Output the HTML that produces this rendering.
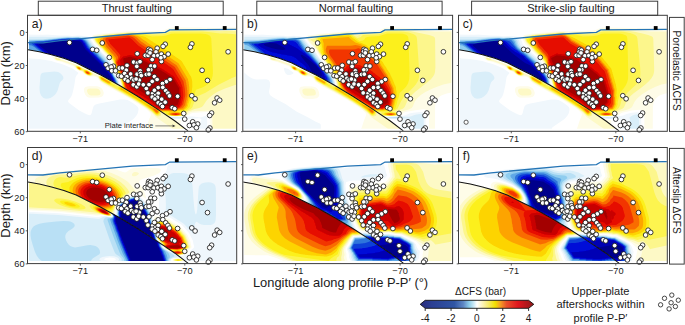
<!DOCTYPE html>
<html><head><meta charset="utf-8"><style>html,body{margin:0;padding:0;background:#fff;overflow:hidden}svg{display:block}</style></head>
<body>
<svg width="685" height="325" viewBox="0 0 685 325">
<defs><filter id="b2" x="-20%" y="-20%" width="140%" height="140%"><feGaussianBlur stdDeviation="2"/></filter><filter id="b1" x="-20%" y="-20%" width="140%" height="140%"><feGaussianBlur stdDeviation="1"/></filter><filter id="bf" x="-5%" y="-5%" width="110%" height="110%"><feGaussianBlur stdDeviation="0.6"/></filter><filter id="b3" x="-20%" y="-20%" width="140%" height="140%"><feGaussianBlur stdDeviation="3"/></filter></defs>
<rect width="685" height="325" fill="#fff"/>
<rect x="38.3" y="1.2" width="184.9" height="14.1" fill="#fff" stroke="#3c3c3c" stroke-width="1"/>
<text x="136.8" y="11.7" font-size="11.1" text-anchor="middle" font-family="Liberation Sans, sans-serif" fill="#1a1a1a">Thrust faulting</text>
<rect x="256.8" y="1.2" width="185.3" height="14.1" fill="#fff" stroke="#3c3c3c" stroke-width="1"/>
<text x="356" y="11.7" font-size="11.1" text-anchor="middle" font-family="Liberation Sans, sans-serif" fill="#1a1a1a">Normal faulting</text>
<rect x="471.6" y="1.2" width="186.1" height="14.1" fill="#fff" stroke="#3c3c3c" stroke-width="1"/>
<text x="571" y="11.7" font-size="11.1" text-anchor="middle" font-family="Liberation Sans, sans-serif" fill="#1a1a1a">Strike-slip faulting</text>
<clipPath id="clipp00"><rect x="28" y="15.8" width="208.2" height="115"/></clipPath>
<clipPath id="clipp00b"><rect x="28" y="15.8" width="208.2" height="115"/></clipPath>
<g clip-path="url(#clipp00)"><g transform="translate(0,0)">
<clipPath id="cuf00"><path d="M28.9,34.6 L43.0,34.8 L60.0,32.6 L132.0,26.0 L165.4,24.4 L169.7,21.9 L236.2,21.4 L236.2,128.8 L185.2,128.8 L175.0,121.0 L156.2,108.4 L137.5,96.2 L118.8,85.0 L100.8,75.0 L88.5,69.0 L76.2,62.8 L63.9,58.3 L51.6,54.8 L39.3,51.8 L27.5,49.7 L28.9,49.7 Z"/></clipPath><clipPath id="clf00"><path d="M28.9,49.7 L27.5,49.7 L39.3,51.8 L51.6,54.8 L63.9,58.3 L76.2,62.8 L88.5,69.0 L100.8,75.0 L118.8,85.0 L137.5,96.2 L156.2,108.4 L175.0,121.0 L185.2,128.8 L28.9,128.8 Z"/></clipPath><g clip-path="url(#cuf00)"><rect x="20" y="10" width="225" height="126" fill="#fff"/><g filter="url(#bf)"><path d="M244.5,135.5 210.4,135.5 210.2,115.0 209.7,113.5 209.0,112.8 208.0,112.3 206.0,112.1 192.5,113.0 191.0,113.5 188.5,115.1 185.0,115.9 178.5,116.4 165.0,116.5 161.5,116.9 160.1,117.5 160.2,118.0 163.5,118.8 178.0,119.9 180.7,120.5 181.0,121.0 181.0,121.5 178.5,130.0 177.8,135.5 124.7,135.5 124.7,121.0 124.2,118.0 124.2,95.0 123.7,92.5 121.4,86.0 121.0,85.5 120.6,83.0 119.6,80.0 118.3,77.5 115.2,73.0 113.5,69.8 113.2,68.5 112.8,68.0 113.0,67.5 112.8,64.5 112.0,62.0 109.0,57.9 103.5,52.3 101.5,49.8 99.4,48.0 94.7,43.0 93.2,40.5 92.3,38.5 91.9,37.0 92.3,36.0 93.5,35.0 101.0,33.8 128.0,31.2 133.0,31.0 140.0,31.2 145.0,30.8 151.0,30.9 161.6,30.5 164.5,30.0 169.5,28.0 172.0,27.6 201.5,27.6 219.0,27.9 226.0,27.5 244.5,27.6 244.5,135.5Z" fill="#fefce8" fill-rule="evenodd"/>
<path d="M244.0,135.5 212.5,135.5 212.4,117.5 212.2,114.0 211.6,112.5 210.5,111.2 209.0,110.6 207.5,110.4 192.5,111.4 189.3,112.5 188.6,113.0 187.3,114.5 186.5,115.0 184.9,115.5 182.5,115.9 175.0,116.2 162.5,115.9 153.5,116.4 153.0,116.8 152.8,117.5 153.1,118.5 154.5,120.0 156.7,121.5 157.4,122.5 156.9,135.5 125.6,135.5 125.6,121.5 125.1,118.0 125.1,95.5 124.9,93.5 122.1,87.0 120.4,80.5 118.7,77.0 116.9,74.5 115.0,71.0 113.7,68.0 113.3,64.0 112.7,61.5 109.5,57.2 104.0,51.6 102.0,49.1 100.0,47.4 95.4,42.5 93.7,39.5 93.3,38.0 93.5,37.0 94.0,36.3 95.5,35.9 105.0,34.3 128.0,32.2 133.0,32.0 139.5,32.3 146.0,32.1 151.5,32.3 162.0,31.9 165.0,31.3 169.5,29.5 172.0,29.1 201.5,29.1 219.5,29.6 226.0,29.3 244.5,29.4 244.5,135.5 244.0,135.5Z" fill="#fdf9c6" fill-rule="evenodd"/>
<path d="M150.5,135.5 126.3,135.5 126.3,121.0 125.8,117.5 125.8,96.0 125.5,93.5 122.4,86.5 121.7,83.0 120.7,80.0 119.3,77.0 117.4,74.0 115.9,71.0 114.0,66.6 113.9,63.5 113.2,61.0 110.0,56.6 104.9,51.5 102.5,48.6 100.5,46.9 96.0,42.2 94.5,39.5 94.3,38.5 94.5,37.4 95.0,37.0 96.5,36.5 105.5,34.9 128.0,32.8 133.0,32.8 139.5,33.2 146.5,33.0 152.0,33.4 162.0,33.1 165.5,32.4 170.5,30.5 172.5,30.3 201.0,30.3 219.5,31.3 225.5,31.1 244.5,31.4 244.5,83.6 239.0,84.1 233.5,85.4 225.0,88.4 218.0,91.5 213.5,94.2 209.5,97.5 206.6,100.5 202.9,106.0 201.8,107.0 199.2,108.0 194.5,109.0 192.3,110.0 187.9,111.5 186.5,112.5 186.1,114.0 185.7,114.5 184.8,115.0 182.9,115.5 180.0,115.9 172.5,116.0 166.6,115.5 160.5,114.4 154.0,113.7 152.5,113.7 151.6,114.0 151.0,114.7 150.6,117.0 150.7,135.5 150.5,135.5Z" fill="#fcf68c" fill-rule="evenodd"/>
<path d="M149.0,135.5 126.9,135.5 126.9,121.0 126.4,117.5 126.4,96.5 126.1,94.0 124.7,90.5 122.9,87.0 122.1,83.0 121.2,80.0 119.9,77.0 116.5,71.0 114.5,66.1 114.4,63.5 113.4,60.5 110.5,56.5 105.1,51.0 102.6,48.0 100.5,46.2 96.5,42.0 95.1,39.5 95.1,38.0 97.0,37.1 105.5,35.3 128.0,33.2 132.5,33.3 139.5,33.8 147.0,33.9 152.0,34.6 160.5,34.4 164.5,33.9 170.5,31.8 173.5,31.4 202.5,31.5 208.3,32.0 220.0,33.5 225.5,33.6 235.5,34.3 244.5,34.4 244.5,75.3 238.0,75.9 235.0,76.7 232.0,77.9 218.5,84.8 205.5,92.7 197.0,96.5 194.9,100.0 192.5,107.0 192.0,107.8 190.6,109.0 184.9,112.0 184.6,112.5 184.8,114.0 184.5,114.5 183.5,115.0 179.0,115.8 172.0,115.8 166.5,115.0 163.5,113.5 162.0,113.2 157.0,112.9 153.0,112.3 151.5,112.4 150.5,112.8 150.0,113.3 149.7,114.0 149.3,117.0 149.3,135.5 149.0,135.5Z" fill="#fdf450" fill-rule="evenodd"/>
<path d="M147.5,135.5 127.5,135.5 127.5,120.0 127.4,118.5 127.0,117.5 127.0,96.5 126.6,94.0 123.4,87.0 122.5,82.5 121.0,78.0 116.9,70.5 115.0,65.6 114.4,62.0 113.6,60.0 111.0,56.3 105.5,50.7 103.0,47.7 101.0,45.9 96.8,41.5 95.8,39.5 95.8,39.0 96.2,38.5 97.5,37.8 105.5,35.7 128.0,33.7 132.5,33.8 140.0,34.6 145.0,34.8 152.5,36.5 163.0,36.1 166.0,35.4 171.0,33.7 174.5,33.4 200.5,33.5 205.5,34.1 207.5,34.6 209.5,35.5 210.6,36.5 211.3,38.5 212.9,69.5 212.9,73.5 212.6,76.0 211.9,78.5 210.9,80.5 208.5,83.5 205.2,86.0 202.3,87.5 196.0,89.8 194.3,94.5 191.8,99.5 190.2,105.0 189.9,106.5 189.4,107.5 187.2,109.5 184.5,110.9 182.2,111.5 181.7,112.0 183.6,113.5 183.8,114.0 183.0,114.7 181.5,115.2 179.0,115.6 172.0,115.6 168.5,115.1 167.0,114.5 166.5,114.0 166.3,113.0 165.9,112.5 162.0,112.1 157.0,112.0 152.5,111.1 150.5,111.2 148.7,112.0 147.9,114.0 147.6,117.0 147.7,135.5 147.5,135.5Z" fill="#fcf01e" fill-rule="evenodd"/>
<path d="M177.5,115.5 172.5,115.5 169.0,114.8 168.3,114.5 168.0,114.0 168.1,113.5 169.2,112.5 168.7,112.0 168.0,111.8 157.5,111.4 152.0,109.5 149.0,108.8 143.0,104.5 142.5,104.4 129.0,95.9 127.0,93.9 124.0,87.5 123.0,83.0 121.5,78.0 117.0,69.0 115.4,65.0 114.7,61.5 114.0,59.7 111.4,56.0 106.0,50.5 103.5,47.5 100.9,45.0 98.8,42.5 97.5,40.5 97.5,39.5 97.7,39.0 101.0,37.4 106.0,36.1 128.0,34.1 134.5,34.5 143.0,36.2 145.4,37.0 147.0,37.9 158.5,45.5 167.3,51.0 168.5,52.0 181.0,60.5 182.2,62.0 191.4,77.5 192.2,81.5 192.4,86.5 191.8,90.5 191.4,95.0 189.7,99.0 189.5,100.5 188.3,104.0 187.8,106.5 186.2,108.5 184.5,109.5 184.0,110.2 174.4,111.5 176.5,111.7 181.0,112.7 182.5,113.5 182.8,114.0 182.5,114.5 181.3,115.0 177.5,115.5Z" fill="#fdd400" fill-rule="evenodd"/>
<path d="M172.0,111.2 170.0,111.3 168.5,111.1 158.0,110.8 156.5,110.5 151.0,107.8 147.0,105.2 142.5,102.8 130.0,95.1 128.0,93.5 126.3,91.5 124.5,88.0 122.0,77.9 121.0,75.4 117.8,69.0 115.8,64.5 114.6,59.0 114.2,58.0 112.5,55.7 106.6,49.5 103.8,46.0 101.9,44.0 100.1,41.5 99.6,40.0 99.8,39.5 101.0,38.3 102.0,37.8 106.5,36.4 128.0,34.5 133.0,34.9 135.5,35.4 138.7,36.5 140.5,37.5 142.5,39.3 146.5,41.8 147.5,42.7 156.5,48.7 158.1,49.5 163.5,53.2 165.1,54.0 166.5,55.2 178.5,63.3 180.5,66.4 181.3,68.0 182.0,68.9 182.8,70.5 183.5,71.4 184.3,73.0 185.0,73.9 185.8,75.5 186.5,76.4 187.2,78.0 188.0,79.0 188.2,81.0 188.7,82.0 188.7,83.5 189.0,84.5 189.0,86.0 189.3,87.0 189.2,88.5 189.4,90.0 189.1,91.5 189.3,92.5 188.9,94.5 189.4,95.0 188.9,95.5 188.7,97.5 188.2,98.0 188.0,100.5 187.5,101.0 187.4,102.5 186.9,103.5 186.8,105.5 185.0,108.0 183.5,109.4 176.0,110.4 172.0,111.2ZM180.0,115.0 176.5,115.4 172.5,115.3 170.5,114.9 169.5,114.5 169.2,114.0 169.5,113.5 171.5,112.7 175.0,112.4 178.0,112.6 180.5,113.1 181.4,113.5 181.8,114.0 181.6,114.5 180.0,115.0Z" fill="#fda400" fill-rule="evenodd"/>
<path d="M170.5,110.6 168.5,110.4 158.0,110.2 157.0,109.8 151.5,106.8 148.0,104.4 143.4,102.0 130.5,94.1 128.5,92.9 126.5,91.0 125.2,88.5 123.1,80.0 121.9,76.0 115.9,63.5 115.6,61.0 116.1,59.5 115.9,58.0 115.5,57.1 114.4,56.0 114.0,55.1 110.4,51.5 110.0,50.6 106.4,47.0 105.5,45.1 103.9,43.0 102.6,40.5 102.5,39.7 103.1,38.5 103.8,38.0 106.5,37.0 128.0,35.0 132.1,35.5 134.2,36.0 136.9,37.5 141.1,41.5 145.0,43.9 146.1,45.0 147.0,45.4 149.1,47.0 154.5,50.4 155.1,51.0 157.0,51.9 162.1,55.5 164.0,56.4 165.1,57.5 170.5,60.9 171.6,62.0 175.5,64.4 176.8,65.5 185.8,80.5 185.8,82.0 186.3,83.0 186.3,84.5 186.7,85.5 186.7,87.0 187.1,88.0 187.0,89.5 187.4,90.5 187.3,92.0 187.5,93.0 187.4,95.0 187.2,96.5 186.6,98.0 186.5,99.5 186.0,100.5 185.8,102.0 185.4,103.0 185.2,105.0 182.9,108.0 182.5,108.3 179.5,109.1 170.5,110.6ZM178.5,115.0 175.5,115.2 172.5,115.0 170.7,114.5 170.4,114.0 171.0,113.5 172.0,113.2 175.5,112.9 179.0,113.2 180.0,113.5 180.7,114.0 180.4,114.5 178.5,115.0Z" fill="#f96c00" fill-rule="evenodd"/>
<path d="M170.5,110.0 164.0,109.8 162.5,109.6 158.5,109.6 157.5,109.4 155.5,107.9 151.0,105.4 150.0,104.6 143.5,101.1 128.7,92.0 127.5,90.6 127.0,90.4 126.0,89.0 122.4,75.5 116.4,63.0 116.4,61.5 117.8,59.0 118.0,58.0 118.0,56.8 115.7,53.5 112.7,50.5 111.7,49.0 108.3,45.5 105.4,40.5 105.3,39.5 105.8,38.5 107.5,37.7 128.0,35.8 129.5,36.0 132.0,36.7 134.2,38.0 139.8,43.5 154.0,53.1 155.5,53.8 161.0,57.6 162.5,58.3 163.8,59.5 174.8,67.0 183.5,81.5 184.8,89.0 185.3,95.0 183.3,104.0 181.5,106.8 180.5,107.6 179.0,108.2 170.5,110.0ZM179.0,114.5 177.0,114.9 175.0,114.9 172.3,114.5 171.9,114.0 173.1,113.5 176.5,113.3 178.1,113.5 179.0,113.8 179.3,114.0 179.0,114.5Z" fill="#f23400" fill-rule="evenodd"/>
<path d="M170.0,109.5 169.0,109.2 164.0,109.2 163.0,108.9 158.0,108.8 155.1,107.0 153.0,105.4 151.5,104.8 150.5,103.8 150.0,103.7 148.5,102.6 148.0,102.6 146.5,101.6 146.0,101.6 145.5,101.1 144.1,100.5 143.0,99.6 142.6,99.5 140.5,98.0 139.0,97.4 138.0,96.5 128.5,90.6 125.9,85.5 123.1,75.5 119.0,67.0 117.3,62.5 117.2,62.0 117.5,61.9 119.7,58.0 120.5,55.5 117.9,52.0 110.5,44.0 108.3,40.0 108.5,39.5 129.5,37.5 131.5,39.0 138.1,45.5 152.5,55.3 161.0,60.5 173.0,69.0 180.7,82.0 181.1,83.5 182.4,87.0 183.2,94.5 183.1,98.0 181.5,104.5 179.4,107.0 178.5,107.5 170.0,109.5ZM176.5,114.5 175.0,114.5 174.3,114.0 175.5,113.8 177.2,114.0 176.5,114.5Z" fill="#e60800" fill-rule="evenodd"/>
<path d="M172.5,108.0 170.0,108.3 158.8,108.0 149.6,100.5 145.5,98.1 142.0,95.7 140.5,95.0 132.0,89.3 130.4,88.5 126.3,79.5 125.7,76.5 124.7,73.5 124.7,72.5 120.7,64.5 120.6,63.0 120.0,60.5 122.0,57.8 123.5,56.5 125.0,56.3 125.5,56.0 126.5,56.0 130.0,55.0 133.5,56.0 134.5,56.0 135.0,56.3 136.5,56.5 137.0,56.8 138.5,57.0 139.0,57.3 140.5,57.5 141.0,57.8 142.5,58.0 143.5,58.8 148.0,61.0 149.0,61.8 155.0,64.8 155.5,65.3 165.0,70.8 174.0,76.8 178.2,84.0 178.9,85.0 179.6,86.5 180.4,87.5 180.5,91.5 181.0,93.0 180.9,96.5 181.3,98.0 180.9,99.0 180.7,100.5 180.4,101.0 180.2,102.5 179.9,103.0 179.7,104.5 179.1,105.0 178.5,106.3 178.0,106.5 177.0,106.6 176.5,106.9 175.5,106.9 174.0,107.7 173.0,107.7 172.5,108.0Z" fill="#c80000" fill-rule="evenodd"/>
<path d="M173.0,105.6 169.5,105.9 160.0,105.8 155.9,102.5 151.5,98.2 133.5,86.4 131.8,83.5 129.6,78.5 127.8,71.0 123.8,63.0 123.2,59.0 123.5,58.4 124.0,57.9 125.5,57.9 126.0,57.4 127.5,57.4 128.0,56.9 129.5,56.9 130.0,56.4 130.5,56.9 132.0,56.9 132.5,57.4 134.0,57.4 134.5,57.9 136.0,57.9 136.5,58.4 138.0,58.4 138.5,58.9 140.0,58.9 140.5,59.4 142.0,59.4 143.0,60.4 143.5,60.4 144.0,60.9 144.5,60.9 145.0,61.4 145.5,61.4 146.0,61.9 146.5,61.9 147.0,62.4 147.5,62.4 148.5,63.4 149.0,63.4 149.5,63.9 150.0,63.9 150.5,64.4 151.0,64.4 151.5,64.9 152.0,64.9 152.5,65.4 153.0,65.4 153.5,65.9 154.0,65.9 155.0,66.9 155.5,66.9 156.0,67.4 156.5,67.4 157.5,68.4 158.0,68.4 158.5,68.9 159.0,68.9 160.0,69.9 160.5,69.9 161.0,70.4 161.5,70.4 162.5,71.4 163.0,71.4 163.5,71.9 164.0,71.9 165.0,72.9 165.5,72.9 166.5,73.9 167.0,73.9 168.0,74.9 168.5,74.9 169.5,75.9 170.0,75.9 171.0,76.9 171.5,76.9 172.5,77.9 173.0,77.9 173.1,78.5 173.6,79.0 173.6,79.5 174.6,80.5 174.6,81.0 175.1,81.5 175.1,82.0 176.1,83.0 176.1,83.5 176.6,84.0 176.6,84.5 177.6,85.5 177.6,86.0 178.1,86.5 178.1,87.0 179.1,88.0 179.0,92.5 179.5,93.0 179.5,97.5 179.7,98.0 178.8,100.5 178.8,101.5 178.3,102.5 178.2,103.5 177.8,104.5 177.0,104.9 173.0,105.6Z" fill="#a30000" fill-rule="evenodd"/>
<path d="M123.0,135.5 20.0,135.5 20.0,34.2 42.5,34.2 59.5,35.5 68.5,35.6 72.0,35.9 78.0,35.5 82.0,35.7 86.0,36.3 88.0,36.7 89.0,37.2 90.4,38.5 93.9,44.0 98.5,48.8 100.5,50.5 102.6,53.0 108.0,58.5 111.3,63.0 112.1,66.0 112.1,68.0 112.6,69.0 113.4,72.0 115.0,74.5 117.5,77.8 119.3,81.5 120.0,84.5 121.2,87.5 122.1,90.5 122.8,94.5 122.8,118.0 123.3,121.5 123.3,135.5 123.0,135.5ZM207.0,135.5 194.9,135.5 195.2,133.0 196.2,130.0 201.2,120.5 201.4,119.5 201.2,119.0 200.5,118.5 199.0,118.2 190.0,118.9 175.5,118.9 168.0,118.4 165.9,118.0 165.4,117.5 167.1,117.0 169.0,116.8 189.5,116.4 193.5,116.5 200.0,117.4 201.5,117.2 204.8,116.0 206.2,116.0 206.9,117.0 207.1,118.5 207.5,135.5 207.0,135.5Z" fill="#f0f7fc" fill-rule="evenodd"/>
<path d="M122.0,135.5 20.0,135.5 20.0,36.7 42.0,36.7 52.5,37.0 68.0,36.5 72.5,36.7 78.0,36.4 82.5,36.8 85.5,37.3 88.0,38.3 89.7,39.5 92.9,44.5 98.0,49.6 100.0,51.3 101.8,53.5 107.2,59.0 110.6,63.5 111.2,65.5 111.5,68.0 113.0,72.0 114.0,74.2 117.5,79.0 118.5,81.5 119.0,84.0 119.6,84.5 120.7,87.5 121.8,94.5 121.8,118.5 122.3,121.5 122.3,135.5 122.0,135.5ZM185.5,118.0 181.0,118.4 175.0,118.4 170.0,118.0 169.1,117.5 174.3,117.0 178.0,117.0 182.5,117.0 186.8,117.5 185.5,118.0Z" fill="#d9eef9" fill-rule="evenodd"/>
<path d="M121.0,135.5 20.0,135.5 20.0,39.5 42.5,39.3 62.0,37.4 68.0,37.1 72.5,37.3 78.5,37.0 85.0,38.0 86.5,38.6 88.5,40.0 91.7,45.0 97.2,50.5 99.5,52.3 101.0,54.3 106.5,59.8 109.9,64.5 110.3,65.5 110.5,67.0 111.7,69.5 112.5,72.0 114.0,75.2 116.4,78.5 118.2,82.5 118.7,84.5 119.3,85.5 120.0,88.5 120.1,92.0 120.5,94.5 120.5,118.5 121.0,121.5 121.0,135.5Z" fill="#b9e0f5" fill-rule="evenodd"/>
<path d="M119.5,135.5 20.0,135.5 20.0,40.4 43.0,40.1 62.5,37.9 68.0,37.6 72.0,37.7 78.5,37.4 84.0,38.3 85.6,39.0 87.6,40.5 91.0,46.0 96.5,51.5 98.5,53.0 100.0,55.0 105.9,61.0 108.8,65.0 111.1,69.5 113.9,76.0 115.8,78.5 116.3,80.0 117.1,81.0 118.2,85.0 118.8,86.0 119.0,89.0 118.7,90.0 119.3,95.0 119.3,119.0 119.8,121.5 119.8,135.5 119.5,135.5Z" fill="#8fcdef" fill-rule="evenodd"/>
<path d="M118.5,135.5 20.0,135.5 20.0,41.1 30.0,41.1 43.0,40.6 62.5,38.3 68.0,37.9 72.0,38.1 78.5,37.8 84.0,38.9 85.1,39.5 86.8,41.0 90.2,46.5 96.0,52.3 98.0,53.8 99.2,55.5 105.5,62.0 109.0,66.9 110.5,69.5 113.5,76.0 115.4,78.5 117.2,83.0 117.9,88.0 117.6,90.0 118.4,95.0 118.4,119.0 118.9,121.5 118.9,135.5 118.5,135.5Z" fill="#5ea8e6" fill-rule="evenodd"/>
<path d="M117.5,135.5 20.0,135.5 20.0,54.2 38.0,54.1 40.0,53.8 40.7,53.5 40.9,53.0 40.3,52.0 38.1,50.0 34.3,47.0 31.8,45.5 28.5,44.9 20.0,44.8 20.0,42.0 29.5,41.9 36.5,41.3 43.5,41.1 57.5,39.3 68.5,38.3 72.5,38.5 79.0,38.2 83.0,39.2 85.0,40.5 86.3,42.0 89.2,47.0 95.5,53.3 97.2,54.5 98.2,56.0 104.6,62.5 106.2,65.0 109.7,69.5 112.0,73.6 113.3,76.5 115.0,79.0 116.0,81.5 116.6,83.5 116.7,84.5 116.5,90.5 117.4,95.0 117.4,119.0 117.9,121.5 117.9,135.5 117.5,135.5Z" fill="#2f74dc" fill-rule="evenodd"/>
<path d="M116.5,135.5 20.0,135.5 20.0,55.3 40.0,55.2 42.5,54.9 43.3,54.5 43.5,54.0 43.2,53.0 41.8,51.5 32.1,44.0 31.6,43.5 31.7,43.0 32.8,42.5 36.0,41.8 44.0,41.4 57.5,39.7 68.0,38.7 72.5,38.8 79.0,38.7 82.3,39.5 84.3,41.0 85.5,42.4 88.4,47.5 94.8,54.0 96.5,55.2 97.5,56.7 103.5,62.6 105.4,65.5 109.2,70.0 112.0,74.7 112.8,76.5 114.5,79.0 115.4,81.5 115.8,84.0 115.6,86.5 115.3,88.0 115.5,90.5 116.4,95.0 116.4,119.5 116.9,121.5 116.9,135.5 116.5,135.5Z" fill="#1040d8" fill-rule="evenodd"/>
<path d="M115.5,135.5 20.0,135.5 20.0,56.2 41.0,56.2 43.5,56.0 45.0,55.5 45.5,55.0 45.6,54.5 45.2,53.5 44.4,52.5 35.9,45.5 34.4,44.0 34.3,43.5 34.7,43.0 35.9,42.5 38.5,42.1 44.0,41.9 57.5,40.1 68.0,39.1 79.5,39.1 81.5,39.8 82.6,40.5 84.7,43.0 87.5,48.1 94.4,55.0 95.9,56.0 96.5,57.1 102.9,63.5 104.5,66.0 108.6,70.5 110.6,73.5 114.0,79.5 114.6,82.0 114.8,84.0 114.2,86.0 114.0,88.5 114.4,89.5 114.4,91.0 114.8,92.0 114.9,93.5 115.4,95.0 115.4,120.0 115.9,121.5 115.9,135.5 115.5,135.5Z" fill="#0008d8" fill-rule="evenodd"/>
<path d="M114.5,135.5 20.0,135.5 20.0,57.2 42.5,57.2 45.5,56.9 47.0,56.2 47.5,55.5 47.6,55.0 47.2,54.0 46.5,53.0 44.4,51.0 38.1,46.0 36.7,44.5 36.5,44.0 36.7,43.5 37.7,43.0 44.5,42.4 58.2,40.5 68.0,39.6 80.0,39.9 81.8,41.0 83.7,43.5 84.9,46.0 85.7,47.0 86.5,48.7 93.8,56.0 95.0,56.7 95.5,57.7 102.0,64.1 103.7,66.5 107.8,71.0 110.0,74.0 113.0,79.5 113.5,82.0 113.0,83.5 113.1,84.5 112.7,86.0 112.9,87.0 112.9,88.5 113.3,90.0 113.4,91.5 113.8,92.5 113.9,94.0 114.3,95.0 114.3,120.0 114.8,121.5 114.8,135.5 114.5,135.5Z" fill="#0000b4" fill-rule="evenodd"/>
<path d="M113.5,135.5 20.0,135.5 20.0,58.5 44.0,58.4 47.0,58.1 48.6,57.5 49.2,57.0 49.7,56.0 49.6,55.0 49.2,54.0 46.9,51.5 39.7,45.5 39.1,44.5 39.3,44.0 40.0,43.7 58.0,41.2 68.0,40.2 78.2,41.0 79.5,41.3 81.0,42.0 81.6,42.5 81.6,43.0 82.6,44.0 82.6,44.5 83.1,45.0 83.1,45.5 83.6,46.0 83.6,46.5 84.6,47.5 84.6,48.0 85.1,48.5 85.1,49.0 93.5,57.4 94.1,57.5 94.1,58.0 101.3,65.0 101.3,65.5 102.4,66.5 102.5,67.0 104.0,68.3 105.8,70.5 107.0,71.5 110.0,75.9 111.8,79.5 111.9,82.0 111.1,84.5 111.5,85.0 111.2,87.0 111.7,87.5 111.6,89.5 112.1,90.0 112.1,92.0 112.6,92.5 112.6,94.5 113.1,95.0 113.1,121.0 113.6,121.5 113.5,135.5Z" fill="#00008c" fill-rule="evenodd"/></g></g><g clip-path="url(#clf00)"><rect x="20" y="10" width="225" height="126" fill="#fff"/><g filter="url(#bf)"><path d="M33.0,52.5 31.9,52.5 33.0,52.5ZM244.5,135.5 144.9,135.5 145.1,132.5 146.1,128.5 148.5,121.0 150.9,115.0 150.8,114.0 150.3,113.0 147.2,110.0 142.5,106.5 131.3,99.5 121.7,94.0 108.0,86.8 103.0,83.8 100.0,81.6 98.0,78.4 96.5,77.3 94.0,76.4 90.5,76.7 87.5,75.9 85.0,74.4 82.0,71.8 79.0,70.6 77.5,69.8 73.5,66.2 62.0,62.0 55.5,60.3 54.4,59.5 53.0,57.7 52.1,57.0 53.5,56.6 57.0,57.3 74.4,63.5 97.5,74.7 101.5,75.7 109.5,80.0 111.5,80.2 122.5,86.2 137.5,95.3 150.5,103.5 155.4,106.0 158.0,106.9 159.5,107.1 160.5,107.0 162.0,106.3 235.6,69.5 240.5,67.5 242.5,66.9 244.5,66.7 244.5,135.5ZM99.0,97.6 90.5,97.8 88.5,97.4 87.0,96.7 85.4,95.0 84.2,92.0 83.9,89.5 84.4,88.0 85.0,87.3 86.0,86.7 89.0,86.2 97.0,86.3 99.0,86.7 100.5,87.4 101.8,88.5 102.8,90.0 103.7,92.5 103.7,94.0 103.1,95.5 102.1,96.5 101.0,97.1 99.0,97.6Z" fill="#fefce8" fill-rule="evenodd"/>
<path d="M191.0,135.5 181.0,135.5 179.9,134.0 175.2,130.5 156.0,117.3 151.6,112.5 143.8,106.5 136.8,102.0 127.5,96.4 103.0,82.7 100.5,81.0 98.5,78.1 97.0,76.6 95.5,75.9 94.0,75.4 93.0,75.5 90.5,76.1 89.0,75.9 87.5,75.4 85.0,73.9 82.5,71.4 79.0,70.3 77.5,69.4 76.1,68.0 74.5,66.0 73.5,65.3 62.5,61.3 59.0,60.7 56.0,59.9 54.9,59.0 54.5,58.0 55.0,57.5 56.0,57.4 58.0,57.9 59.8,58.5 62.0,59.7 74.4,64.0 88.0,70.2 96.5,74.8 98.0,75.4 100.5,75.8 102.0,76.3 109.0,80.1 111.0,80.6 118.0,84.7 122.5,86.8 137.5,95.8 149.4,103.5 158.0,108.2 159.8,109.5 162.5,112.1 173.0,118.7 180.0,123.8 189.2,131.0 190.8,133.0 191.2,135.0 191.2,135.5 191.0,135.5ZM97.0,95.5 91.5,95.5 90.0,95.3 89.0,94.8 88.0,93.8 87.2,92.0 87.0,90.5 87.3,89.5 88.5,88.7 90.5,88.5 96.0,88.5 98.5,89.1 99.5,90.0 100.1,91.0 100.5,92.5 100.5,93.5 100.1,94.5 99.5,95.0 97.0,95.5Z" fill="#fdf9c6" fill-rule="evenodd"/>
<path d="M60.0,60.1 58.5,60.0 56.5,59.4 55.7,59.0 55.4,58.5 55.5,58.1 56.5,57.9 59.5,58.9 60.4,59.5 60.4,60.0 60.0,60.1ZM91.0,75.5 89.5,75.6 87.0,74.8 85.1,73.5 82.5,70.8 79.5,70.2 78.0,69.4 76.9,68.5 76.1,67.5 75.5,66.0 75.6,65.5 76.5,65.4 78.5,66.1 82.5,68.3 87.0,70.0 90.6,72.0 92.8,73.5 93.1,74.0 92.8,74.5 91.0,75.5ZM160.0,116.1 158.0,116.5 156.0,115.7 152.0,111.9 147.0,108.0 137.5,101.7 120.0,91.4 108.5,85.2 102.5,81.7 100.3,80.0 98.2,76.5 99.0,76.0 101.5,76.4 108.5,80.2 111.0,81.2 112.5,82.3 118.0,85.4 121.5,86.7 137.0,96.0 148.7,103.5 157.5,108.5 159.8,110.5 160.9,112.0 161.2,113.5 161.1,114.5 160.8,115.5 160.0,116.1Z" fill="#fcf68c" fill-rule="evenodd"/>
<path d="M91.0,75.1 90.0,75.3 89.0,75.3 86.5,74.3 84.9,73.0 83.0,70.4 82.5,70.2 80.0,70.1 77.7,69.0 76.5,67.5 76.2,66.5 76.5,66.1 77.0,66.0 78.5,66.4 80.7,67.5 83.0,69.3 86.0,69.9 89.4,71.5 90.8,72.5 91.8,73.5 91.9,74.0 91.7,74.5 91.0,75.1ZM158.5,115.3 157.5,115.5 156.0,114.9 152.0,111.2 147.0,107.4 136.5,100.4 116.5,88.7 111.0,85.8 108.5,84.7 102.0,80.9 101.0,80.1 100.0,78.9 99.2,77.5 99.1,77.0 99.2,76.5 100.5,76.3 102.0,76.8 110.5,81.3 112.5,83.0 117.5,85.9 118.5,86.3 120.5,86.7 122.0,87.3 137.0,96.4 149.0,104.1 157.5,108.9 159.7,111.0 160.4,112.5 160.0,113.9 158.5,115.3Z" fill="#fdf450" fill-rule="evenodd"/>
<path d="M81.5,69.8 80.0,69.9 78.0,69.0 76.8,67.5 76.7,67.0 77.0,66.5 78.5,66.6 80.3,67.5 81.8,69.0 81.8,69.5 81.5,69.8ZM90.0,75.0 88.0,74.8 86.0,73.7 84.4,72.0 84.0,71.0 84.0,70.4 84.5,70.0 86.0,70.2 88.0,71.0 89.7,72.0 90.8,73.0 91.2,74.0 90.9,74.5 90.0,75.0ZM115.0,86.2 114.0,86.0 112.0,85.0 109.0,84.4 103.5,81.4 100.9,79.5 99.9,78.0 99.7,77.0 100.5,76.6 101.8,77.0 110.1,81.5 110.7,82.0 112.0,83.9 115.1,86.0 115.0,86.2ZM158.0,114.6 157.0,114.7 156.0,114.3 151.5,110.1 143.0,103.9 136.5,99.8 120.0,90.0 118.2,88.5 117.8,88.0 117.9,87.5 120.0,87.0 121.6,87.5 136.6,96.5 148.5,104.1 157.1,109.0 158.8,110.5 159.8,112.0 159.7,113.0 159.5,113.4 158.0,114.6Z" fill="#fcf01e" fill-rule="evenodd"/>
<path d="M81.0,69.6 80.0,69.7 78.3,69.0 77.3,68.0 77.1,67.5 77.2,67.0 78.5,66.9 80.0,67.6 81.3,69.0 81.0,69.6ZM90.0,74.6 89.0,74.8 88.0,74.5 86.1,73.5 85.1,72.5 84.6,71.5 84.5,71.0 84.9,70.5 86.5,70.6 89.3,72.0 90.6,73.5 90.6,74.0 90.0,74.6ZM109.5,84.0 108.0,83.5 101.5,79.5 100.4,78.0 100.3,77.5 100.5,77.1 101.0,77.0 102.0,77.4 109.5,81.5 110.2,82.0 110.6,83.0 110.5,83.7 110.0,84.0 109.5,84.0ZM157.5,114.0 157.0,114.1 156.0,113.7 151.5,109.4 143.0,103.2 137.0,99.4 120.5,89.6 119.8,89.0 119.6,88.0 120.5,87.6 121.8,88.0 136.7,97.0 148.0,104.3 157.0,109.3 158.4,110.5 159.3,112.0 159.0,113.1 157.5,114.0Z" fill="#fdd400" fill-rule="evenodd"/>
<path d="M80.5,69.4 79.5,69.4 78.7,69.0 77.6,68.0 77.5,67.4 78.0,67.1 79.5,67.6 80.6,68.5 80.8,69.0 80.5,69.4ZM90.0,74.1 89.5,74.4 88.5,74.4 86.5,73.5 85.1,72.0 85.0,71.5 85.2,71.0 86.5,70.9 88.5,71.7 89.9,73.0 90.2,73.5 90.0,74.1ZM109.5,83.3 108.1,83.0 103.0,80.0 101.5,78.9 101.0,77.8 101.5,77.6 102.5,78.0 108.9,81.5 109.9,82.5 109.8,83.0 109.5,83.3ZM121.0,88.9 120.9,88.5 121.4,88.5 121.0,88.9ZM126.0,91.9 121.0,89.0 121.5,88.5 124.0,90.0 126.4,91.5 126.0,91.9ZM128.5,93.3 126.1,92.0 126.5,91.6 128.9,93.0 128.5,93.3ZM129.5,93.8 128.7,93.5 129.0,93.2 129.6,93.5 129.5,93.8ZM131.0,94.8 129.7,94.0 130.5,94.0 131.3,94.5 131.0,94.8ZM132.0,95.2 131.3,95.0 131.5,94.8 132.1,95.0 132.0,95.2ZM132.5,95.6 132.2,95.5 132.9,95.5 132.5,95.6ZM133.5,96.2 132.9,96.0 133.0,95.6 133.8,96.0 133.5,96.2ZM134.5,96.6 133.8,96.5 134.0,96.3 134.5,96.6ZM135.0,97.1 134.8,97.0 135.4,97.0 135.0,97.1ZM136.0,97.7 135.5,97.5 135.5,97.2 136.2,97.5 136.0,97.7ZM136.5,98.0 136.7,98.0 136.5,98.0ZM140.0,100.2 139.6,100.0 140.0,100.0 140.0,100.2ZM141.5,101.2 140.3,100.5 140.5,100.3 141.0,100.5 141.8,101.0 141.5,101.2ZM142.0,101.6 141.8,101.5 142.0,101.3 142.4,101.5 142.0,101.6ZM146.0,104.1 145.8,104.0 146.3,104.0 146.0,104.1ZM158.0,113.1 157.0,113.4 156.0,113.0 152.0,109.1 146.3,104.5 146.5,104.2 156.0,109.0 157.5,110.0 158.4,111.0 158.8,112.0 158.7,112.5 158.0,113.1Z" fill="#fda400" fill-rule="evenodd"/>
<path d="M80.0,69.1 79.0,68.9 78.0,68.0 78.5,67.5 79.5,67.9 80.1,68.5 80.0,69.1ZM89.0,74.1 88.0,74.0 86.5,73.2 85.8,72.5 85.6,71.5 86.5,71.2 88.5,72.1 89.4,73.0 89.6,73.5 89.3,74.0 89.0,74.1ZM157.0,112.6 156.0,112.2 154.8,111.0 153.2,109.0 153.5,108.6 156.0,109.5 157.4,110.5 158.0,111.5 158.0,112.0 157.5,112.5 157.0,112.6Z" fill="#f96c00" fill-rule="evenodd"/>
<path d="M88.5,73.6 87.7,73.5 86.8,73.0 86.4,72.5 86.3,72.0 87.0,71.8 88.4,72.5 88.8,73.0 88.7,73.5 88.5,73.6Z" fill="#f23400" fill-rule="evenodd"/>
<path d="M109.5,79.1 108.9,79.0 103.0,75.7 101.5,75.2 98.5,74.6 97.1,74.0 75.0,63.2 60.0,57.7 55.0,56.3 54.3,55.5 54.1,54.5 54.5,52.6 55.5,51.5 57.5,51.5 58.0,52.0 57.5,52.0 57.3,52.5 57.8,52.5 58.0,52.0 58.5,52.0 58.8,52.5 60.0,52.6 60.4,53.5 61.4,53.5 61.5,53.0 62.0,53.0 62.3,53.5 64.0,53.5 64.4,54.0 64.3,54.5 66.5,54.6 67.1,55.0 68.5,55.0 68.9,55.5 70.0,55.5 70.4,56.0 70.4,56.5 72.0,56.6 72.6,57.0 74.0,57.0 74.4,57.5 75.5,57.5 75.9,58.0 75.9,58.5 79.0,59.0 79.4,59.5 95.0,59.5 95.5,60.0 95.5,61.5 96.0,62.0 96.0,63.5 96.5,64.0 96.5,65.5 97.0,66.0 93.5,66.3 93.4,66.5 94.2,67.5 95.5,68.5 98.5,70.1 101.4,73.0 104.0,75.2 107.0,76.6 109.5,78.3 109.7,79.0 109.5,79.1ZM72.0,56.0 72.0,55.5 72.5,56.0 72.0,56.0ZM105.0,135.5 20.0,135.5 20.0,64.0 22.5,64.0 23.0,63.5 23.5,63.5 23.5,58.0 24.0,57.5 25.0,57.5 26.0,57.9 29.0,58.0 30.5,58.4 39.1,59.0 51.5,61.0 55.0,62.3 61.7,64.0 66.7,66.0 72.4,68.5 78.1,72.5 78.4,73.0 78.2,73.5 76.5,75.4 75.5,77.6 74.1,86.5 72.2,94.5 71.0,97.0 68.5,100.0 68.0,101.0 68.1,101.5 68.7,102.5 69.8,103.5 78.5,109.9 82.5,112.3 86.5,114.2 89.5,115.2 90.5,115.0 91.0,114.6 91.7,113.0 92.8,108.5 93.5,106.6 94.5,105.2 95.7,104.5 99.4,103.5 120.0,99.6 124.5,99.5 127.5,100.1 130.3,101.5 133.5,103.5 136.2,105.5 137.8,107.0 138.3,108.0 138.5,109.0 138.3,111.0 137.8,113.0 137.0,114.8 136.0,116.3 133.5,118.9 121.9,127.0 121.3,127.5 121.0,128.5 120.5,129.0 118.0,129.0 117.5,129.5 115.0,129.5 114.5,130.0 112.5,130.0 112.0,130.5 105.5,130.5 105.5,135.5 105.0,135.5Z" fill="#f0f7fc" fill-rule="evenodd"/>
<path d="M100.0,74.1 98.5,74.1 97.1,73.5 75.0,62.7 61.5,58.0 60.0,57.2 55.6,56.0 55.2,55.5 55.4,55.0 57.5,55.3 61.5,56.4 68.5,58.7 77.0,61.8 98.0,72.4 99.7,73.5 100.0,74.1ZM48.5,98.6 46.0,98.7 43.5,97.9 41.5,96.1 40.2,93.5 39.7,91.0 39.5,87.5 40.4,76.0 40.8,74.5 41.5,73.5 42.0,73.1 44.0,72.5 54.5,71.6 56.5,71.7 58.1,72.0 60.0,73.0 62.1,75.0 63.3,77.0 63.4,78.5 62.9,79.5 61.0,81.2 60.0,82.6 59.3,84.5 57.6,90.5 56.0,93.5 54.6,95.0 52.5,96.7 50.5,97.9 48.5,98.6Z" fill="#d9eef9" fill-rule="evenodd"/></g></g>
<polyline fill="none" stroke="#2474b5" stroke-width="1.3" points="27.5,42.6 43,42.8 60,40.6 132,34 165.4,32.4 169.7,29.85 237.6,29.4"/>
</g></g>
<g transform="translate(0,0)">
<g clip-path="url(#clipp00b)"><polyline fill="none" stroke="#111" stroke-width="1.05" points="27.5,49.7 39.3,51.8 51.6,54.8 63.9,58.3 76.2,62.8 88.5,69 100.8,75 118.75,85 137.5,96.25 156.25,108.4 175,121 186.3,129.6 188,131"/></g>
<text x="104.7" y="127.7" font-size="7.6" font-family="Liberation Sans, sans-serif" fill="#222">Plate interface</text>
<line x1="155.3" y1="125.9" x2="173.5" y2="125.9" stroke="#333" stroke-width="0.6"/><path d="M175.5,125.9 L172.3,124.6 L172.9,125.9 L172.3,127.2 Z" fill="#333"/>
<rect x="174.9" y="26.1" width="3.8" height="3.8" fill="#000"/>
<rect x="222.8" y="26.1" width="3.8" height="3.8" fill="#000"/>
<g fill="#fff" stroke="#1a1a1a" stroke-width="0.85"><circle cx="102.3" cy="43" r="2.35"/><circle cx="92.6" cy="49.4" r="2.35"/><circle cx="96.7" cy="50.3" r="2.35"/><circle cx="109.3" cy="57.4" r="2.35"/><circle cx="106" cy="64.8" r="2.35"/><circle cx="113.5" cy="66.2" r="2.35"/><circle cx="137.2" cy="53.7" r="2.35"/><circle cx="148.7" cy="49.3" r="2.35"/><circle cx="145.3" cy="55.4" r="2.35"/><circle cx="148.1" cy="55.4" r="2.35"/><circle cx="133.6" cy="62.1" r="2.35"/><circle cx="137.3" cy="63" r="2.35"/><circle cx="140" cy="61.7" r="2.35"/><circle cx="136.8" cy="66.4" r="2.35"/><circle cx="127" cy="65.4" r="2.35"/><circle cx="119.4" cy="68.1" r="2.35"/><circle cx="122.4" cy="68" r="2.35"/><circle cx="108.1" cy="68.2" r="2.35"/><circle cx="165.2" cy="44.2" r="2.35"/><circle cx="163.1" cy="46.4" r="2.35"/><circle cx="157.2" cy="48.2" r="2.35"/><circle cx="148.2" cy="51.7" r="2.35"/><circle cx="156" cy="51.9" r="2.35"/><circle cx="153.9" cy="55.8" r="2.35"/><circle cx="157.9" cy="55.5" r="2.35"/><circle cx="161.4" cy="54.1" r="2.35"/><circle cx="164.1" cy="56.7" r="2.35"/><circle cx="168.2" cy="54.1" r="2.35"/><circle cx="152.2" cy="59.6" r="2.35"/><circle cx="161.4" cy="61.5" r="2.35"/><circle cx="160.9" cy="57.8" r="2.35"/><circle cx="150.9" cy="66" r="2.35"/><circle cx="154.6" cy="66.1" r="2.35"/><circle cx="150.5" cy="50.2" r="2.35"/><circle cx="150" cy="52.9" r="2.35"/><circle cx="150.8" cy="69.7" r="2.35"/><circle cx="191.9" cy="43.9" r="2.35"/><circle cx="190.4" cy="47.3" r="2.35"/><circle cx="69.5" cy="42.6" r="2.35"/><circle cx="111.2" cy="67" r="2.35"/><circle cx="111.7" cy="70.8" r="2.35"/><circle cx="115.5" cy="70.8" r="2.35"/><circle cx="126.3" cy="70.2" r="2.35"/><circle cx="118.7" cy="75.6" r="2.35"/><circle cx="121.4" cy="76.2" r="2.35"/><circle cx="124.6" cy="73.5" r="2.35"/><circle cx="126.8" cy="76.7" r="2.35"/><circle cx="130.6" cy="74" r="2.35"/><circle cx="125.2" cy="79.4" r="2.35"/><circle cx="127.9" cy="81" r="2.35"/><circle cx="131.6" cy="78.3" r="2.35"/><circle cx="133.8" cy="79.9" r="2.35"/><circle cx="137.1" cy="74.2" r="2.35"/><circle cx="140.1" cy="70.8" r="2.35"/><circle cx="140.6" cy="73.5" r="2.35"/><circle cx="141.3" cy="75.6" r="2.35"/><circle cx="139.2" cy="80.2" r="2.35"/><circle cx="133.3" cy="84.8" r="2.35"/><circle cx="136.8" cy="86.8" r="2.35"/><circle cx="138.7" cy="84" r="2.35"/><circle cx="143.3" cy="84.8" r="2.35"/><circle cx="148.5" cy="69.8" r="2.35"/><circle cx="146.3" cy="74.5" r="2.35"/><circle cx="149" cy="74.2" r="2.35"/><circle cx="154.4" cy="76.6" r="2.35"/><circle cx="157.1" cy="79.5" r="2.35"/><circle cx="152.2" cy="81.4" r="2.35"/><circle cx="170" cy="79.5" r="2.35"/><circle cx="166.3" cy="81.7" r="2.35"/><circle cx="162.5" cy="83.5" r="2.35"/><circle cx="136.1" cy="79" r="2.35"/><circle cx="149" cy="84.6" r="2.35"/><circle cx="146.3" cy="88.5" r="2.35"/><circle cx="158.2" cy="87.6" r="2.35"/><circle cx="162.8" cy="87.4" r="2.35"/><circle cx="165.7" cy="90.6" r="2.35"/><circle cx="167.9" cy="93.2" r="2.35"/><circle cx="169.5" cy="95.9" r="2.35"/><circle cx="147.9" cy="92.9" r="2.35"/><circle cx="152.8" cy="93.4" r="2.35"/><circle cx="154.4" cy="90.3" r="2.35"/><circle cx="155.5" cy="95.5" r="2.35"/><circle cx="158.2" cy="93.3" r="2.35"/><circle cx="152.2" cy="97" r="2.35"/><circle cx="157.6" cy="97.3" r="2.35"/><circle cx="161.7" cy="99.2" r="2.35"/><circle cx="177.6" cy="96.3" r="2.35"/><circle cx="154.9" cy="99" r="2.35"/><circle cx="158.2" cy="102.8" r="2.35"/><circle cx="160.9" cy="104.4" r="2.35"/><circle cx="162.5" cy="106.5" r="2.35"/><circle cx="165.2" cy="102.2" r="2.35"/><circle cx="172.2" cy="107.6" r="2.35"/><circle cx="174.7" cy="108.7" r="2.35"/><circle cx="183.7" cy="113.4" r="2.35"/><circle cx="184.7" cy="119.1" r="2.35"/><circle cx="202.1" cy="70.3" r="2.35"/><circle cx="207.5" cy="80.4" r="2.35"/><circle cx="191.8" cy="95.7" r="2.35"/><circle cx="195.1" cy="98.8" r="2.35"/><circle cx="217.1" cy="98" r="2.35"/><circle cx="219.7" cy="100.2" r="2.35"/><circle cx="214.6" cy="102.8" r="2.35"/><circle cx="211.6" cy="113" r="2.35"/><circle cx="209.7" cy="115.5" r="2.35"/><circle cx="192.7" cy="121.8" r="2.35"/><circle cx="197.7" cy="124" r="2.35"/><circle cx="189.4" cy="125.5" r="2.35"/><circle cx="193.9" cy="124.9" r="2.35"/><circle cx="196.4" cy="127.7" r="2.35"/><circle cx="209.9" cy="128" r="2.35"/><circle cx="208.3" cy="129.9" r="2.35"/><circle cx="228.1" cy="51.8" r="2.35"/></g>
</g>
<rect x="27.5" y="15.3" width="209.2" height="116" fill="none" stroke="#3c3c3c" stroke-width="1"/>
<line x1="80.3" y1="131.3" x2="80.3" y2="133.3" stroke="#3c3c3c" stroke-width="0.8"/>
<text x="80.3" y="141.6" font-size="9.2" text-anchor="middle" font-family="Liberation Sans, sans-serif" fill="#1a1a1a">−71</text>
<line x1="184.8" y1="131.3" x2="184.8" y2="133.3" stroke="#3c3c3c" stroke-width="0.8"/>
<text x="184.8" y="141.6" font-size="9.2" text-anchor="middle" font-family="Liberation Sans, sans-serif" fill="#1a1a1a">−70</text>
<line x1="25.7" y1="32.4" x2="27.5" y2="32.4" stroke="#3c3c3c" stroke-width="0.8"/>
<text x="24.5" y="35.7" font-size="9.2" text-anchor="end" font-family="Liberation Sans, sans-serif" fill="#1a1a1a">0</text>
<line x1="25.7" y1="65.5" x2="27.5" y2="65.5" stroke="#3c3c3c" stroke-width="0.8"/>
<text x="24.5" y="68.8" font-size="9.2" text-anchor="end" font-family="Liberation Sans, sans-serif" fill="#1a1a1a">20</text>
<line x1="25.7" y1="98.6" x2="27.5" y2="98.6" stroke="#3c3c3c" stroke-width="0.8"/>
<text x="24.5" y="101.9" font-size="9.2" text-anchor="end" font-family="Liberation Sans, sans-serif" fill="#1a1a1a">40</text>
<line x1="25.7" y1="131.7" x2="27.5" y2="131.7" stroke="#3c3c3c" stroke-width="0.8"/>
<text x="24.5" y="135" font-size="9.2" text-anchor="end" font-family="Liberation Sans, sans-serif" fill="#1a1a1a">60</text>
<text x="31.7" y="28.1" font-size="12.2" font-family="Liberation Sans, sans-serif" fill="#1a1a1a">a)</text>
<clipPath id="clipp01"><rect x="243.3" y="15.8" width="208.8" height="115"/></clipPath>
<clipPath id="clipp01b"><rect x="28" y="15.8" width="208.8" height="115"/></clipPath>
<g clip-path="url(#clipp01)"><g transform="translate(215.3,0)">
<clipPath id="cuf01"><path d="M28.9,34.6 L43.0,34.8 L60.0,32.6 L132.0,26.0 L165.4,24.4 L169.7,21.9 L236.2,21.4 L236.2,128.8 L185.2,128.8 L175.0,121.0 L156.2,108.4 L137.5,96.2 L118.8,85.0 L100.8,75.0 L88.5,69.0 L76.2,62.8 L63.9,58.3 L51.6,54.8 L39.3,51.8 L27.5,49.7 L28.9,49.7 Z"/></clipPath><clipPath id="clf01"><path d="M28.9,49.7 L27.5,49.7 L39.3,51.8 L51.6,54.8 L63.9,58.3 L76.2,62.8 L88.5,69.0 L100.8,75.0 L118.8,85.0 L137.5,96.2 L156.2,108.4 L175.0,121.0 L185.2,128.8 L28.9,128.8 Z"/></clipPath><g clip-path="url(#cuf01)"><rect x="20" y="10" width="225" height="126" fill="#fff"/><g filter="url(#bf)"><path d="M219.5,135.5 213.8,135.5 213.7,116.5 213.4,113.0 212.7,111.5 211.5,110.2 210.0,109.5 208.0,109.2 200.0,110.2 190.0,112.1 188.1,113.0 187.2,114.5 186.4,115.0 184.0,115.6 177.5,116.2 164.5,116.3 160.2,117.0 159.6,117.5 160.1,118.0 161.5,118.4 173.8,120.0 175.3,120.5 175.7,121.0 173.2,130.0 172.6,135.5 122.1,135.5 122.1,129.5 121.6,127.0 121.6,112.0 121.1,109.5 121.1,94.5 120.7,92.0 120.6,89.5 121.0,85.0 120.8,83.0 120.2,80.5 118.5,76.8 115.6,72.5 112.5,66.8 107.3,59.5 104.0,55.5 101.3,51.0 99.5,48.5 97.4,46.0 95.0,43.9 92.0,40.1 90.9,37.5 91.0,36.4 92.0,35.6 97.5,35.1 104.5,33.8 132.5,31.2 136.0,31.2 139.0,31.8 141.5,31.9 147.0,31.1 162.0,30.5 165.0,29.8 169.0,28.1 172.0,27.6 190.0,27.7 219.0,28.9 225.5,28.6 244.5,28.7 244.5,91.4 241.5,91.6 237.5,92.2 231.5,93.4 228.5,94.4 226.1,95.5 224.5,96.6 222.9,98.0 221.4,100.0 220.3,103.0 219.8,106.5 219.7,135.5 219.5,135.5Z" fill="#fefce8" fill-rule="evenodd"/>
<path d="M155.5,135.5 123.0,135.5 123.0,129.5 122.5,126.5 122.5,112.0 122.0,109.0 122.0,94.5 121.4,89.5 121.6,85.5 121.3,83.0 120.7,80.5 119.2,77.0 113.0,66.1 108.0,59.1 104.8,55.0 101.7,50.0 99.5,47.0 95.5,43.0 93.0,39.7 92.6,38.0 93.0,37.2 98.5,36.6 101.4,35.5 105.0,34.8 133.0,32.3 136.0,32.5 139.0,33.5 141.5,33.7 147.5,32.5 162.0,31.9 165.5,31.2 170.0,29.4 172.5,29.0 191.0,29.2 209.5,31.0 219.5,31.6 244.5,31.6 244.5,81.8 237.5,82.4 228.0,84.5 218.5,88.0 210.5,91.8 205.5,95.0 201.6,98.5 199.5,101.5 197.5,106.5 196.4,108.0 193.4,109.5 185.0,111.8 184.7,112.0 184.8,112.5 185.5,113.5 185.6,114.0 185.3,114.5 184.5,115.0 181.5,115.7 177.0,116.0 171.0,116.0 160.0,115.4 155.5,115.6 153.9,116.0 153.0,116.8 152.9,118.0 153.5,119.0 155.8,121.0 156.3,122.0 155.7,135.5 155.5,135.5Z" fill="#fdf9c6" fill-rule="evenodd"/>
<path d="M150.5,135.5 123.8,135.5 123.7,129.5 123.2,126.5 123.2,112.0 122.8,109.0 122.7,94.5 122.1,89.0 122.2,85.0 121.3,80.5 119.8,77.0 114.1,66.5 108.8,59.0 105.3,54.5 100.5,47.0 100.4,45.0 99.3,42.5 99.0,42.0 98.0,41.8 95.5,40.2 95.0,40.5 94.9,40.0 95.2,39.5 96.0,38.9 97.0,39.1 99.5,38.3 99.6,37.5 101.6,36.5 105.5,35.6 133.0,33.1 136.4,33.5 137.6,34.0 139.5,35.2 142.5,35.4 146.3,34.0 148.0,33.7 163.5,32.9 166.0,32.3 170.0,30.6 173.0,30.2 187.0,30.3 194.5,31.0 213.8,35.0 218.3,36.5 219.4,37.5 219.8,39.0 220.1,67.5 219.6,72.5 219.0,74.5 217.8,76.5 215.8,79.0 213.1,81.5 200.0,91.8 195.5,96.0 193.5,98.5 192.2,100.5 189.6,106.5 188.5,108.0 186.9,109.0 182.5,110.4 180.6,111.5 180.8,112.0 183.9,113.5 184.2,114.0 183.9,114.5 183.5,114.8 182.0,115.3 179.5,115.7 172.5,115.8 168.3,115.5 166.0,115.1 164.5,114.5 163.0,113.6 161.0,113.2 154.5,112.8 153.0,112.9 151.8,113.5 151.0,114.7 150.6,117.0 150.7,135.5 150.5,135.5ZM94.5,39.7 94.5,39.4 94.8,39.5 94.5,39.7Z" fill="#fcf68c" fill-rule="evenodd"/>
<path d="M149.0,135.5 124.4,135.5 124.4,129.5 123.9,126.5 123.9,112.0 123.4,109.0 123.4,94.5 122.7,89.0 123.0,85.5 122.6,82.5 121.8,80.0 114.5,66.1 104.0,51.4 103.2,49.5 103.0,47.5 103.2,45.5 103.6,44.5 103.2,44.0 103.2,43.5 102.3,42.5 102.4,42.0 101.9,41.5 102.0,41.0 101.0,40.0 101.1,38.5 102.5,37.2 105.5,36.2 133.0,33.7 136.0,34.2 139.0,36.1 140.0,36.5 142.1,38.0 145.0,37.3 147.1,35.5 148.1,35.0 163.0,34.2 166.0,33.5 170.0,31.9 172.5,31.5 183.5,31.4 188.5,31.7 193.6,32.5 198.0,34.0 199.7,35.0 200.8,36.0 201.3,37.0 201.7,39.0 204.0,72.5 203.7,77.5 203.2,79.5 202.4,81.5 200.8,84.0 198.8,86.5 190.8,94.5 187.8,98.0 185.6,101.5 182.3,108.5 180.3,110.0 178.5,110.7 177.1,111.0 176.5,111.5 182.0,113.1 183.1,114.0 182.9,114.5 181.9,115.0 179.0,115.5 172.0,115.6 168.5,115.2 166.6,114.5 166.2,113.5 166.3,112.5 165.0,112.1 157.0,111.9 153.5,111.4 152.0,111.7 150.5,112.5 149.7,114.0 149.3,117.0 149.3,135.5 149.0,135.5Z" fill="#fdf450" fill-rule="evenodd"/>
<path d="M147.5,135.5 125.0,135.5 125.0,128.0 124.8,127.0 124.5,126.5 124.5,111.0 124.3,109.5 124.0,109.0 124.0,94.0 123.7,91.5 124.2,88.0 123.4,82.0 122.2,79.0 119.0,73.5 115.1,66.0 106.4,54.0 105.6,52.5 105.1,50.5 105.0,49.0 105.6,47.5 104.9,46.5 105.1,45.5 104.7,44.5 104.4,43.0 103.8,42.0 102.7,39.0 102.9,38.5 103.5,37.9 106.0,36.8 133.0,34.3 136.0,35.2 138.0,36.8 144.5,41.1 147.5,40.5 149.0,39.5 149.9,38.0 150.5,37.5 152.0,37.0 155.0,36.5 161.0,36.3 164.0,35.9 171.9,33.5 185.0,33.5 188.0,33.8 190.2,34.5 191.2,35.0 192.4,36.0 192.9,37.0 193.2,39.0 194.3,73.5 194.0,79.0 192.9,83.0 191.6,85.5 190.1,87.5 184.4,93.0 183.5,97.0 182.0,101.2 181.7,103.0 180.3,108.0 179.6,109.0 179.0,109.4 173.0,110.8 170.5,111.2 167.5,111.4 163.0,111.1 157.5,111.0 152.0,110.0 150.5,110.4 149.0,111.5 148.0,113.5 147.6,117.0 147.7,135.5 147.5,135.5ZM177.0,115.5 173.5,115.5 170.5,115.2 168.5,114.7 168.1,114.5 167.8,114.0 168.1,113.5 169.5,112.7 171.0,112.3 173.5,112.2 179.0,112.7 181.0,113.2 182.2,114.0 182.0,114.5 180.9,115.0 177.0,115.5Z" fill="#fcf01e" fill-rule="evenodd"/>
<path d="M169.0,110.5 166.5,110.8 157.5,110.0 156.5,109.8 144.5,103.7 131.4,95.5 130.2,94.5 127.3,91.0 125.6,88.0 124.3,85.0 124.1,82.0 123.5,79.5 118.3,69.5 116.0,65.5 109.9,57.0 107.8,53.5 107.2,51.5 107.6,50.5 106.9,49.5 107.1,48.5 106.5,45.0 104.8,40.0 104.9,39.0 105.8,38.0 107.0,37.6 133.0,35.2 134.0,35.5 135.7,36.5 137.0,37.7 141.1,40.5 142.0,41.5 145.5,42.7 147.0,43.6 150.9,45.0 151.7,46.0 153.0,47.0 155.3,49.5 156.3,51.0 167.3,62.0 168.4,64.0 171.2,68.0 171.9,69.5 174.7,73.5 175.2,75.0 177.9,80.5 178.1,81.5 180.6,87.0 180.7,89.0 181.2,92.0 181.1,93.5 181.4,96.5 180.5,100.0 180.2,100.5 180.0,102.5 179.5,103.5 179.3,105.0 178.9,106.0 178.5,108.0 178.0,108.5 172.5,109.8 171.0,109.9 169.0,110.5ZM179.5,115.1 176.0,115.4 172.5,115.3 170.0,114.8 169.3,114.5 169.0,114.0 169.5,113.5 171.0,113.0 175.0,112.7 179.0,113.1 180.5,113.5 181.2,114.0 181.1,114.5 179.5,115.1Z" fill="#fdd400" fill-rule="evenodd"/>
<path d="M168.0,110.0 166.5,110.1 158.0,109.4 156.8,109.0 146.0,102.9 145.0,102.5 136.0,96.7 132.0,94.4 128.7,91.0 127.3,89.0 125.1,85.0 124.5,79.0 124.1,78.0 123.7,77.5 123.6,76.5 122.6,75.0 122.5,74.0 121.5,72.5 121.5,71.5 120.5,70.0 120.5,69.5 120.0,69.0 120.0,68.5 119.0,67.5 119.0,67.0 118.0,66.0 118.0,65.5 117.5,65.0 117.5,64.5 116.5,63.5 116.5,63.0 115.5,62.0 115.5,61.5 114.0,60.0 114.0,59.5 112.5,58.0 112.5,57.5 111.1,56.0 111.1,55.5 109.7,54.0 109.8,53.5 109.0,52.5 109.0,51.5 108.6,50.5 108.3,47.0 108.4,43.5 107.2,39.5 107.5,39.1 133.5,36.9 135.5,39.2 140.0,42.4 146.0,44.5 146.5,45.1 148.5,46.0 149.2,46.5 149.2,47.0 151.4,49.0 151.4,49.5 153.5,51.5 153.5,52.0 165.5,64.0 165.5,64.5 166.0,65.0 166.0,65.5 167.0,66.5 167.0,67.0 168.0,68.0 168.0,68.5 169.0,69.5 169.0,70.0 169.5,70.5 169.5,71.0 170.5,72.0 170.5,72.5 171.5,73.5 171.5,74.0 172.5,75.0 172.5,76.0 173.0,76.5 173.0,77.0 173.5,77.5 173.5,78.0 174.0,78.5 174.0,79.0 174.5,79.5 174.5,80.0 175.5,81.5 175.5,82.5 176.0,83.0 176.0,83.5 176.5,84.0 176.5,84.5 177.0,85.0 177.0,85.5 177.5,86.0 177.5,86.5 178.4,88.0 178.4,90.0 178.9,90.5 178.9,92.0 179.3,92.5 179.2,94.5 179.7,95.0 179.6,96.5 180.1,97.0 179.6,97.5 179.5,99.5 179.0,100.0 178.9,102.0 178.4,103.0 178.4,104.5 177.9,105.5 177.7,107.5 177.5,107.7 175.5,108.0 175.0,108.4 173.0,108.6 172.5,109.0 170.5,109.3 170.0,109.7 169.5,109.6 168.0,110.0ZM178.5,115.0 175.5,115.2 172.5,115.0 170.5,114.5 170.2,114.0 171.5,113.3 175.0,113.0 178.5,113.3 180.3,114.0 180.2,114.5 178.5,115.0Z" fill="#fda400" fill-rule="evenodd"/>
<path d="M167.0,109.6 160.0,109.0 157.5,108.5 154.5,106.4 146.5,102.1 145.5,101.8 140.5,98.5 139.0,97.8 136.5,96.0 132.0,93.3 128.1,88.5 126.8,86.0 125.6,84.5 125.6,81.0 125.2,80.0 124.6,76.0 123.8,74.5 123.7,73.5 122.8,72.0 122.6,71.0 121.1,68.0 119.3,65.5 118.6,64.0 116.5,60.8 114.0,57.7 111.4,53.5 110.7,51.5 110.4,49.5 111.5,45.9 112.0,45.7 135.0,45.7 137.5,45.5 140.0,44.9 144.0,45.8 147.0,47.1 149.9,49.5 150.5,50.4 152.0,51.8 152.5,52.8 164.0,64.2 165.0,66.2 167.7,70.0 168.4,71.5 171.2,75.5 171.4,76.5 174.2,82.0 174.4,83.0 177.1,88.5 177.2,90.0 177.5,91.0 177.7,92.5 178.0,93.5 178.0,95.0 178.4,96.0 178.2,98.5 177.8,99.5 177.6,101.5 177.2,102.5 176.5,106.5 175.0,106.8 172.0,108.2 170.0,108.9 167.0,109.6ZM178.5,114.6 176.5,115.0 174.0,114.9 171.9,114.5 171.6,114.0 173.5,113.4 176.5,113.4 179.1,114.0 178.9,114.5 178.5,114.6Z" fill="#f96c00" fill-rule="evenodd"/>
<path d="M167.0,109.0 160.0,108.2 157.5,107.6 153.5,105.1 152.0,104.0 151.0,103.6 147.0,101.4 145.8,101.0 143.5,99.3 141.8,98.5 141.0,97.7 139.3,97.0 137.0,95.2 135.5,94.5 132.5,92.5 128.8,88.0 126.3,84.0 126.6,83.0 126.2,81.5 126.3,80.5 125.9,77.5 125.2,73.0 124.4,70.5 122.6,67.0 118.2,60.0 115.5,56.5 114.4,54.5 113.7,52.0 114.0,50.0 114.5,49.6 137.5,49.5 140.0,49.2 143.0,48.3 144.5,48.7 148.0,50.6 150.5,52.9 151.2,54.0 162.5,65.3 163.4,67.0 169.5,76.4 175.3,89.0 175.5,91.0 176.6,94.0 176.7,98.0 176.1,103.5 175.5,105.2 171.5,107.4 167.0,109.0ZM176.5,114.5 174.2,114.5 173.8,114.0 175.5,113.8 177.1,114.0 176.8,114.5 176.5,114.5Z" fill="#f23400" fill-rule="evenodd"/>
<path d="M168.0,108.1 167.0,108.5 164.0,107.9 160.0,107.5 158.0,107.1 153.8,104.5 152.5,103.5 151.5,103.2 149.0,101.5 148.5,101.5 147.5,100.6 146.5,100.3 142.1,97.5 141.5,96.9 139.6,96.0 137.5,94.4 133.5,92.1 130.8,89.5 128.3,86.0 128.3,85.5 127.1,84.0 127.0,80.5 126.7,79.0 126.8,78.0 126.6,76.0 126.8,75.0 126.5,73.5 126.9,71.5 127.5,70.0 129.5,68.0 130.0,68.0 132.5,65.5 133.0,65.5 133.5,65.0 144.5,65.0 146.0,66.0 146.5,66.0 147.0,66.5 147.5,66.5 148.0,67.0 149.0,67.0 150.5,68.0 151.0,68.0 151.5,68.5 152.0,68.5 152.5,69.0 153.5,69.0 154.0,69.5 154.5,69.5 156.5,71.5 157.0,71.5 158.5,73.0 159.0,73.0 161.0,75.0 161.5,75.0 163.0,76.5 163.5,76.5 168.5,81.5 170.0,83.7 173.4,89.5 175.3,94.5 175.5,98.0 174.8,104.0 174.4,104.5 171.0,106.7 168.0,108.1Z" fill="#e60800" fill-rule="evenodd"/>
<path d="M168.0,107.0 167.0,107.3 162.5,107.1 162.0,106.7 160.5,106.7 160.0,106.4 158.0,106.1 151.5,101.1 146.0,97.9 142.0,95.2 140.5,94.5 134.5,90.5 131.5,87.9 129.0,84.0 128.1,81.5 127.7,79.0 128.0,78.5 127.8,76.5 128.1,75.5 128.0,73.5 128.2,73.0 129.0,72.5 131.0,70.5 132.0,70.0 134.5,67.7 143.0,67.6 147.0,69.5 148.0,69.7 151.5,71.5 152.5,71.7 154.5,73.5 157.5,75.5 159.0,77.0 162.0,79.0 169.0,86.1 170.0,88.0 171.8,90.5 172.4,92.0 173.0,92.6 174.0,94.5 174.2,97.5 173.7,103.5 168.0,107.0Z" fill="#c80000" fill-rule="evenodd"/>
<path d="M166.5,105.0 161.5,104.7 160.0,104.5 159.0,104.0 156.0,101.9 153.0,99.0 133.0,86.0 130.5,81.5 129.6,77.5 129.2,74.5 129.5,74.1 132.0,71.7 132.7,71.5 135.0,69.2 142.5,69.1 146.3,71.0 147.5,71.2 150.8,73.0 152.0,73.2 153.8,75.0 154.5,75.2 155.8,76.5 156.5,76.7 158.3,78.5 159.0,78.7 160.3,80.0 161.0,80.2 167.8,87.0 168.5,88.8 170.2,91.0 171.0,92.9 172.7,95.5 172.5,102.5 170.5,103.8 166.5,105.0Z" fill="#a30000" fill-rule="evenodd"/>
<path d="M120.5,135.5 20.0,135.5 20.0,34.2 42.5,34.2 59.0,35.5 68.5,35.8 72.0,36.2 78.5,35.8 81.0,36.0 84.0,36.3 86.5,36.8 87.5,37.3 89.0,38.5 93.6,44.5 97.6,48.5 100.3,52.0 103.2,56.5 106.5,60.5 111.5,67.5 114.1,72.0 117.7,77.0 119.5,80.8 120.0,83.0 120.2,85.0 119.3,90.0 119.9,94.5 119.9,109.5 120.4,112.5 120.4,127.0 120.9,130.0 120.9,135.5 120.5,135.5ZM210.0,135.5 183.3,135.5 183.8,131.0 186.7,121.5 186.6,120.5 185.6,120.0 183.0,119.6 168.3,118.5 165.7,118.0 164.9,117.5 166.1,117.0 168.5,116.7 180.5,116.4 186.5,116.0 189.3,115.5 194.2,113.5 198.0,112.7 205.5,112.0 207.1,112.0 208.5,112.4 209.7,113.5 210.3,116.0 210.3,135.5 210.0,135.5Z" fill="#f0f7fc" fill-rule="evenodd"/>
<path d="M119.5,135.5 20.0,135.5 20.0,36.7 42.0,36.7 52.5,37.1 68.0,36.8 72.0,37.2 79.0,36.8 82.5,37.2 85.0,37.7 86.5,38.3 88.5,39.5 92.9,45.5 95.5,47.9 97.5,50.1 99.5,52.6 102.5,57.0 105.5,60.7 111.0,68.3 114.0,73.0 117.0,77.0 118.9,81.0 119.3,83.0 119.4,85.0 118.3,90.0 119.0,95.0 119.0,109.5 119.5,112.5 119.5,127.0 120.0,130.0 120.0,135.5 119.5,135.5ZM208.0,135.5 194.5,135.5 194.9,129.5 196.2,120.5 195.9,119.5 195.2,119.0 192.0,118.4 182.0,118.8 175.0,118.6 169.5,118.1 168.2,117.5 170.4,117.0 173.5,116.9 184.0,116.6 193.5,116.7 196.0,116.3 199.2,115.0 201.5,114.4 205.0,113.9 207.0,114.1 208.0,115.0 208.4,117.0 208.5,135.5 208.0,135.5Z" fill="#d9eef9" fill-rule="evenodd"/>
<path d="M118.5,135.5 20.0,135.5 20.0,39.9 42.5,39.7 62.0,37.7 68.0,37.5 72.5,37.9 79.0,37.5 84.0,38.3 86.5,39.6 87.5,40.4 91.6,46.0 96.0,50.3 98.5,53.4 99.4,55.0 101.3,57.5 104.6,61.5 106.3,64.0 116.2,77.0 118.0,80.7 118.5,84.0 118.2,86.0 117.6,87.5 117.0,90.0 117.8,95.0 117.8,110.0 118.2,112.0 118.2,127.5 118.8,130.0 118.8,135.5 118.5,135.5ZM183.0,118.1 176.0,118.2 173.4,118.0 172.0,117.5 179.5,117.1 184.7,117.5 183.0,118.1Z" fill="#b9e0f5" fill-rule="evenodd"/>
<path d="M117.0,135.5 20.0,135.5 20.0,41.1 30.0,41.0 43.0,40.5 57.5,38.8 68.0,38.0 72.0,38.4 79.5,38.1 83.5,38.8 86.0,40.5 90.5,47.1 94.0,50.4 97.5,54.3 100.5,58.4 103.6,62.0 105.5,64.7 115.5,77.0 116.4,78.5 117.1,80.5 117.6,83.0 117.6,84.0 117.0,85.8 115.8,87.5 115.6,90.0 116.5,95.0 116.5,110.0 117.0,112.0 117.0,127.5 117.5,130.0 117.5,135.5 117.0,135.5Z" fill="#8fcdef" fill-rule="evenodd"/>
<path d="M116.5,135.5 20.0,135.5 20.0,54.5 38.5,54.5 41.0,54.1 41.7,53.5 41.4,52.5 39.9,51.0 35.5,47.5 33.0,45.8 31.0,45.0 29.0,44.7 20.0,44.6 20.0,42.2 29.0,42.1 36.5,41.3 43.5,41.0 58.0,39.3 68.0,38.5 72.0,38.9 79.5,38.6 83.0,39.4 85.3,41.0 89.8,48.0 96.8,55.0 97.8,56.5 103.0,62.6 114.9,77.5 115.9,79.5 116.5,81.5 116.4,83.5 115.0,85.6 114.3,88.0 114.6,90.5 115.6,95.0 115.6,110.5 116.1,112.5 116.1,128.0 116.6,130.0 116.5,135.5Z" fill="#5ea8e6" fill-rule="evenodd"/>
<path d="M115.0,135.5 20.0,135.5 20.0,56.2 41.0,56.1 43.5,55.9 45.0,55.3 45.4,54.5 45.3,54.0 44.3,52.5 42.0,50.5 33.6,44.0 33.4,43.5 33.6,43.0 35.0,42.4 37.5,41.9 43.5,41.6 58.0,39.9 68.0,39.0 72.0,39.4 80.0,39.3 82.0,39.9 83.1,40.5 84.5,41.7 86.1,44.5 88.7,48.5 96.0,55.6 108.1,70.0 113.7,77.5 114.5,79.0 115.0,81.5 114.1,84.0 113.4,85.5 113.1,88.5 113.5,89.5 113.5,91.0 113.9,92.0 114.0,93.5 114.5,95.0 114.5,111.0 115.0,112.5 115.0,128.5 115.5,130.0 115.5,135.5 115.0,135.5Z" fill="#2f74dc" fill-rule="evenodd"/>
<path d="M114.0,135.5 20.0,135.5 20.0,57.4 42.5,57.4 45.5,57.1 47.1,56.5 47.6,56.0 47.9,55.0 47.5,54.0 46.8,53.0 44.5,50.9 36.4,44.5 36.1,44.0 36.1,43.5 36.7,43.0 37.5,42.8 50.0,41.2 68.0,39.6 72.0,40.0 76.5,39.9 80.5,40.2 82.0,41.0 83.5,42.5 84.7,45.0 85.5,45.8 86.4,47.5 87.5,49.0 95.5,56.5 107.5,70.2 111.6,76.0 113.3,79.0 113.3,82.0 111.6,86.5 111.8,87.0 111.7,89.0 112.2,90.0 112.2,91.5 112.5,92.0 112.7,94.0 113.2,95.0 113.2,111.0 113.7,112.5 113.7,128.5 114.2,130.0 114.2,135.5 114.0,135.5Z" fill="#1040d8" fill-rule="evenodd"/>
<path d="M112.0,135.5 20.0,135.5 20.0,58.9 44.5,58.9 47.5,58.5 49.5,57.7 50.1,57.0 50.4,56.0 50.3,55.0 49.5,53.5 47.0,51.0 39.2,45.0 38.8,44.0 39.5,43.5 50.0,41.7 68.0,40.2 72.5,40.9 77.1,41.0 79.3,41.5 80.5,42.2 81.9,43.5 83.5,45.9 84.2,46.5 85.0,47.5 85.1,48.0 86.2,49.0 86.3,49.5 94.7,57.0 104.4,67.5 107.0,70.5 109.0,73.5 110.8,76.5 112.0,79.0 111.6,82.0 109.8,84.5 110.2,85.0 109.6,87.0 110.0,88.0 109.9,89.5 110.3,90.5 110.4,92.0 110.8,93.0 110.9,94.5 111.4,96.0 111.4,112.0 111.9,113.5 111.9,129.5 112.4,131.0 112.4,135.5 112.0,135.5Z" fill="#0008d8" fill-rule="evenodd"/>
<path d="M109.0,81.3 105.5,81.3 101.0,79.9 99.0,79.5 98.0,79.6 96.0,78.6 94.0,77.3 92.8,76.0 91.7,74.0 91.1,70.5 91.2,68.0 90.5,66.4 87.7,64.0 85.5,62.6 81.0,58.5 79.0,57.0 76.5,55.9 64.0,53.8 55.5,51.7 51.0,49.8 46.0,47.3 43.5,45.5 43.2,45.0 43.2,44.5 43.8,44.0 46.6,43.0 51.5,42.3 68.0,41.3 69.4,41.5 70.5,42.0 73.0,44.1 81.0,48.0 89.5,54.0 93.8,57.5 96.3,60.0 96.5,60.5 100.7,64.5 106.4,71.0 108.2,74.0 109.5,77.2 109.9,79.5 109.0,81.3Z" fill="#0000b4" fill-rule="evenodd"/>
<path d="M67.5,50.0 62.5,49.6 56.0,48.1 50.2,46.0 48.7,45.0 48.6,44.5 49.0,44.0 50.4,43.5 54.0,43.1 57.5,43.1 61.0,43.6 67.0,46.5 68.7,47.5 69.8,48.5 70.0,49.0 69.7,49.5 67.5,50.0ZM106.0,76.1 104.5,76.3 102.5,76.0 98.5,74.2 97.0,73.0 96.3,72.0 94.9,68.5 93.5,65.7 92.0,63.7 86.9,58.0 85.7,56.0 85.5,54.9 86.0,54.7 87.0,55.1 91.0,57.5 100.1,65.0 103.0,68.2 105.5,71.6 106.5,74.0 106.4,74.5 106.7,75.0 106.5,75.9 106.0,76.1Z" fill="#00008c" fill-rule="evenodd"/></g></g><g clip-path="url(#clf01)"><rect x="20" y="10" width="225" height="126" fill="#fff"/><g filter="url(#bf)"><path d="M33.0,52.5 31.9,52.5 33.0,52.5ZM244.5,135.5 144.9,135.5 145.1,132.5 146.1,128.5 148.5,121.0 150.9,115.0 150.8,114.0 150.3,113.0 147.2,110.0 142.5,106.5 133.0,100.5 121.6,94.0 108.0,86.8 103.0,83.8 100.0,81.6 98.0,78.4 96.5,77.3 94.0,76.4 90.5,76.7 87.5,75.9 85.0,74.4 82.0,71.8 79.0,70.6 77.5,69.8 73.5,66.2 62.0,62.0 55.5,60.3 54.4,59.5 53.0,57.7 52.1,57.0 53.5,56.6 57.0,57.3 74.4,63.5 97.5,74.7 101.5,75.7 109.5,80.0 111.5,80.2 122.5,86.2 146.5,100.6 147.0,100.8 147.5,100.5 147.5,99.9 148.0,99.4 150.0,99.6 153.5,100.8 160.9,104.0 164.0,104.9 166.0,104.3 235.6,69.5 240.5,67.5 242.5,66.9 244.5,66.7 244.5,135.5ZM100.0,98.6 97.0,98.9 91.0,98.8 89.0,98.5 87.5,97.7 85.9,96.0 84.4,92.5 83.9,90.0 84.4,88.0 85.0,87.3 86.0,86.7 89.0,86.2 97.5,86.4 99.5,86.9 100.7,87.5 102.2,89.0 103.1,90.5 103.8,92.5 104.0,94.5 103.7,96.0 103.0,97.1 101.5,98.2 100.0,98.6Z" fill="#fefce8" fill-rule="evenodd"/>
<path d="M191.0,135.5 181.0,135.5 179.9,134.0 175.2,130.5 156.0,117.3 151.6,112.5 143.8,106.5 136.8,102.0 128.4,97.0 103.0,82.7 100.5,81.0 98.5,78.1 97.0,76.6 95.5,75.9 94.0,75.4 93.0,75.5 90.5,76.1 89.0,75.9 87.5,75.4 85.0,73.9 82.5,71.4 79.0,70.3 77.5,69.4 76.1,68.0 74.5,66.0 73.5,65.3 62.5,61.3 59.0,60.8 56.3,60.0 55.0,59.2 54.5,58.0 55.0,57.5 56.0,57.4 58.0,57.9 59.8,58.5 62.0,59.7 74.4,64.0 88.0,70.2 96.5,74.8 98.0,75.4 100.5,75.8 102.0,76.3 109.0,80.1 111.0,80.6 118.0,84.7 122.5,86.8 137.5,95.8 148.0,102.5 150.9,104.0 151.5,104.2 151.8,104.0 150.0,101.5 149.9,101.0 150.5,100.7 152.5,101.1 155.5,102.2 163.5,106.3 167.2,108.5 169.9,110.5 171.9,112.5 172.3,113.5 171.8,114.0 170.5,114.0 167.0,113.2 162.5,111.4 162.3,111.5 162.8,112.0 173.0,118.7 188.5,130.4 190.0,131.8 190.8,133.0 191.2,135.0 191.2,135.5 191.0,135.5ZM98.5,95.6 92.0,95.8 89.5,95.3 88.1,94.0 87.3,92.5 87.0,90.5 87.3,89.5 88.5,88.7 90.5,88.5 96.0,88.5 98.5,89.1 99.9,90.5 100.6,93.0 100.5,94.0 100.0,94.9 98.5,95.6Z" fill="#fdf9c6" fill-rule="evenodd"/>
<path d="M60.0,60.1 58.5,60.0 56.5,59.4 55.7,59.0 55.4,58.5 55.5,58.1 56.5,57.9 59.5,58.9 60.4,59.5 60.4,60.0 60.0,60.1ZM91.0,75.5 89.5,75.6 87.0,74.8 85.1,73.5 82.5,70.8 79.5,70.2 78.0,69.4 76.9,68.5 76.1,67.5 75.5,66.0 75.6,65.5 76.5,65.4 78.5,66.1 82.5,68.3 87.0,70.0 90.6,72.0 92.8,73.5 93.1,74.0 92.8,74.5 91.0,75.5ZM160.0,116.1 158.0,116.5 156.0,115.7 152.0,111.9 147.0,108.0 137.5,101.7 120.0,91.4 108.5,85.2 102.5,81.7 100.3,80.0 98.2,76.5 99.0,76.0 101.5,76.4 108.5,80.2 111.0,81.2 112.5,82.3 118.0,85.4 121.5,86.7 137.0,96.0 148.7,103.5 157.5,108.2 159.9,110.5 160.9,112.0 161.2,113.5 161.1,114.5 160.8,115.5 160.0,116.1ZM167.5,111.5 164.5,110.8 158.0,107.7 153.1,104.0 152.2,103.0 151.7,102.0 152.5,101.8 155.0,102.5 159.0,104.4 162.5,106.3 166.9,109.5 168.0,111.0 167.5,111.5Z" fill="#fcf68c" fill-rule="evenodd"/>
<path d="M91.0,75.1 90.0,75.3 89.0,75.3 86.5,74.3 84.9,73.0 83.0,70.4 82.5,70.2 80.0,70.1 77.7,69.0 76.5,67.5 76.2,66.5 76.5,66.1 77.0,66.0 78.5,66.4 80.7,67.5 83.0,69.3 86.0,69.9 89.4,71.5 90.8,72.5 91.8,73.5 91.9,74.0 91.7,74.5 91.0,75.1ZM158.5,115.3 157.5,115.5 156.0,114.9 152.0,111.2 147.0,107.4 136.5,100.4 116.5,88.7 111.0,85.8 108.5,84.7 102.0,80.9 101.0,80.1 100.0,78.9 99.2,77.5 99.1,77.0 99.2,76.5 100.5,76.3 102.0,76.8 110.5,81.3 112.5,83.0 117.5,85.9 118.5,86.3 120.5,86.7 122.0,87.3 137.0,96.4 148.9,104.0 157.5,108.8 159.7,111.0 160.4,112.5 160.0,113.9 158.5,115.3ZM165.5,110.2 163.0,109.6 159.0,107.7 155.0,105.0 153.1,103.0 153.5,102.6 155.0,102.9 160.4,105.5 164.8,108.5 165.7,109.5 165.8,110.0 165.5,110.2Z" fill="#fdf450" fill-rule="evenodd"/>
<path d="M81.5,69.8 80.0,69.9 78.0,69.0 76.8,67.5 76.7,67.0 77.0,66.5 78.5,66.6 80.3,67.5 81.8,69.0 81.8,69.5 81.5,69.8ZM90.0,75.0 88.0,74.8 86.0,73.7 84.4,72.0 84.0,71.0 84.0,70.4 84.5,70.0 86.0,70.2 88.0,71.0 89.7,72.0 90.8,73.0 91.2,74.0 90.9,74.5 90.0,75.0ZM115.0,86.2 114.0,86.0 112.0,85.0 109.0,84.4 103.5,81.4 100.9,79.5 99.9,78.0 99.7,77.0 100.5,76.6 101.8,77.0 110.1,81.5 110.7,82.0 112.0,83.9 115.1,86.0 115.0,86.2ZM158.0,114.6 157.0,114.7 156.0,114.3 151.5,110.1 143.0,103.9 136.5,99.8 120.0,90.0 118.2,88.5 117.8,88.0 117.9,87.5 120.0,87.0 121.6,87.5 136.6,96.5 148.5,104.1 157.0,108.9 158.8,110.5 159.8,112.0 159.7,113.0 159.5,113.4 158.0,114.6ZM163.5,109.1 161.5,108.5 158.0,106.6 155.1,104.5 154.6,103.5 155.3,103.5 156.8,104.0 160.6,106.0 163.4,108.0 163.9,109.0 163.5,109.1Z" fill="#fcf01e" fill-rule="evenodd"/>
<path d="M81.0,69.6 80.0,69.7 78.3,69.0 77.3,68.0 77.1,67.5 77.2,67.0 78.5,66.9 80.0,67.6 81.3,69.0 81.0,69.6ZM90.0,74.6 89.0,74.8 88.0,74.5 86.1,73.5 85.1,72.5 84.6,71.5 84.5,71.0 84.9,70.5 86.5,70.6 89.3,72.0 90.6,73.5 90.6,74.0 90.0,74.6ZM109.5,84.0 108.0,83.5 101.5,79.5 100.4,78.0 100.3,77.5 100.5,77.1 101.0,77.0 102.0,77.4 109.5,81.5 110.2,82.0 110.6,83.0 110.5,83.7 110.0,84.0 109.5,84.0ZM157.5,114.0 157.0,114.1 156.0,113.7 151.5,109.4 143.0,103.2 137.0,99.4 120.5,89.6 119.8,89.0 119.6,88.0 120.5,87.6 121.8,88.0 136.7,97.0 148.0,104.3 157.0,109.3 158.4,110.5 159.3,112.0 159.0,113.1 157.5,114.0ZM156.5,104.7 156.5,104.5 156.5,104.7ZM161.5,107.8 159.4,107.0 156.5,105.0 157.0,104.6 159.0,105.5 161.3,107.0 161.8,107.5 161.5,107.8Z" fill="#fdd400" fill-rule="evenodd"/>
<path d="M80.5,69.4 79.5,69.4 78.7,69.0 77.6,68.0 77.5,67.4 78.0,67.1 79.5,67.6 80.6,68.5 80.8,69.0 80.5,69.4ZM90.0,74.1 89.5,74.4 88.5,74.4 86.5,73.5 85.1,72.0 85.0,71.5 85.2,71.0 86.5,70.9 88.5,71.7 89.9,73.0 90.2,73.5 90.0,74.1ZM109.5,83.3 108.1,83.0 103.0,80.0 101.5,78.9 101.0,77.8 101.5,77.6 102.5,78.0 108.9,81.5 109.9,82.5 109.8,83.0 109.5,83.3ZM121.0,88.9 120.9,88.5 121.4,88.5 121.0,88.9ZM126.0,91.9 121.0,89.0 121.5,88.5 124.0,90.0 126.4,91.5 126.0,91.9ZM128.5,93.3 126.1,92.0 126.5,91.6 128.9,93.0 128.5,93.3ZM129.5,93.8 128.7,93.5 129.0,93.2 129.6,93.5 129.5,93.8ZM131.0,94.8 129.6,94.0 130.5,94.0 131.3,94.5 131.0,94.8ZM132.0,95.2 131.3,95.0 131.5,94.8 132.1,95.0 132.0,95.2ZM132.5,95.6 132.2,95.5 132.9,95.5 132.5,95.6ZM133.5,96.2 132.9,96.0 133.0,95.6 133.8,96.0 133.5,96.2ZM134.5,96.6 133.8,96.5 134.0,96.3 134.5,96.6ZM135.0,97.1 134.8,97.0 135.4,97.0 135.0,97.1ZM136.0,97.7 135.5,97.5 135.5,97.2 136.2,97.5 136.0,97.7ZM136.5,98.0 136.7,98.0 136.5,98.0ZM140.0,100.2 139.6,100.0 140.0,100.0 140.0,100.2ZM141.5,101.2 140.3,100.5 140.5,100.3 141.0,100.5 141.8,101.0 141.5,101.2ZM142.0,101.6 141.8,101.5 142.0,101.3 142.4,101.5 142.0,101.6ZM146.0,104.1 145.8,104.0 146.3,104.0 146.0,104.1ZM158.0,113.1 157.0,113.4 156.0,113.0 152.0,109.1 146.3,104.5 146.5,104.2 156.0,109.0 157.5,110.0 158.4,111.0 158.8,112.0 158.7,112.5 158.0,113.1Z" fill="#fda400" fill-rule="evenodd"/>
<path d="M80.0,69.1 79.0,68.9 78.0,68.0 78.5,67.5 79.5,67.9 80.1,68.5 80.0,69.1ZM89.0,74.1 88.0,74.0 86.5,73.2 85.8,72.5 85.6,71.5 86.5,71.2 88.5,72.1 89.4,73.0 89.6,73.5 89.3,74.0 89.0,74.1ZM157.0,112.6 156.0,112.2 154.8,111.0 153.2,109.0 153.5,108.6 156.0,109.5 157.4,110.5 158.0,111.5 158.0,112.0 157.5,112.5 157.0,112.6Z" fill="#f96c00" fill-rule="evenodd"/>
<path d="M88.5,73.6 87.7,73.5 86.8,73.0 86.4,72.5 86.3,72.0 87.0,71.8 88.4,72.5 88.8,73.0 88.7,73.5 88.5,73.6Z" fill="#f23400" fill-rule="evenodd"/>
<path d="M109.5,79.1 108.9,79.0 103.0,75.7 101.5,75.2 98.5,74.6 97.1,74.0 75.0,63.2 60.0,57.7 55.0,56.3 54.3,55.5 54.1,54.5 54.5,52.6 55.5,51.5 57.5,51.5 58.0,52.0 57.5,52.0 57.3,52.5 57.8,52.5 58.0,52.0 58.5,52.0 58.8,52.5 60.0,52.6 60.4,53.5 61.4,53.5 61.5,53.0 62.0,53.0 62.3,53.5 64.0,53.5 64.4,54.0 64.3,54.5 66.5,54.6 67.1,55.0 68.5,55.0 68.9,55.5 70.0,55.5 70.4,56.0 70.4,56.5 72.0,56.6 72.6,57.0 74.0,57.0 74.4,57.5 75.5,57.5 75.9,58.0 75.9,58.5 79.0,59.0 79.4,59.5 95.0,59.5 95.5,60.0 95.5,61.5 96.0,62.0 96.0,63.5 96.5,64.0 96.5,65.5 97.0,66.0 93.5,66.3 93.4,66.5 94.2,67.5 95.5,68.5 98.5,70.1 101.4,73.0 104.0,75.2 107.0,76.6 109.5,78.3 109.7,79.0 109.5,79.1ZM105.0,135.5 20.0,135.5 20.0,64.0 22.5,64.0 23.0,63.5 23.5,63.5 23.7,64.5 24.5,65.1 26.3,69.0 28.9,72.5 32.3,75.5 35.2,77.5 37.1,78.5 39.5,79.3 41.5,79.6 50.5,79.2 52.5,79.7 53.5,80.3 54.5,81.9 54.9,84.0 54.7,86.5 53.8,91.0 53.8,92.5 54.2,94.0 55.2,95.5 58.0,97.6 70.5,104.2 81.5,111.7 92.0,117.0 100.0,121.4 104.6,123.5 105.4,124.5 105.5,125.0 105.5,135.5 105.0,135.5ZM74.5,75.0 72.5,74.9 71.5,74.5 70.3,73.5 69.1,71.0 68.6,68.5 68.7,68.0 70.0,68.0 73.0,69.0 78.0,72.5 78.3,73.0 78.0,73.5 76.2,74.5 74.5,75.0Z" fill="#f0f7fc" fill-rule="evenodd"/>
<path d="M100.0,74.1 98.5,74.1 97.1,73.5 75.0,62.7 61.5,58.0 60.0,57.2 55.6,56.0 55.2,55.5 55.4,55.0 57.5,55.3 61.5,56.4 68.5,58.7 77.0,61.8 98.0,72.4 99.7,73.5 100.0,74.1Z" fill="#d9eef9" fill-rule="evenodd"/></g></g>
<polyline fill="none" stroke="#2474b5" stroke-width="1.3" points="27.5,42.6 43,42.8 60,40.6 132,34 165.4,32.4 169.7,29.85 237.6,29.4"/>
</g></g>
<g transform="translate(215.3,0)">
<g clip-path="url(#clipp01b)"><polyline fill="none" stroke="#111" stroke-width="1.05" points="27.5,49.7 39.3,51.8 51.6,54.8 63.9,58.3 76.2,62.8 88.5,69 100.8,75 118.75,85 137.5,96.25 156.25,108.4 175,121 186.3,129.6 188,131"/></g>
<rect x="174.9" y="26.1" width="3.8" height="3.8" fill="#000"/>
<rect x="222.8" y="26.1" width="3.8" height="3.8" fill="#000"/>
<g fill="#fff" stroke="#1a1a1a" stroke-width="0.85"><circle cx="102.3" cy="43" r="2.35"/><circle cx="92.6" cy="49.4" r="2.35"/><circle cx="96.7" cy="50.3" r="2.35"/><circle cx="109.3" cy="57.4" r="2.35"/><circle cx="106" cy="64.8" r="2.35"/><circle cx="113.5" cy="66.2" r="2.35"/><circle cx="137.2" cy="53.7" r="2.35"/><circle cx="148.7" cy="49.3" r="2.35"/><circle cx="145.3" cy="55.4" r="2.35"/><circle cx="148.1" cy="55.4" r="2.35"/><circle cx="133.6" cy="62.1" r="2.35"/><circle cx="137.3" cy="63" r="2.35"/><circle cx="140" cy="61.7" r="2.35"/><circle cx="136.8" cy="66.4" r="2.35"/><circle cx="127" cy="65.4" r="2.35"/><circle cx="119.4" cy="68.1" r="2.35"/><circle cx="122.4" cy="68" r="2.35"/><circle cx="108.1" cy="68.2" r="2.35"/><circle cx="165.2" cy="44.2" r="2.35"/><circle cx="163.1" cy="46.4" r="2.35"/><circle cx="157.2" cy="48.2" r="2.35"/><circle cx="148.2" cy="51.7" r="2.35"/><circle cx="156" cy="51.9" r="2.35"/><circle cx="153.9" cy="55.8" r="2.35"/><circle cx="157.9" cy="55.5" r="2.35"/><circle cx="161.4" cy="54.1" r="2.35"/><circle cx="164.1" cy="56.7" r="2.35"/><circle cx="168.2" cy="54.1" r="2.35"/><circle cx="152.2" cy="59.6" r="2.35"/><circle cx="161.4" cy="61.5" r="2.35"/><circle cx="160.9" cy="57.8" r="2.35"/><circle cx="150.9" cy="66" r="2.35"/><circle cx="154.6" cy="66.1" r="2.35"/><circle cx="150.5" cy="50.2" r="2.35"/><circle cx="150" cy="52.9" r="2.35"/><circle cx="150.8" cy="69.7" r="2.35"/><circle cx="191.9" cy="43.9" r="2.35"/><circle cx="190.4" cy="47.3" r="2.35"/><circle cx="69.5" cy="42.6" r="2.35"/><circle cx="111.2" cy="67" r="2.35"/><circle cx="111.7" cy="70.8" r="2.35"/><circle cx="115.5" cy="70.8" r="2.35"/><circle cx="126.3" cy="70.2" r="2.35"/><circle cx="118.7" cy="75.6" r="2.35"/><circle cx="121.4" cy="76.2" r="2.35"/><circle cx="124.6" cy="73.5" r="2.35"/><circle cx="126.8" cy="76.7" r="2.35"/><circle cx="130.6" cy="74" r="2.35"/><circle cx="125.2" cy="79.4" r="2.35"/><circle cx="127.9" cy="81" r="2.35"/><circle cx="131.6" cy="78.3" r="2.35"/><circle cx="133.8" cy="79.9" r="2.35"/><circle cx="137.1" cy="74.2" r="2.35"/><circle cx="140.1" cy="70.8" r="2.35"/><circle cx="140.6" cy="73.5" r="2.35"/><circle cx="141.3" cy="75.6" r="2.35"/><circle cx="139.2" cy="80.2" r="2.35"/><circle cx="133.3" cy="84.8" r="2.35"/><circle cx="136.8" cy="86.8" r="2.35"/><circle cx="138.7" cy="84" r="2.35"/><circle cx="143.3" cy="84.8" r="2.35"/><circle cx="148.5" cy="69.8" r="2.35"/><circle cx="146.3" cy="74.5" r="2.35"/><circle cx="149" cy="74.2" r="2.35"/><circle cx="154.4" cy="76.6" r="2.35"/><circle cx="157.1" cy="79.5" r="2.35"/><circle cx="152.2" cy="81.4" r="2.35"/><circle cx="170" cy="79.5" r="2.35"/><circle cx="166.3" cy="81.7" r="2.35"/><circle cx="162.5" cy="83.5" r="2.35"/><circle cx="136.1" cy="79" r="2.35"/><circle cx="149" cy="84.6" r="2.35"/><circle cx="146.3" cy="88.5" r="2.35"/><circle cx="158.2" cy="87.6" r="2.35"/><circle cx="162.8" cy="87.4" r="2.35"/><circle cx="165.7" cy="90.6" r="2.35"/><circle cx="167.9" cy="93.2" r="2.35"/><circle cx="169.5" cy="95.9" r="2.35"/><circle cx="147.9" cy="92.9" r="2.35"/><circle cx="152.8" cy="93.4" r="2.35"/><circle cx="154.4" cy="90.3" r="2.35"/><circle cx="155.5" cy="95.5" r="2.35"/><circle cx="158.2" cy="93.3" r="2.35"/><circle cx="152.2" cy="97" r="2.35"/><circle cx="157.6" cy="97.3" r="2.35"/><circle cx="161.7" cy="99.2" r="2.35"/><circle cx="177.6" cy="96.3" r="2.35"/><circle cx="154.9" cy="99" r="2.35"/><circle cx="158.2" cy="102.8" r="2.35"/><circle cx="160.9" cy="104.4" r="2.35"/><circle cx="162.5" cy="106.5" r="2.35"/><circle cx="165.2" cy="102.2" r="2.35"/><circle cx="172.2" cy="107.6" r="2.35"/><circle cx="174.7" cy="108.7" r="2.35"/><circle cx="183.7" cy="113.4" r="2.35"/><circle cx="184.7" cy="119.1" r="2.35"/><circle cx="202.1" cy="70.3" r="2.35"/><circle cx="207.5" cy="80.4" r="2.35"/><circle cx="191.8" cy="95.7" r="2.35"/><circle cx="195.1" cy="98.8" r="2.35"/><circle cx="217.1" cy="98" r="2.35"/><circle cx="219.7" cy="100.2" r="2.35"/><circle cx="214.6" cy="102.8" r="2.35"/><circle cx="211.6" cy="113" r="2.35"/><circle cx="209.7" cy="115.5" r="2.35"/><circle cx="192.7" cy="121.8" r="2.35"/><circle cx="197.7" cy="124" r="2.35"/><circle cx="189.4" cy="125.5" r="2.35"/><circle cx="193.9" cy="124.9" r="2.35"/><circle cx="196.4" cy="127.7" r="2.35"/><circle cx="209.9" cy="128" r="2.35"/><circle cx="208.3" cy="129.9" r="2.35"/><circle cx="228.1" cy="51.8" r="2.35"/></g>
</g>
<rect x="242.8" y="15.3" width="209.8" height="116" fill="none" stroke="#3c3c3c" stroke-width="1"/>
<line x1="295.6" y1="131.3" x2="295.6" y2="133.3" stroke="#3c3c3c" stroke-width="0.8"/>
<text x="295.6" y="141.6" font-size="9.2" text-anchor="middle" font-family="Liberation Sans, sans-serif" fill="#1a1a1a">−71</text>
<line x1="400.1" y1="131.3" x2="400.1" y2="133.3" stroke="#3c3c3c" stroke-width="0.8"/>
<text x="400.1" y="141.6" font-size="9.2" text-anchor="middle" font-family="Liberation Sans, sans-serif" fill="#1a1a1a">−70</text>
<line x1="241" y1="32.4" x2="242.8" y2="32.4" stroke="#3c3c3c" stroke-width="0.8"/>
<line x1="241" y1="65.5" x2="242.8" y2="65.5" stroke="#3c3c3c" stroke-width="0.8"/>
<line x1="241" y1="98.6" x2="242.8" y2="98.6" stroke="#3c3c3c" stroke-width="0.8"/>
<line x1="241" y1="131.7" x2="242.8" y2="131.7" stroke="#3c3c3c" stroke-width="0.8"/>
<text x="247" y="28.1" font-size="12.2" font-family="Liberation Sans, sans-serif" fill="#1a1a1a">b)</text>
<clipPath id="clipp02"><rect x="459" y="15.8" width="207.8" height="115"/></clipPath>
<clipPath id="clipp02b"><rect x="28" y="15.8" width="207.8" height="115"/></clipPath>
<g clip-path="url(#clipp02)"><g transform="translate(431,0)">
<clipPath id="cuf02"><path d="M28.9,34.6 L43.0,34.8 L60.0,32.6 L132.0,26.0 L165.4,24.4 L169.7,21.9 L236.2,21.4 L236.2,128.8 L185.2,128.8 L175.0,121.0 L156.2,108.4 L137.5,96.2 L118.8,85.0 L100.8,75.0 L88.5,69.0 L76.2,62.8 L63.9,58.3 L51.6,54.8 L39.3,51.8 L27.5,49.7 L28.9,49.7 Z"/></clipPath><clipPath id="clf02"><path d="M28.9,49.7 L27.5,49.7 L39.3,51.8 L51.6,54.8 L63.9,58.3 L76.2,62.8 L88.5,69.0 L100.8,75.0 L118.8,85.0 L137.5,96.2 L156.2,108.4 L175.0,121.0 L185.2,128.8 L28.9,128.8 Z"/></clipPath><g clip-path="url(#cuf02)"><rect x="20" y="10" width="225" height="126" fill="#fff"/><g filter="url(#bf)"><path d="M221.5,135.5 213.4,135.5 213.4,117.5 213.1,114.0 212.7,112.5 211.5,110.8 210.0,110.0 208.0,109.7 201.0,110.6 192.0,112.4 190.0,113.2 187.7,115.0 185.0,115.7 178.0,116.3 164.0,116.4 161.0,116.8 160.3,117.0 159.6,117.5 160.5,118.1 163.5,118.8 177.5,119.9 178.8,120.0 180.2,120.5 180.5,121.0 180.4,121.5 177.7,130.5 177.1,135.5 124.7,135.5 124.7,121.0 124.2,118.0 124.1,94.0 123.9,92.5 121.5,86.0 121.1,85.5 120.2,81.0 119.0,78.0 117.3,75.0 114.8,67.5 113.0,63.5 108.0,57.5 102.5,52.3 101.0,50.4 94.0,43.7 91.8,39.0 91.6,37.5 92.1,36.0 93.5,35.1 100.5,33.8 128.5,31.1 132.5,30.9 139.5,31.2 145.0,30.8 151.0,30.9 161.6,30.5 164.5,30.0 169.5,28.0 172.0,27.6 193.5,27.7 219.5,28.8 225.5,28.6 244.5,28.7 244.5,92.0 241.0,92.3 237.5,92.8 233.5,93.7 230.5,94.7 228.5,95.6 226.5,97.0 224.9,98.5 223.5,100.5 222.4,103.5 221.9,107.5 221.7,135.5 221.5,135.5Z" fill="#fefce8" fill-rule="evenodd"/>
<path d="M156.5,135.5 125.6,135.5 125.6,121.0 125.1,118.0 125.0,93.5 121.9,86.0 120.6,80.5 119.6,78.0 117.5,74.3 115.1,67.0 114.6,66.0 114.2,64.5 113.5,62.9 112.5,61.3 109.0,57.2 103.1,51.5 101.5,49.4 95.1,43.0 93.1,39.0 93.0,38.0 93.5,36.7 94.0,36.3 102.0,34.6 130.0,32.0 132.5,31.9 136.5,32.4 139.5,32.5 145.0,32.1 151.5,32.3 162.0,31.9 165.5,31.2 170.0,29.4 172.5,29.0 194.5,29.2 220.0,31.5 244.5,31.6 244.5,82.4 238.0,83.0 230.5,84.6 224.0,87.0 217.0,90.5 210.7,94.5 206.1,98.5 203.7,101.5 201.3,106.5 200.0,108.0 196.9,109.5 187.7,112.0 186.9,112.5 186.6,114.0 186.3,114.5 185.5,115.0 182.5,115.7 177.5,116.1 172.0,116.1 161.0,115.5 155.5,115.6 153.9,116.0 152.9,117.0 153.0,118.3 154.0,119.5 156.7,121.5 157.4,122.5 156.9,135.5 156.5,135.5Z" fill="#fdf9c6" fill-rule="evenodd"/>
<path d="M150.5,135.5 126.3,135.5 126.3,121.5 125.8,117.5 125.8,95.0 125.6,93.5 124.5,90.5 122.5,86.5 121.2,80.5 120.0,77.5 117.0,71.8 116.5,69.6 116.1,69.0 115.6,67.0 115.1,66.0 114.6,63.5 113.5,61.6 109.3,56.5 104.0,51.3 102.0,48.8 95.9,42.5 95.0,41.2 94.1,39.0 94.0,38.5 94.2,37.5 95.4,37.0 99.0,36.2 100.5,35.5 103.0,35.1 130.0,32.6 132.5,32.6 134.0,33.0 139.5,33.3 145.5,33.0 152.0,33.4 162.0,33.1 165.5,32.4 170.5,30.5 174.0,30.2 189.5,30.3 198.4,31.0 204.6,32.0 211.4,33.5 217.2,35.0 221.1,36.5 222.0,37.5 222.3,39.0 223.2,69.0 223.1,71.5 222.6,74.0 221.8,76.0 220.6,78.0 218.1,81.0 214.9,84.0 210.5,87.5 203.0,93.0 199.5,96.0 197.5,98.3 196.0,100.5 192.9,107.5 191.0,109.0 188.0,110.1 184.5,111.9 184.4,112.5 185.0,114.0 184.8,114.5 183.9,115.0 182.0,115.5 179.5,115.8 172.0,115.9 166.0,115.2 160.5,113.6 153.5,113.0 152.5,113.1 151.8,113.5 151.0,114.7 150.6,117.0 150.7,135.5 150.5,135.5Z" fill="#fcf68c" fill-rule="evenodd"/>
<path d="M149.0,135.5 126.9,135.5 126.9,121.0 126.4,117.5 126.4,95.0 126.1,93.5 123.5,87.5 123.1,87.0 121.5,80.0 116.4,69.0 116.0,66.9 115.5,66.0 115.1,63.5 113.8,61.0 109.5,56.0 104.5,51.0 102.5,48.5 96.5,42.3 95.6,41.0 94.8,38.5 95.3,38.0 99.0,36.8 100.5,36.1 103.5,35.5 128.5,33.2 132.5,33.1 134.0,33.5 139.5,34.1 147.0,33.9 152.0,34.6 160.5,34.4 165.0,33.8 170.0,31.9 173.0,31.4 187.0,31.4 192.5,31.8 199.1,33.0 202.1,34.0 204.2,35.0 205.8,36.5 206.4,38.5 209.2,68.0 209.4,72.5 209.3,76.0 208.8,78.5 207.8,81.0 206.5,83.0 204.7,85.0 196.5,92.6 193.0,96.5 191.3,99.0 190.1,101.5 189.1,105.5 187.8,108.0 186.1,109.5 181.6,112.0 183.8,113.5 184.0,114.0 183.5,114.6 182.0,115.2 179.5,115.6 172.0,115.7 167.3,115.0 166.1,114.5 165.6,114.0 165.2,113.0 164.0,112.7 159.0,112.6 153.0,111.7 151.5,111.9 150.5,112.5 149.7,114.0 149.3,117.0 149.3,135.5 149.0,135.5Z" fill="#fdf450" fill-rule="evenodd"/>
<path d="M147.5,135.5 127.5,135.5 127.5,120.0 127.4,118.5 127.0,117.5 127.0,95.0 126.6,93.5 123.6,87.0 122.1,80.5 121.2,78.0 116.8,68.5 116.3,66.5 115.8,66.0 116.0,65.5 115.3,63.0 114.0,60.5 110.3,56.0 104.8,50.5 102.8,48.0 97.0,42.0 96.0,40.4 95.9,39.5 97.0,38.5 99.5,37.4 100.0,36.9 101.0,36.5 103.5,36.0 130.0,33.5 132.5,33.6 139.5,35.0 147.0,35.2 151.0,36.3 152.5,36.5 163.0,36.1 166.0,35.4 170.5,33.8 173.5,33.4 188.0,33.5 191.5,34.0 194.0,34.9 195.1,35.5 195.9,36.5 196.4,39.0 197.2,69.5 197.2,75.5 197.0,79.0 196.3,82.0 195.0,85.0 193.0,88.0 189.0,92.8 186.7,102.0 186.7,104.5 185.5,107.5 184.0,109.5 183.0,110.2 180.0,110.8 178.3,111.5 178.7,112.0 182.0,113.1 182.7,113.5 183.0,114.0 182.8,114.5 181.7,115.0 179.5,115.4 176.0,115.7 171.7,115.5 168.8,115.0 167.7,114.5 167.3,114.0 167.4,113.5 168.5,112.5 168.2,112.0 159.5,112.0 157.5,111.7 154.0,110.6 151.5,110.4 150.0,110.6 149.0,111.5 148.4,112.5 147.8,115.0 147.6,117.5 147.7,135.5 147.5,135.5Z" fill="#fcf01e" fill-rule="evenodd"/>
<path d="M160.5,111.5 159.0,111.5 157.1,111.0 150.5,108.1 142.3,103.5 129.5,95.7 127.2,93.5 124.4,88.0 122.5,80.1 121.8,78.0 116.4,66.0 115.6,62.5 114.4,60.0 111.5,56.3 104.1,48.5 98.4,40.5 98.3,40.0 98.8,39.0 100.5,37.5 101.5,36.9 104.0,36.3 130.0,33.9 132.5,34.0 134.5,34.4 135.5,34.9 139.0,35.9 145.3,39.0 156.0,45.1 160.0,48.5 163.0,50.6 167.0,54.0 170.0,56.1 172.9,59.5 173.5,60.5 175.4,62.5 178.0,66.0 179.9,68.0 180.4,69.0 183.3,79.0 184.7,84.0 185.8,89.5 185.3,95.5 185.6,97.0 185.0,102.5 185.3,104.0 184.1,107.0 182.8,109.0 182.0,109.6 179.5,109.9 178.5,110.3 176.0,110.4 173.5,110.9 172.0,111.5 167.5,111.2 160.5,111.5ZM176.0,115.5 170.5,115.1 168.9,114.5 168.6,114.0 169.5,113.2 172.0,112.2 175.0,112.2 180.0,112.9 181.6,113.5 182.1,114.0 181.9,114.5 180.7,115.0 176.0,115.5Z" fill="#fdd400" fill-rule="evenodd"/>
<path d="M172.0,110.9 171.5,110.7 167.5,110.6 160.0,111.0 157.5,110.5 153.3,108.5 148.5,105.3 143.0,102.4 139.5,100.1 138.0,99.4 137.0,98.6 133.0,96.4 132.0,95.5 130.5,94.8 128.0,93.0 126.5,91.4 124.9,88.5 122.1,77.5 116.5,65.0 116.6,64.5 115.5,61.1 115.1,59.0 112.5,55.5 105.0,47.5 102.5,43.8 101.7,42.0 101.0,41.0 100.8,40.0 100.6,39.0 101.4,37.5 104.0,36.7 105.5,36.5 130.0,34.3 134.0,34.8 135.5,35.4 138.3,37.0 141.5,39.8 144.0,40.9 145.0,41.8 147.5,42.9 148.5,43.8 154.6,47.0 158.6,50.5 159.6,51.0 161.0,52.3 161.6,52.5 165.6,56.0 166.6,56.5 167.6,57.5 169.0,58.4 169.2,59.0 171.0,60.9 171.5,61.9 173.5,63.9 173.7,64.5 175.5,66.4 176.0,67.4 178.1,69.5 178.2,71.0 179.6,74.5 179.7,76.0 181.1,79.5 181.2,81.0 182.5,84.5 182.7,86.0 183.0,86.5 183.1,87.5 183.9,90.0 183.5,96.5 184.0,97.0 183.8,103.5 184.2,104.0 183.3,105.5 183.2,106.5 182.2,108.0 182.1,109.0 179.0,109.3 178.5,109.7 175.5,109.8 175.0,110.2 172.5,110.5 172.0,110.9ZM179.5,115.0 176.0,115.3 172.5,115.2 170.0,114.5 169.7,114.0 170.3,113.5 172.0,112.9 175.0,112.7 179.0,113.0 180.6,113.5 181.2,114.0 181.0,114.5 179.5,115.0Z" fill="#fda400" fill-rule="evenodd"/>
<path d="M172.5,110.1 172.0,110.4 171.5,110.2 167.0,110.2 160.0,110.5 158.0,110.2 151.8,106.5 148.0,103.9 143.5,101.6 140.0,99.3 138.5,98.6 137.5,97.8 131.0,94.1 130.0,93.2 128.5,92.5 126.5,90.5 125.4,88.5 123.3,79.5 122.0,75.5 119.5,70.4 116.7,64.0 116.4,62.5 116.4,59.5 115.5,58.0 115.5,57.5 114.0,56.0 114.0,55.5 109.9,51.5 109.9,51.0 105.9,47.0 105.9,46.5 105.4,46.0 105.5,45.5 104.5,44.5 104.5,44.0 103.5,43.0 103.5,42.5 103.0,42.0 103.0,41.5 102.0,40.5 102.0,39.7 101.7,39.0 102.0,38.2 103.5,37.5 105.0,37.1 128.5,35.0 130.5,34.8 134.0,35.4 137.5,37.5 141.0,41.0 141.5,41.0 142.0,41.5 142.5,41.5 143.0,42.0 143.5,42.0 144.5,43.0 145.0,43.0 146.5,44.0 147.0,44.0 148.0,45.0 148.5,45.0 150.0,46.0 150.5,46.0 151.5,47.0 152.0,47.0 152.5,47.5 153.0,47.5 153.5,48.0 154.0,48.0 156.0,50.0 156.5,50.0 158.5,52.0 159.0,52.0 160.5,53.5 161.0,53.5 163.0,55.5 163.5,55.5 165.5,57.5 166.0,57.5 167.5,59.0 168.0,59.0 168.0,59.5 170.0,61.5 170.0,62.0 172.5,64.5 172.5,65.0 174.5,67.0 174.5,67.5 177.0,70.0 177.0,71.5 177.5,72.0 177.5,73.0 178.0,73.5 178.0,74.5 178.5,75.0 178.5,76.5 179.0,77.0 179.0,78.0 179.5,78.5 179.5,79.5 180.0,80.0 180.0,81.5 180.5,82.0 180.5,83.0 181.0,83.5 181.0,84.5 181.5,85.0 181.5,86.5 182.0,87.0 182.0,88.0 182.5,88.5 182.5,89.5 183.0,90.0 182.8,96.5 183.3,97.5 183.2,104.0 182.0,107.0 181.0,108.5 179.0,108.6 178.0,109.1 175.5,109.2 174.5,109.6 172.5,110.1ZM177.5,115.0 173.2,115.0 171.2,114.5 171.0,114.0 172.5,113.3 175.5,113.1 178.5,113.3 180.1,114.0 179.9,114.5 177.5,115.0Z" fill="#f96c00" fill-rule="evenodd"/>
<path d="M160.5,110.1 159.0,110.0 157.0,109.0 148.5,103.3 144.5,101.0 144.0,100.9 143.0,100.0 141.5,99.4 140.5,98.4 139.0,97.9 138.0,96.9 136.5,96.4 135.5,95.4 134.0,94.8 133.0,93.9 131.5,93.3 130.5,92.4 129.0,91.8 127.5,90.2 127.0,90.0 125.5,86.6 122.7,75.5 117.3,64.0 117.1,63.0 117.3,61.0 116.9,60.0 117.0,59.0 116.1,56.5 115.2,55.5 114.7,54.5 111.2,51.0 110.7,50.0 107.2,46.5 106.2,44.5 104.7,42.5 103.4,40.0 103.4,39.5 104.1,38.5 105.0,37.9 130.5,35.6 134.0,36.5 136.2,38.0 140.0,41.7 153.5,49.2 157.5,52.7 160.5,54.7 164.5,58.2 165.5,58.7 167.0,60.0 168.8,62.0 169.3,63.0 171.3,65.0 171.8,66.0 173.3,67.5 173.8,68.5 175.8,70.5 176.0,72.0 177.5,76.0 177.5,77.0 179.0,81.0 179.0,82.0 180.5,86.0 180.5,87.0 181.9,91.0 181.7,96.5 182.0,98.0 181.8,104.0 181.2,105.5 180.5,106.9 180.0,107.2 178.5,107.5 177.5,108.0 176.0,108.1 172.0,109.7 160.5,110.1ZM178.0,114.6 174.5,114.7 172.9,114.5 172.6,114.0 174.5,113.5 176.5,113.5 178.6,114.0 178.3,114.5 178.0,114.6Z" fill="#f23400" fill-rule="evenodd"/>
<path d="M160.5,109.6 159.5,109.6 158.0,109.0 152.5,105.2 151.5,104.2 150.0,103.5 148.8,102.5 144.5,100.0 141.0,97.6 139.5,96.9 138.5,96.1 128.7,90.0 126.5,86.0 122.8,73.5 119.1,66.0 117.9,62.0 118.1,61.5 117.7,60.5 117.5,54.9 116.2,53.0 113.2,50.0 112.2,48.5 109.0,45.2 106.4,41.0 106.2,40.0 106.5,39.7 129.9,37.5 132.5,37.5 139.0,43.6 152.2,51.0 156.4,54.5 164.5,60.7 166.8,63.0 172.3,70.0 173.8,71.5 175.3,76.5 175.4,77.5 176.8,81.0 176.9,82.0 179.9,91.5 179.8,97.0 180.0,98.5 179.9,102.5 179.6,103.5 178.2,105.5 172.0,109.1 160.5,109.6Z" fill="#e60800" fill-rule="evenodd"/>
<path d="M160.0,109.1 155.5,106.5 149.4,101.0 145.5,98.8 143.1,97.0 142.5,96.9 141.6,96.0 140.0,95.4 139.1,94.5 138.5,94.4 136.0,92.5 135.5,92.5 134.5,91.5 134.0,91.5 133.0,90.5 132.5,90.5 131.5,89.5 131.0,89.5 130.5,89.0 130.0,89.0 130.0,88.0 129.5,87.5 129.5,87.0 129.0,86.5 129.0,86.0 128.0,84.5 128.0,83.5 127.5,83.0 127.5,82.5 127.0,82.0 127.0,81.5 126.5,81.0 126.5,80.5 126.2,80.0 125.5,76.5 125.1,76.0 125.0,74.5 124.5,74.0 124.5,72.5 124.0,72.0 124.0,71.5 123.5,71.0 123.5,70.5 123.0,70.0 123.0,69.5 122.5,69.0 122.5,68.5 122.0,68.0 122.0,67.5 121.5,67.0 121.5,66.5 121.0,66.0 121.0,65.5 120.5,65.0 120.5,64.5 120.0,64.0 120.0,63.4 119.0,61.5 118.7,60.0 119.0,57.4 119.5,56.5 126.0,53.5 127.5,54.0 130.0,54.0 131.5,54.5 134.5,54.5 146.5,58.5 150.5,61.3 152.5,62.3 156.0,64.8 158.0,65.8 159.5,67.3 160.5,67.8 161.5,68.8 162.5,69.3 164.0,70.8 167.0,72.8 167.7,74.0 170.7,77.0 171.2,78.0 174.2,81.0 177.5,92.0 177.3,102.5 175.1,105.0 174.6,106.0 171.0,108.4 166.0,108.4 165.5,108.8 160.5,108.8 160.0,109.1Z" fill="#c80000" fill-rule="evenodd"/>
<path d="M170.5,107.0 160.5,107.3 159.1,107.0 154.1,103.0 150.5,99.6 132.0,87.6 127.9,79.0 127.9,78.0 127.4,77.0 127.4,76.0 126.9,75.0 126.2,71.5 121.0,61.3 120.0,58.0 120.5,57.9 121.0,57.4 121.5,57.4 122.0,56.9 122.5,56.9 123.0,56.4 123.5,56.4 124.0,55.9 124.5,55.9 125.0,55.4 125.5,55.4 126.0,54.9 126.5,55.4 130.0,55.4 130.5,55.9 134.0,55.9 134.5,56.4 135.5,56.4 136.0,56.9 137.0,56.9 137.5,57.4 138.5,57.4 139.0,57.9 140.0,57.9 140.5,58.4 141.5,58.4 142.0,58.9 143.0,58.9 143.5,59.4 144.5,59.4 145.0,59.9 146.0,59.9 147.0,60.9 147.5,60.9 148.5,61.9 149.0,61.9 150.0,62.9 150.5,62.9 151.0,63.4 151.5,63.4 152.5,64.4 153.0,64.4 154.0,65.4 154.5,65.4 155.5,66.4 156.0,66.4 156.5,66.9 157.0,66.9 159.0,68.9 159.5,68.9 161.0,70.4 161.5,70.4 163.5,72.4 164.0,72.4 165.5,73.9 166.0,73.9 166.1,74.5 169.6,78.0 169.6,78.5 173.1,82.0 173.1,83.5 173.6,84.0 173.6,85.0 174.1,85.5 174.1,86.5 174.6,87.0 174.6,88.5 175.1,89.0 175.1,90.0 175.6,90.5 175.6,91.5 176.1,92.0 176.1,102.0 173.6,104.5 173.6,105.0 172.1,106.5 170.5,107.0Z" fill="#a30000" fill-rule="evenodd"/>
<path d="M123.0,135.5 20.0,135.5 20.0,34.2 42.5,34.2 59.0,35.5 68.5,35.7 72.0,36.2 77.5,35.9 80.0,35.9 83.5,36.2 86.0,36.7 87.5,37.2 89.0,38.1 90.0,39.7 91.0,41.8 91.4,43.5 92.5,45.5 99.9,51.5 101.0,53.0 107.1,58.5 112.3,64.5 113.9,67.5 115.6,72.5 119.4,81.0 120.0,84.5 121.3,87.5 122.2,91.0 122.8,94.5 122.8,118.0 123.3,121.5 123.3,135.5 123.0,135.5ZM210.0,135.5 186.3,135.5 186.5,133.0 187.0,130.5 190.2,121.0 190.0,120.0 188.9,119.5 186.5,119.2 169.0,118.5 165.9,118.0 165.1,117.5 166.3,117.0 168.5,116.8 181.0,116.6 189.5,116.1 192.2,115.5 195.7,114.0 199.5,113.0 205.5,112.2 208.3,112.5 209.5,113.5 209.9,114.5 210.2,116.0 210.3,135.5 210.0,135.5Z" fill="#f0f7fc" fill-rule="evenodd"/>
<path d="M122.0,135.5 20.0,135.5 20.0,36.7 42.0,36.7 52.5,37.0 68.0,36.7 72.5,37.2 78.0,36.9 84.5,37.7 87.6,39.5 88.1,40.5 88.4,42.0 89.4,45.0 90.4,46.5 98.7,52.5 100.0,54.0 106.5,59.5 112.0,65.7 113.3,68.0 116.2,75.0 118.0,78.5 118.5,80.8 118.9,81.5 119.0,84.0 119.6,84.5 120.7,87.5 121.8,94.5 121.8,118.5 122.3,121.5 122.3,135.5 122.0,135.5ZM208.0,135.5 196.5,135.5 197.1,129.5 199.1,120.0 198.9,119.0 198.4,118.0 198.4,117.5 201.4,115.5 204.5,114.5 206.0,114.3 207.0,114.5 207.6,115.0 208.1,116.0 208.3,135.5 208.0,135.5ZM187.0,118.0 182.0,118.4 175.5,118.4 169.9,118.0 168.7,117.5 172.0,117.0 180.0,116.9 185.3,117.0 188.3,117.5 187.0,118.0Z" fill="#d9eef9" fill-rule="evenodd"/>
<path d="M121.0,135.5 20.0,135.5 20.0,39.6 42.5,39.4 57.0,37.8 68.0,37.4 72.5,37.9 78.0,37.6 81.0,37.9 83.6,38.5 85.9,40.0 86.4,41.0 86.8,43.0 88.0,45.6 89.4,47.5 97.5,53.3 99.0,55.0 105.0,59.9 112.0,67.5 117.7,79.0 118.1,81.0 118.4,81.5 118.5,84.0 119.3,85.5 120.0,88.4 120.1,92.0 120.5,94.5 120.5,118.5 121.0,121.5 121.0,135.5ZM179.0,117.5 176.5,117.7 174.5,117.5 179.4,117.5 179.0,117.5Z" fill="#b9e0f5" fill-rule="evenodd"/>
<path d="M119.5,135.5 20.0,135.5 20.0,40.6 43.0,40.2 58.0,38.4 68.0,37.9 73.0,38.4 78.5,38.2 82.4,39.0 84.4,40.5 84.8,41.0 85.8,44.0 87.2,46.5 88.5,48.0 97.0,54.2 98.1,55.5 104.5,60.9 105.7,62.5 110.9,68.0 116.1,76.5 117.2,79.0 118.0,82.0 118.0,84.5 118.9,86.5 119.0,89.0 118.7,90.0 118.9,92.5 119.3,94.5 119.3,119.0 119.8,121.5 119.8,135.5 119.5,135.5Z" fill="#8fcdef" fill-rule="evenodd"/>
<path d="M118.5,135.5 20.0,135.5 20.0,54.0 37.5,54.0 40.0,53.6 40.5,53.0 40.1,52.0 37.9,50.0 34.0,46.9 31.5,45.6 28.5,45.1 20.0,45.1 20.0,41.4 29.5,41.4 43.0,40.8 58.0,38.9 67.5,38.3 73.0,38.9 79.0,38.9 81.5,39.6 82.7,40.5 83.6,41.5 84.6,44.5 85.5,45.5 86.3,47.0 87.7,48.5 96.0,54.6 97.3,56.0 103.8,61.5 104.9,63.0 107.0,65.0 108.1,66.5 110.2,68.5 115.8,77.0 116.6,79.0 117.5,82.5 117.4,85.0 117.9,88.0 117.6,90.0 118.4,95.0 118.4,119.0 118.9,121.5 118.9,135.5 118.5,135.5Z" fill="#5ea8e6" fill-rule="evenodd"/>
<path d="M117.5,135.5 20.0,135.5 20.0,55.3 40.0,55.2 42.5,54.9 43.2,54.5 43.5,54.0 42.8,52.5 40.0,50.0 34.0,45.4 29.6,43.0 30.9,42.5 35.5,41.6 44.0,41.2 62.5,39.0 68.5,38.8 72.5,39.4 79.5,39.9 80.5,40.3 81.2,41.0 82.4,42.5 83.5,45.1 86.8,49.0 95.5,55.3 96.5,56.5 103.0,62.1 104.0,63.5 109.8,69.5 113.5,74.5 115.6,78.0 116.5,80.8 116.8,83.5 116.6,85.0 116.7,87.0 116.5,88.0 116.5,90.5 117.4,95.0 117.4,119.0 117.9,121.5 117.9,135.5 117.5,135.5Z" fill="#2f74dc" fill-rule="evenodd"/>
<path d="M116.5,135.5 20.0,135.5 20.0,56.2 41.0,56.1 43.5,55.9 45.0,55.3 45.4,54.5 45.3,54.0 44.3,52.5 34.0,44.0 33.7,43.5 33.9,43.0 35.5,42.3 38.0,41.9 44.0,41.7 58.5,39.8 67.5,39.2 69.5,39.3 75.7,40.5 78.5,41.3 79.7,42.0 82.5,45.5 83.6,46.5 83.7,47.0 84.3,47.5 84.4,48.0 86.0,49.5 94.9,56.0 95.7,57.0 102.5,62.9 103.2,64.0 109.2,70.0 113.5,75.7 115.1,78.5 115.8,81.0 116.0,83.0 115.6,86.5 115.3,88.0 115.5,90.5 116.4,95.0 116.4,119.5 116.9,121.5 116.9,135.5 116.5,135.5Z" fill="#1040d8" fill-rule="evenodd"/>
<path d="M115.5,135.5 20.0,135.5 20.0,57.0 41.5,57.0 44.0,56.9 45.8,56.5 46.7,56.0 47.1,55.5 47.1,54.5 46.6,53.5 44.0,51.0 36.6,45.0 35.8,44.0 35.8,43.5 36.3,43.0 38.2,42.5 44.0,42.2 58.0,40.3 67.5,39.7 71.0,40.2 73.8,41.0 75.8,42.0 81.0,47.0 83.5,49.0 86.0,50.5 89.0,53.0 94.0,56.6 94.6,57.5 101.7,63.5 102.5,64.7 108.5,70.4 114.0,77.8 114.7,79.5 115.0,81.5 115.0,83.5 114.3,85.5 114.0,88.5 114.4,89.5 114.4,91.0 114.8,92.0 114.9,93.5 115.4,95.0 115.4,120.0 115.9,121.5 115.9,135.5 115.5,135.5Z" fill="#0008d8" fill-rule="evenodd"/>
<path d="M114.0,135.5 20.0,135.5 20.0,58.1 43.0,58.1 45.5,57.9 47.4,57.5 48.3,57.0 49.0,56.0 49.0,55.0 48.6,54.0 46.3,51.5 39.0,45.5 38.2,44.5 38.1,44.0 38.5,43.6 40.0,43.2 44.5,42.8 57.5,40.9 66.5,40.3 69.5,40.5 72.9,42.0 79.0,47.9 83.0,51.2 92.0,56.5 93.2,57.5 93.2,58.0 100.8,64.5 101.5,65.5 107.7,71.0 111.1,75.5 113.3,79.0 113.6,82.0 113.0,83.5 113.0,84.5 112.2,86.5 112.6,87.5 112.4,89.0 112.9,90.0 112.9,91.5 113.4,92.5 113.4,94.0 113.9,95.0 113.9,120.5 114.4,121.5 114.4,135.5 114.0,135.5Z" fill="#0000b4" fill-rule="evenodd"/>
<path d="M110.5,135.5 20.0,135.5 20.0,59.7 44.0,59.7 47.0,59.5 49.0,59.0 50.5,58.2 51.4,57.0 51.5,56.0 51.2,54.5 50.2,53.0 49.0,51.7 42.2,46.0 41.7,45.0 42.0,44.6 46.6,43.5 57.5,41.8 63.0,41.2 67.5,41.2 68.8,41.5 69.8,42.0 72.0,44.5 81.0,53.0 89.5,59.4 92.0,61.6 94.2,63.0 99.0,65.2 101.5,67.0 103.2,68.5 103.4,69.0 106.5,71.5 110.0,76.2 111.7,79.5 111.2,81.5 111.2,82.5 110.5,84.1 109.4,84.5 108.9,85.0 108.6,87.0 109.0,90.0 110.5,96.5 110.5,121.0 111.0,123.0 111.0,135.5 110.5,135.5Z" fill="#00008c" fill-rule="evenodd"/></g></g><g clip-path="url(#clf02)"><rect x="20" y="10" width="225" height="126" fill="#fff"/><g filter="url(#bf)"><path d="M33.0,52.5 31.9,52.5 33.0,52.5ZM244.5,135.5 144.9,135.5 145.1,132.5 146.1,128.5 148.5,121.0 150.9,115.0 150.8,114.0 150.3,113.0 147.2,110.0 142.5,106.5 131.3,99.5 121.7,94.0 108.0,86.8 103.0,83.8 100.0,81.6 98.0,78.4 96.5,77.3 94.0,76.4 90.5,76.7 87.5,75.9 85.0,74.4 82.0,71.8 79.0,70.6 77.5,69.8 73.5,66.2 62.0,62.0 55.5,60.3 54.4,59.5 53.0,57.7 52.1,57.0 53.5,56.6 57.0,57.3 74.4,63.5 97.5,74.7 101.5,75.7 109.5,80.0 111.5,80.2 122.5,86.2 137.5,95.3 150.5,103.5 155.4,106.0 158.0,106.9 159.5,107.1 160.5,107.0 162.0,106.3 235.6,69.5 240.5,67.5 242.5,66.9 244.5,66.7 244.5,135.5ZM99.0,97.6 90.5,97.8 88.5,97.4 87.0,96.7 85.4,95.0 84.2,92.0 83.9,89.5 84.4,88.0 85.0,87.3 86.0,86.7 89.0,86.2 97.0,86.3 99.0,86.7 100.5,87.4 101.8,88.5 102.8,90.0 103.7,92.5 103.7,94.0 103.1,95.5 102.1,96.5 101.0,97.1 99.0,97.6Z" fill="#fefce8" fill-rule="evenodd"/>
<path d="M191.0,135.5 181.0,135.5 179.9,134.0 175.2,130.5 156.0,117.3 151.6,112.5 143.8,106.5 136.8,102.0 127.5,96.4 103.0,82.7 100.5,81.0 98.5,78.1 97.0,76.6 95.5,75.9 94.0,75.4 93.0,75.5 90.5,76.1 89.0,75.9 87.5,75.4 85.0,73.9 82.5,71.4 79.0,70.3 77.5,69.4 76.1,68.0 74.5,66.0 73.5,65.3 62.5,61.3 59.0,60.7 56.0,59.9 54.9,59.0 54.5,58.0 55.0,57.5 56.0,57.4 58.0,57.9 59.8,58.5 62.0,59.7 74.4,64.0 88.0,70.2 96.5,74.8 98.0,75.4 100.5,75.8 102.0,76.3 109.0,80.1 111.0,80.6 118.0,84.7 122.5,86.8 137.5,95.8 149.4,103.5 158.0,108.2 159.8,109.5 162.5,112.1 173.0,118.7 180.0,123.8 189.2,131.0 190.8,133.0 191.2,135.0 191.2,135.5 191.0,135.5ZM97.0,95.5 91.5,95.5 90.0,95.3 89.0,94.8 88.0,93.8 87.2,92.0 87.0,90.5 87.3,89.5 88.5,88.7 90.5,88.5 96.0,88.5 98.5,89.1 99.5,90.0 100.1,91.0 100.5,92.5 100.5,93.5 100.1,94.5 99.5,95.0 97.0,95.5Z" fill="#fdf9c6" fill-rule="evenodd"/>
<path d="M60.0,60.1 58.5,60.0 56.5,59.4 55.7,59.0 55.4,58.5 55.5,58.1 56.5,57.9 59.5,58.9 60.4,59.5 60.4,60.0 60.0,60.1ZM91.0,75.5 89.5,75.6 87.0,74.8 85.1,73.5 82.5,70.8 79.5,70.2 78.0,69.4 76.9,68.5 76.1,67.5 75.5,66.0 75.6,65.5 76.5,65.4 78.5,66.1 82.5,68.3 87.0,70.0 90.6,72.0 92.8,73.5 93.1,74.0 92.8,74.5 91.0,75.5ZM160.0,116.1 158.0,116.5 156.0,115.7 152.0,111.9 147.0,108.0 137.5,101.7 120.0,91.4 108.5,85.2 102.5,81.7 100.3,80.0 98.2,76.5 99.0,76.0 101.5,76.4 108.5,80.2 111.0,81.2 112.5,82.3 118.0,85.4 121.5,86.7 137.0,96.0 148.7,103.5 157.5,108.5 159.8,110.5 160.9,112.0 161.2,113.5 161.1,114.5 160.8,115.5 160.0,116.1Z" fill="#fcf68c" fill-rule="evenodd"/>
<path d="M91.0,75.1 90.0,75.3 89.0,75.3 86.5,74.3 84.9,73.0 83.0,70.4 82.5,70.2 80.0,70.1 77.7,69.0 76.5,67.5 76.2,66.5 76.5,66.1 77.0,66.0 78.5,66.4 80.7,67.5 83.0,69.3 86.0,69.9 89.4,71.5 90.8,72.5 91.8,73.5 91.9,74.0 91.7,74.5 91.0,75.1ZM158.5,115.3 157.5,115.5 156.0,114.9 152.0,111.2 147.0,107.4 136.5,100.4 116.5,88.7 111.0,85.8 108.5,84.7 102.0,80.9 101.0,80.1 100.0,78.9 99.2,77.5 99.1,77.0 99.2,76.5 100.5,76.3 102.0,76.8 110.5,81.3 112.5,83.0 117.5,85.9 118.5,86.3 120.5,86.7 122.0,87.3 137.0,96.4 149.0,104.1 157.5,108.9 159.7,111.0 160.4,112.5 160.0,113.9 158.5,115.3Z" fill="#fdf450" fill-rule="evenodd"/>
<path d="M81.5,69.8 80.0,69.9 78.0,69.0 76.8,67.5 76.7,67.0 77.0,66.5 78.5,66.6 80.3,67.5 81.8,69.0 81.8,69.5 81.5,69.8ZM90.0,75.0 88.0,74.8 86.0,73.7 84.4,72.0 84.0,71.0 84.0,70.4 84.5,70.0 86.0,70.2 88.0,71.0 89.7,72.0 90.8,73.0 91.2,74.0 90.9,74.5 90.0,75.0ZM115.0,86.2 114.0,86.0 112.0,85.0 109.0,84.4 103.5,81.4 100.9,79.5 99.9,78.0 99.7,77.0 100.5,76.6 101.8,77.0 110.1,81.5 110.7,82.0 112.0,83.9 115.1,86.0 115.0,86.2ZM158.0,114.6 157.0,114.7 156.0,114.3 151.5,110.1 143.0,103.9 136.5,99.8 120.0,90.0 118.2,88.5 117.8,88.0 117.9,87.5 120.0,87.0 121.6,87.5 136.6,96.5 148.5,104.1 157.1,109.0 158.8,110.5 159.8,112.0 159.7,113.0 159.5,113.4 158.0,114.6Z" fill="#fcf01e" fill-rule="evenodd"/>
<path d="M81.0,69.6 80.0,69.7 78.3,69.0 77.3,68.0 77.1,67.5 77.2,67.0 78.5,66.9 80.0,67.6 81.3,69.0 81.0,69.6ZM90.0,74.6 89.0,74.8 88.0,74.5 86.1,73.5 85.1,72.5 84.6,71.5 84.5,71.0 84.9,70.5 86.5,70.6 89.3,72.0 90.6,73.5 90.6,74.0 90.0,74.6ZM109.5,84.0 108.0,83.5 101.5,79.5 100.4,78.0 100.3,77.5 100.5,77.1 101.0,77.0 102.0,77.4 109.5,81.5 110.2,82.0 110.6,83.0 110.5,83.7 110.0,84.0 109.5,84.0ZM157.5,114.0 157.0,114.1 156.0,113.7 151.5,109.4 143.0,103.2 137.0,99.4 120.5,89.6 119.8,89.0 119.6,88.0 120.5,87.6 121.8,88.0 136.7,97.0 148.0,104.3 157.0,109.3 158.4,110.5 159.3,112.0 159.0,113.1 157.5,114.0Z" fill="#fdd400" fill-rule="evenodd"/>
<path d="M80.5,69.4 79.5,69.4 78.7,69.0 77.6,68.0 77.5,67.4 78.0,67.1 79.5,67.6 80.6,68.5 80.8,69.0 80.5,69.4ZM90.0,74.1 89.5,74.4 88.5,74.4 86.5,73.5 85.1,72.0 85.0,71.5 85.2,71.0 86.5,70.9 88.5,71.7 89.9,73.0 90.2,73.5 90.0,74.1ZM109.5,83.3 108.1,83.0 103.0,80.0 101.5,78.9 101.0,77.8 101.5,77.6 102.5,78.0 108.9,81.5 109.9,82.5 109.8,83.0 109.5,83.3ZM121.0,88.9 120.9,88.5 121.4,88.5 121.0,88.9ZM126.0,91.9 121.0,89.0 121.5,88.5 124.0,90.0 126.4,91.5 126.0,91.9ZM128.5,93.3 126.1,92.0 126.5,91.6 128.9,93.0 128.5,93.3ZM129.5,93.8 128.7,93.5 129.0,93.2 129.6,93.5 129.5,93.8ZM131.0,94.8 129.7,94.0 130.5,94.0 131.3,94.5 131.0,94.8ZM132.0,95.2 131.3,95.0 131.5,94.8 132.1,95.0 132.0,95.2ZM132.5,95.6 132.2,95.5 132.9,95.5 132.5,95.6ZM133.5,96.2 132.9,96.0 133.0,95.6 133.8,96.0 133.5,96.2ZM134.5,96.6 133.8,96.5 134.0,96.3 134.5,96.6ZM135.0,97.1 134.8,97.0 135.4,97.0 135.0,97.1ZM136.0,97.7 135.5,97.5 135.5,97.2 136.2,97.5 136.0,97.7ZM136.5,98.0 136.7,98.0 136.5,98.0ZM140.0,100.2 139.6,100.0 140.0,100.0 140.0,100.2ZM141.5,101.2 140.3,100.5 140.5,100.3 141.0,100.5 141.8,101.0 141.5,101.2ZM142.0,101.6 141.8,101.5 142.0,101.3 142.4,101.5 142.0,101.6ZM146.0,104.1 145.8,104.0 146.3,104.0 146.0,104.1ZM158.0,113.1 157.0,113.4 156.0,113.0 152.0,109.1 146.3,104.5 146.5,104.2 156.0,109.0 157.5,110.0 158.4,111.0 158.8,112.0 158.7,112.5 158.0,113.1Z" fill="#fda400" fill-rule="evenodd"/>
<path d="M80.0,69.1 79.0,68.9 78.0,68.0 78.5,67.5 79.5,67.9 80.1,68.5 80.0,69.1ZM89.0,74.1 88.0,74.0 86.5,73.2 85.8,72.5 85.6,71.5 86.5,71.2 88.5,72.1 89.4,73.0 89.6,73.5 89.3,74.0 89.0,74.1ZM157.0,112.6 156.0,112.2 154.8,111.0 153.2,109.0 153.5,108.6 156.0,109.5 157.4,110.5 158.0,111.5 158.0,112.0 157.5,112.5 157.0,112.6Z" fill="#f96c00" fill-rule="evenodd"/>
<path d="M88.5,73.6 87.7,73.5 86.8,73.0 86.4,72.5 86.3,72.0 87.0,71.8 88.4,72.5 88.8,73.0 88.7,73.5 88.5,73.6Z" fill="#f23400" fill-rule="evenodd"/>
<path d="M109.5,79.1 108.9,79.0 103.0,75.7 101.5,75.2 98.5,74.6 97.1,74.0 75.0,63.2 60.0,57.7 55.0,56.3 54.3,55.5 54.1,54.5 54.5,52.6 55.5,51.5 57.5,51.5 58.0,52.0 57.5,52.0 57.3,52.5 57.8,52.5 58.0,52.0 58.5,52.0 58.8,52.5 60.0,52.6 60.4,53.5 61.4,53.5 61.5,53.0 62.0,53.0 62.3,53.5 64.0,53.5 64.4,54.0 64.3,54.5 66.5,54.6 67.1,55.0 68.5,55.0 68.9,55.5 70.0,55.5 70.4,56.0 70.4,56.5 72.0,56.6 72.6,57.0 74.0,57.0 74.4,57.5 75.5,57.5 75.9,58.0 75.9,58.5 79.0,59.0 79.4,59.5 95.0,59.5 95.5,60.0 95.5,61.5 96.0,62.0 96.0,63.5 96.5,64.0 96.5,65.5 97.0,66.0 93.5,66.3 93.4,66.5 94.2,67.5 95.5,68.5 98.5,70.1 101.4,73.0 104.0,75.2 107.0,76.6 109.5,78.3 109.7,79.0 109.5,79.1ZM72.0,56.0 72.0,55.5 72.5,56.0 72.0,56.0ZM105.0,135.5 20.0,135.5 20.0,64.0 22.5,64.0 23.0,63.5 23.5,63.5 23.5,58.0 24.0,57.5 25.0,57.5 26.0,57.9 29.0,58.0 30.5,58.4 39.1,59.0 51.5,61.0 55.0,62.3 61.7,64.0 66.7,66.0 72.4,68.5 78.1,72.5 78.4,73.0 78.2,73.5 76.5,75.4 75.5,77.6 74.1,86.5 72.2,94.5 71.0,97.0 68.5,100.0 68.0,101.0 68.1,101.5 68.7,102.5 69.8,103.5 78.5,109.9 82.5,112.3 86.5,114.2 89.5,115.2 90.5,115.0 91.0,114.6 91.7,113.0 92.8,108.5 93.5,106.6 94.5,105.2 95.7,104.5 99.4,103.5 120.0,99.6 124.5,99.5 127.5,100.1 130.3,101.5 133.5,103.5 136.2,105.5 137.8,107.0 138.3,108.0 138.5,109.0 138.3,111.0 137.8,113.0 137.0,114.8 136.0,116.3 133.5,118.9 121.9,127.0 121.3,127.5 121.0,128.5 120.5,129.0 118.0,129.0 117.5,129.5 115.0,129.5 114.5,130.0 112.5,130.0 112.0,130.5 105.5,130.5 105.5,135.5 105.0,135.5Z" fill="#f0f7fc" fill-rule="evenodd"/>
<path d="M100.0,74.1 98.5,74.1 97.1,73.5 75.0,62.7 61.5,58.0 60.0,57.2 55.6,56.0 55.2,55.5 55.4,55.0 57.5,55.3 61.5,56.4 68.5,58.7 77.0,61.8 98.0,72.4 99.7,73.5 100.0,74.1ZM48.5,98.6 46.0,98.7 43.5,97.9 41.5,96.1 40.2,93.5 39.7,91.0 39.5,87.5 40.4,76.0 40.8,74.5 41.5,73.5 42.0,73.1 44.0,72.5 54.5,71.6 56.5,71.7 58.1,72.0 60.0,73.0 62.1,75.0 63.3,77.0 63.4,78.5 62.9,79.5 61.0,81.2 60.0,82.6 59.3,84.5 57.6,90.5 56.0,93.5 54.6,95.0 52.5,96.7 50.5,97.9 48.5,98.6Z" fill="#d9eef9" fill-rule="evenodd"/></g></g>
<polyline fill="none" stroke="#2474b5" stroke-width="1.3" points="27.5,42.6 43,42.8 60,40.6 132,34 165.4,32.4 169.7,29.85 237.6,29.4"/>
</g></g>
<g transform="translate(431,0)">
<g clip-path="url(#clipp02b)"><polyline fill="none" stroke="#111" stroke-width="1.05" points="27.5,49.7 39.3,51.8 51.6,54.8 63.9,58.3 76.2,62.8 88.5,69 100.8,75 118.75,85 137.5,96.25 156.25,108.4 175,121 186.3,129.6 188,131"/></g>
<circle cx="35.1" cy="122.2" r="2.1" fill="#fff" stroke="#333" stroke-width="0.8"/>
<rect x="174.9" y="26.1" width="3.8" height="3.8" fill="#000"/>
<rect x="222.8" y="26.1" width="3.8" height="3.8" fill="#000"/>
<g fill="#fff" stroke="#1a1a1a" stroke-width="0.85"><circle cx="102.3" cy="43" r="2.35"/><circle cx="92.6" cy="49.4" r="2.35"/><circle cx="96.7" cy="50.3" r="2.35"/><circle cx="109.3" cy="57.4" r="2.35"/><circle cx="106" cy="64.8" r="2.35"/><circle cx="113.5" cy="66.2" r="2.35"/><circle cx="137.2" cy="53.7" r="2.35"/><circle cx="148.7" cy="49.3" r="2.35"/><circle cx="145.3" cy="55.4" r="2.35"/><circle cx="148.1" cy="55.4" r="2.35"/><circle cx="133.6" cy="62.1" r="2.35"/><circle cx="137.3" cy="63" r="2.35"/><circle cx="140" cy="61.7" r="2.35"/><circle cx="136.8" cy="66.4" r="2.35"/><circle cx="127" cy="65.4" r="2.35"/><circle cx="119.4" cy="68.1" r="2.35"/><circle cx="122.4" cy="68" r="2.35"/><circle cx="108.1" cy="68.2" r="2.35"/><circle cx="165.2" cy="44.2" r="2.35"/><circle cx="163.1" cy="46.4" r="2.35"/><circle cx="157.2" cy="48.2" r="2.35"/><circle cx="148.2" cy="51.7" r="2.35"/><circle cx="156" cy="51.9" r="2.35"/><circle cx="153.9" cy="55.8" r="2.35"/><circle cx="157.9" cy="55.5" r="2.35"/><circle cx="161.4" cy="54.1" r="2.35"/><circle cx="164.1" cy="56.7" r="2.35"/><circle cx="168.2" cy="54.1" r="2.35"/><circle cx="152.2" cy="59.6" r="2.35"/><circle cx="161.4" cy="61.5" r="2.35"/><circle cx="160.9" cy="57.8" r="2.35"/><circle cx="150.9" cy="66" r="2.35"/><circle cx="154.6" cy="66.1" r="2.35"/><circle cx="150.5" cy="50.2" r="2.35"/><circle cx="150" cy="52.9" r="2.35"/><circle cx="150.8" cy="69.7" r="2.35"/><circle cx="191.9" cy="43.9" r="2.35"/><circle cx="190.4" cy="47.3" r="2.35"/><circle cx="69.5" cy="42.6" r="2.35"/><circle cx="111.2" cy="67" r="2.35"/><circle cx="111.7" cy="70.8" r="2.35"/><circle cx="115.5" cy="70.8" r="2.35"/><circle cx="126.3" cy="70.2" r="2.35"/><circle cx="118.7" cy="75.6" r="2.35"/><circle cx="121.4" cy="76.2" r="2.35"/><circle cx="124.6" cy="73.5" r="2.35"/><circle cx="126.8" cy="76.7" r="2.35"/><circle cx="130.6" cy="74" r="2.35"/><circle cx="125.2" cy="79.4" r="2.35"/><circle cx="127.9" cy="81" r="2.35"/><circle cx="131.6" cy="78.3" r="2.35"/><circle cx="133.8" cy="79.9" r="2.35"/><circle cx="137.1" cy="74.2" r="2.35"/><circle cx="140.1" cy="70.8" r="2.35"/><circle cx="140.6" cy="73.5" r="2.35"/><circle cx="141.3" cy="75.6" r="2.35"/><circle cx="139.2" cy="80.2" r="2.35"/><circle cx="133.3" cy="84.8" r="2.35"/><circle cx="136.8" cy="86.8" r="2.35"/><circle cx="138.7" cy="84" r="2.35"/><circle cx="143.3" cy="84.8" r="2.35"/><circle cx="148.5" cy="69.8" r="2.35"/><circle cx="146.3" cy="74.5" r="2.35"/><circle cx="149" cy="74.2" r="2.35"/><circle cx="154.4" cy="76.6" r="2.35"/><circle cx="157.1" cy="79.5" r="2.35"/><circle cx="152.2" cy="81.4" r="2.35"/><circle cx="170" cy="79.5" r="2.35"/><circle cx="166.3" cy="81.7" r="2.35"/><circle cx="162.5" cy="83.5" r="2.35"/><circle cx="136.1" cy="79" r="2.35"/><circle cx="149" cy="84.6" r="2.35"/><circle cx="146.3" cy="88.5" r="2.35"/><circle cx="158.2" cy="87.6" r="2.35"/><circle cx="162.8" cy="87.4" r="2.35"/><circle cx="165.7" cy="90.6" r="2.35"/><circle cx="167.9" cy="93.2" r="2.35"/><circle cx="169.5" cy="95.9" r="2.35"/><circle cx="147.9" cy="92.9" r="2.35"/><circle cx="152.8" cy="93.4" r="2.35"/><circle cx="154.4" cy="90.3" r="2.35"/><circle cx="155.5" cy="95.5" r="2.35"/><circle cx="158.2" cy="93.3" r="2.35"/><circle cx="152.2" cy="97" r="2.35"/><circle cx="157.6" cy="97.3" r="2.35"/><circle cx="161.7" cy="99.2" r="2.35"/><circle cx="177.6" cy="96.3" r="2.35"/><circle cx="154.9" cy="99" r="2.35"/><circle cx="158.2" cy="102.8" r="2.35"/><circle cx="160.9" cy="104.4" r="2.35"/><circle cx="162.5" cy="106.5" r="2.35"/><circle cx="165.2" cy="102.2" r="2.35"/><circle cx="172.2" cy="107.6" r="2.35"/><circle cx="174.7" cy="108.7" r="2.35"/><circle cx="183.7" cy="113.4" r="2.35"/><circle cx="184.7" cy="119.1" r="2.35"/><circle cx="202.1" cy="70.3" r="2.35"/><circle cx="207.5" cy="80.4" r="2.35"/><circle cx="191.8" cy="95.7" r="2.35"/><circle cx="195.1" cy="98.8" r="2.35"/><circle cx="217.1" cy="98" r="2.35"/><circle cx="219.7" cy="100.2" r="2.35"/><circle cx="214.6" cy="102.8" r="2.35"/><circle cx="211.6" cy="113" r="2.35"/><circle cx="209.7" cy="115.5" r="2.35"/><circle cx="192.7" cy="121.8" r="2.35"/><circle cx="197.7" cy="124" r="2.35"/><circle cx="189.4" cy="125.5" r="2.35"/><circle cx="193.9" cy="124.9" r="2.35"/><circle cx="196.4" cy="127.7" r="2.35"/><circle cx="209.9" cy="128" r="2.35"/><circle cx="208.3" cy="129.9" r="2.35"/><circle cx="228.1" cy="51.8" r="2.35"/></g>
</g>
<rect x="458.5" y="15.3" width="208.8" height="116" fill="none" stroke="#3c3c3c" stroke-width="1"/>
<line x1="511.3" y1="131.3" x2="511.3" y2="133.3" stroke="#3c3c3c" stroke-width="0.8"/>
<text x="511.3" y="141.6" font-size="9.2" text-anchor="middle" font-family="Liberation Sans, sans-serif" fill="#1a1a1a">−71</text>
<line x1="615.8" y1="131.3" x2="615.8" y2="133.3" stroke="#3c3c3c" stroke-width="0.8"/>
<text x="615.8" y="141.6" font-size="9.2" text-anchor="middle" font-family="Liberation Sans, sans-serif" fill="#1a1a1a">−70</text>
<line x1="456.7" y1="32.4" x2="458.5" y2="32.4" stroke="#3c3c3c" stroke-width="0.8"/>
<line x1="456.7" y1="65.5" x2="458.5" y2="65.5" stroke="#3c3c3c" stroke-width="0.8"/>
<line x1="456.7" y1="98.6" x2="458.5" y2="98.6" stroke="#3c3c3c" stroke-width="0.8"/>
<line x1="456.7" y1="131.7" x2="458.5" y2="131.7" stroke="#3c3c3c" stroke-width="0.8"/>
<text x="462.7" y="28.1" font-size="12.2" font-family="Liberation Sans, sans-serif" fill="#1a1a1a">c)</text>
<clipPath id="clipp10"><rect x="28" y="148" width="208.2" height="115.1"/></clipPath>
<clipPath id="clipp10b"><rect x="28" y="15.8" width="208.2" height="115.1"/></clipPath>
<g clip-path="url(#clipp10)"><g transform="translate(0,132.2)">
<clipPath id="cuf10"><path d="M28.9,34.6 L43.0,34.8 L60.0,32.6 L132.0,26.0 L165.4,24.4 L169.7,21.9 L236.2,21.4 L236.2,128.8 L185.2,128.8 L175.0,121.0 L156.2,108.4 L137.5,96.2 L118.8,85.0 L100.8,75.0 L88.5,69.0 L76.2,62.8 L63.9,58.3 L51.6,54.8 L39.3,51.8 L27.5,49.7 L28.9,49.7 Z"/></clipPath><clipPath id="clf10"><path d="M28.9,49.7 L27.5,49.7 L39.3,51.8 L51.6,54.8 L63.9,58.3 L76.2,62.8 L88.5,69.0 L100.8,75.0 L118.8,85.0 L137.5,96.2 L156.2,108.4 L175.0,121.0 L185.2,128.8 L28.9,128.8 Z"/></clipPath><g clip-path="url(#cuf10)"><rect x="20" y="10" width="225" height="126" fill="#fff"/><g filter="url(#bf)"><path d="M111.5,89.5 105.5,89.8 99.5,89.6 93.0,89.0 86.5,87.9 80.0,86.4 74.5,84.7 69.0,82.7 63.0,80.0 57.0,76.6 51.9,73.0 48.0,69.5 41.8,63.0 38.5,60.4 34.9,58.5 30.0,56.4 25.5,54.9 20.0,53.4 20.0,43.5 43.5,41.5 58.5,39.2 90.0,36.6 101.0,36.2 111.5,36.6 117.0,37.6 123.0,39.9 125.0,40.3 126.5,39.9 130.5,36.9 132.0,36.3 134.0,35.9 155.0,35.7 158.5,36.0 160.0,36.5 160.8,37.5 160.6,39.0 159.5,40.5 158.0,41.5 153.6,43.5 142.5,46.8 140.3,48.0 139.4,49.0 139.1,50.0 139.5,51.5 143.1,57.0 144.7,60.5 145.7,64.0 145.9,66.0 145.7,66.5 145.5,66.5 145.2,66.0 141.8,63.5 140.0,61.6 139.0,61.1 137.5,60.8 135.0,61.2 130.0,63.1 125.0,65.4 123.5,67.0 117.8,72.0 116.9,72.5 116.2,73.5 116.0,74.5 116.1,75.5 115.3,78.5 115.2,80.0 114.5,82.5 114.4,84.5 113.6,86.5 113.3,88.5 113.0,89.4 111.5,89.5ZM181.0,123.1 177.5,123.3 174.0,123.1 170.5,122.7 166.5,121.8 164.7,121.0 163.0,119.1 159.7,117.0 159.4,116.5 159.1,115.5 159.3,115.0 160.7,113.5 161.2,112.0 160.7,111.0 157.5,107.1 156.9,106.0 156.9,105.0 156.2,103.0 156.0,101.6 155.3,100.0 155.2,99.0 154.5,97.5 154.1,95.5 153.4,94.0 153.2,93.0 153.1,90.0 153.7,88.0 154.0,85.7 155.0,84.3 155.5,83.9 166.5,86.1 169.0,87.1 173.5,90.2 180.5,94.5 187.4,102.5 190.3,109.0 190.8,112.0 191.5,114.0 191.5,115.0 190.8,116.0 188.0,118.0 187.8,118.5 188.2,120.0 187.8,121.0 185.0,122.3 181.0,123.1Z" fill="#fefce8" fill-rule="evenodd"/>
<path d="M109.5,85.0 104.5,85.3 99.5,85.1 94.5,84.6 89.0,83.7 83.5,82.4 78.5,80.9 73.0,78.8 68.5,76.7 64.0,74.2 60.1,71.5 56.5,68.5 48.9,61.0 37.3,53.0 35.9,51.5 35.0,50.0 34.8,48.5 35.2,47.0 36.0,46.0 36.7,45.5 39.5,44.5 56.5,41.0 61.0,40.6 67.5,40.4 79.0,39.1 90.0,38.4 100.0,38.4 106.0,39.1 111.5,40.7 118.5,43.8 125.0,47.5 128.0,49.7 132.4,54.5 135.2,59.0 131.0,61.6 124.5,64.7 119.6,70.0 116.3,72.5 115.7,73.5 115.3,76.0 114.4,78.5 114.0,81.1 113.0,83.0 112.5,84.6 109.5,85.0ZM135.0,44.0 133.0,44.1 132.2,43.5 132.0,43.0 132.0,42.0 133.0,40.5 134.5,39.8 136.0,39.8 138.0,40.3 138.8,41.0 138.8,41.5 138.1,42.5 136.4,43.5 135.0,44.0ZM182.0,122.5 179.5,122.8 176.0,122.9 173.0,122.7 169.0,121.9 167.7,121.5 166.1,120.5 165.5,119.0 164.9,118.5 163.0,117.8 160.7,116.5 160.2,115.5 160.3,115.0 161.5,113.0 161.7,112.0 161.2,111.0 157.9,107.0 157.3,106.0 156.3,101.5 155.6,100.0 155.5,99.0 154.8,97.5 154.4,95.5 153.6,93.5 153.6,91.0 154.0,89.5 155.0,87.0 156.0,85.9 156.5,85.7 159.5,86.2 166.5,87.7 168.0,88.2 172.5,91.3 179.5,95.5 185.6,102.5 186.2,103.5 188.7,109.5 189.0,111.6 190.2,114.0 190.2,115.0 189.4,116.0 186.0,118.0 185.9,118.5 186.9,120.0 186.9,120.5 186.5,121.0 184.5,121.9 182.0,122.5Z" fill="#fdf9c6" fill-rule="evenodd"/>
<path d="M108.5,82.0 104.0,82.3 99.5,82.2 95.0,81.7 90.0,80.7 85.0,79.4 80.5,77.9 75.5,75.8 71.5,73.7 67.9,71.5 64.6,69.0 56.7,61.5 48.4,54.5 46.9,52.5 46.4,51.0 46.3,49.5 47.0,47.5 48.1,46.0 50.4,44.5 53.2,43.5 57.3,42.5 61.0,42.2 68.0,42.3 79.5,40.7 89.5,40.1 96.5,40.5 102.5,41.6 109.5,43.9 116.1,47.0 120.5,49.8 124.3,53.0 127.4,56.5 129.4,60.0 128.5,61.0 126.0,62.9 124.0,64.0 119.1,69.5 115.7,72.5 114.9,74.0 114.5,76.0 113.5,78.8 112.0,81.6 108.5,82.0ZM179.5,122.5 177.0,122.6 173.5,122.4 169.2,121.5 167.5,120.5 167.4,120.0 168.1,118.5 163.5,117.3 161.8,116.5 161.3,116.0 161.1,115.0 162.3,112.5 162.2,111.5 160.3,109.5 157.6,106.0 156.6,101.5 155.9,100.0 155.8,99.0 153.9,93.5 153.9,92.5 154.4,90.5 155.0,88.9 155.5,88.4 157.0,87.5 166.5,88.8 168.0,89.4 172.0,92.1 179.0,96.4 180.5,98.4 182.1,100.0 183.0,101.4 185.0,103.5 187.6,109.5 188.0,112.0 189.0,114.0 189.1,115.0 188.0,116.1 184.6,117.5 183.9,118.0 185.8,120.0 185.7,120.5 185.3,121.0 183.5,121.8 179.5,122.5Z" fill="#fcf68c" fill-rule="evenodd"/>
<path d="M109.0,80.1 105.0,80.4 100.5,80.4 96.0,80.0 92.0,79.2 88.0,78.2 83.5,76.7 79.4,75.0 75.5,73.0 71.6,70.5 68.5,68.0 62.1,61.5 55.4,55.5 53.9,53.5 53.4,52.0 53.4,50.5 54.1,48.5 55.2,47.0 56.4,46.0 59.0,45.0 61.0,44.8 65.5,45.5 68.0,45.5 79.0,42.7 83.5,42.2 88.0,42.0 94.5,42.4 101.5,43.8 108.0,45.9 114.0,48.7 118.2,51.5 121.6,54.5 124.4,58.0 125.9,61.0 124.2,62.5 122.4,65.0 119.0,68.8 115.1,72.5 114.3,74.0 113.5,77.0 111.6,79.5 109.0,80.1ZM181.5,122.1 179.0,122.4 176.0,122.4 173.0,122.1 170.5,121.6 169.0,121.0 168.5,120.5 168.4,120.0 168.7,119.5 170.0,118.5 169.4,118.0 164.0,117.1 161.9,116.0 161.6,115.0 162.9,112.0 162.4,111.0 160.5,109.3 158.4,106.5 157.8,106.0 156.9,101.5 156.2,100.0 155.9,98.5 154.2,93.5 154.2,92.5 155.6,89.5 157.5,88.6 166.0,89.6 167.5,90.0 171.5,92.8 178.5,97.1 179.9,99.0 181.5,100.6 182.4,102.0 184.0,103.6 186.6,109.5 187.2,112.0 188.1,114.0 188.2,115.0 187.0,116.1 183.0,117.5 182.4,118.0 184.6,119.5 185.0,120.0 185.0,120.5 184.0,121.3 181.5,122.1Z" fill="#fdf450" fill-rule="evenodd"/>
<path d="M108.5,78.5 105.0,78.9 101.5,79.0 98.0,78.7 94.0,78.1 86.5,76.0 83.0,74.6 79.5,72.9 74.3,69.5 70.0,65.5 65.0,58.9 61.4,55.0 60.7,53.5 60.8,52.0 61.1,51.5 62.0,50.9 68.0,49.7 74.5,46.7 77.5,45.6 81.5,44.6 86.5,44.1 93.0,44.2 99.5,45.2 106.0,47.2 111.5,49.7 115.5,52.2 118.8,55.0 121.3,58.0 123.1,61.5 121.7,64.5 120.3,66.5 114.5,72.4 113.6,74.0 113.0,75.9 111.5,77.9 108.5,78.5ZM180.5,122.0 176.0,122.2 171.0,121.4 169.4,120.5 169.3,120.0 169.8,119.5 171.7,118.5 171.8,118.0 164.5,116.8 163.0,116.2 162.2,115.5 162.3,114.5 163.4,112.5 163.4,112.0 162.5,110.6 160.5,108.8 158.0,105.9 157.0,101.0 156.5,100.0 156.2,98.5 155.5,97.0 155.1,95.0 154.5,93.5 154.9,92.0 156.0,90.4 158.0,89.5 166.0,90.4 167.5,90.9 171.0,93.5 178.0,97.7 179.0,99.2 180.8,101.0 181.5,102.2 183.3,104.0 185.9,110.0 186.4,112.0 187.5,114.5 187.0,115.5 186.2,116.0 181.7,117.5 180.9,118.0 181.5,118.5 183.8,119.5 184.3,120.0 184.3,120.5 183.8,121.0 182.7,121.5 180.5,122.0Z" fill="#fcf01e" fill-rule="evenodd"/>
<path d="M106.0,77.5 102.5,77.7 99.0,77.6 92.0,76.4 88.5,75.3 85.0,73.9 82.0,72.4 78.8,70.5 76.2,68.5 73.6,66.0 72.0,64.0 70.6,61.5 69.6,59.0 69.3,57.0 69.6,55.0 70.4,53.5 71.6,52.0 73.5,50.3 75.5,49.0 78.0,47.8 83.0,46.4 89.0,45.7 95.5,46.1 101.5,47.3 107.5,49.5 112.9,52.5 116.1,55.0 118.4,57.5 120.3,60.5 121.1,63.0 119.0,67.0 116.5,69.8 114.5,71.6 111.5,76.3 109.0,77.1 106.0,77.5ZM178.5,122.0 176.0,122.0 173.0,121.7 171.0,121.1 170.2,120.5 170.2,120.0 170.8,119.5 173.7,118.5 174.2,118.0 165.0,116.6 164.0,116.3 162.8,115.5 162.7,114.5 163.9,112.5 163.9,112.0 163.4,111.0 160.2,108.0 159.5,107.0 159.0,106.7 158.1,105.5 157.1,100.5 156.7,100.0 156.5,98.5 155.8,97.0 155.4,95.0 154.9,94.0 155.0,92.8 156.0,91.4 158.0,90.4 158.5,90.4 167.0,91.5 173.0,95.5 177.5,98.1 178.4,99.5 180.4,101.5 180.9,102.5 182.9,104.5 185.4,110.5 185.8,112.5 186.9,114.5 186.3,115.5 185.4,116.0 180.5,117.5 179.7,118.0 180.3,118.5 182.5,119.3 183.5,120.0 183.6,120.5 183.1,121.0 181.0,121.7 178.5,122.0Z" fill="#fdd400" fill-rule="evenodd"/>
<path d="M104.5,76.5 101.5,76.6 98.0,76.4 94.5,75.8 91.0,74.9 87.5,73.6 84.5,72.3 79.5,69.1 77.1,67.0 75.3,65.0 74.0,63.0 73.1,61.0 72.6,59.0 72.7,57.0 73.2,55.0 74.1,53.5 75.4,52.0 77.0,50.7 81.0,48.7 85.5,47.6 91.0,47.2 97.0,47.7 102.5,49.0 108.0,51.3 112.5,54.0 115.4,56.5 117.4,59.0 119.0,62.0 119.5,64.0 119.3,64.5 117.7,67.5 116.0,69.5 113.9,71.5 111.0,75.2 108.0,76.0 104.5,76.5ZM179.0,117.6 177.0,117.9 167.0,116.8 164.5,116.2 163.4,115.5 163.1,115.0 163.1,114.5 164.6,112.5 164.7,112.0 164.5,111.5 160.5,107.5 159.1,106.5 158.4,105.5 157.3,100.5 156.9,100.0 156.5,97.5 156.1,97.0 155.8,95.0 155.2,94.0 155.4,93.0 156.2,92.0 158.5,91.2 166.5,91.9 177.5,98.9 178.0,99.9 180.0,101.9 180.6,103.0 182.6,105.0 184.8,110.5 185.2,112.5 186.2,114.5 186.1,115.0 185.6,115.5 184.6,116.0 179.0,117.6ZM180.5,121.6 177.0,121.9 173.5,121.6 171.6,121.0 170.9,120.5 171.0,120.0 172.0,119.4 174.0,118.8 178.0,118.3 181.5,119.3 182.8,120.0 182.9,120.5 182.4,121.0 180.5,121.6Z" fill="#fda400" fill-rule="evenodd"/>
<path d="M106.5,75.0 103.5,75.4 100.5,75.4 94.5,74.6 88.5,72.7 85.5,71.2 82.7,69.5 80.7,68.0 78.7,66.0 77.2,64.0 76.1,62.0 75.6,60.0 75.5,58.0 75.9,56.0 76.7,54.5 78.0,53.0 79.2,52.0 82.5,50.3 86.5,49.1 91.5,48.7 96.5,49.1 101.5,50.2 106.5,52.1 110.5,54.4 113.5,56.9 115.6,59.5 117.1,62.5 117.5,65.5 117.1,66.5 115.7,68.5 111.0,73.7 106.5,75.0ZM179.5,117.1 177.0,117.3 169.5,116.8 166.0,116.3 164.1,115.5 163.8,115.0 163.7,114.5 165.1,113.0 165.6,112.0 165.0,111.0 162.5,109.0 161.5,107.9 160.0,107.0 158.6,105.0 157.7,101.0 157.0,99.6 156.8,97.5 156.3,97.0 156.1,94.5 155.6,94.0 156.0,93.2 157.0,92.4 159.0,91.9 166.5,92.6 170.0,95.1 171.5,95.9 172.5,96.7 174.0,97.4 175.0,98.3 176.5,98.9 177.0,99.4 177.5,100.4 179.5,102.4 180.0,103.4 182.1,105.5 182.2,106.5 183.1,108.0 183.2,109.0 184.3,111.0 184.4,112.5 185.4,114.5 185.3,115.0 184.5,115.6 182.5,116.3 179.5,117.1ZM179.5,121.5 177.0,121.7 174.7,121.5 172.6,121.0 171.8,120.5 172.0,120.0 173.0,119.5 177.0,118.8 180.0,119.2 181.9,120.0 182.1,120.5 181.5,121.0 179.5,121.5Z" fill="#f96c00" fill-rule="evenodd"/>
<path d="M104.0,74.0 98.5,74.0 93.0,72.9 88.0,71.0 83.5,68.2 80.3,65.0 79.4,63.5 78.5,61.5 78.1,59.5 78.2,58.0 78.7,56.5 79.6,55.0 81.8,53.0 85.0,51.4 89.0,50.5 93.5,50.3 98.0,50.8 102.5,52.0 106.5,53.7 110.0,56.0 112.7,58.5 114.6,61.5 115.4,64.5 115.1,67.0 114.6,68.0 111.0,71.9 108.0,73.2 104.0,74.0ZM180.5,116.5 177.5,117.0 172.0,116.8 167.0,116.2 164.9,115.5 164.5,115.0 164.5,114.5 165.0,113.8 166.7,112.5 167.1,112.0 167.0,111.5 164.5,109.5 164.0,109.5 163.5,108.9 163.0,108.9 162.5,108.3 162.0,108.1 159.0,105.0 158.1,100.5 157.5,99.5 157.2,97.5 156.7,96.5 156.4,94.5 156.0,93.9 159.0,92.8 166.0,93.3 167.0,94.1 168.6,95.0 169.5,96.0 170.0,96.0 170.5,96.5 171.0,96.5 172.0,97.5 172.5,97.5 173.0,98.1 173.5,98.1 174.5,99.1 175.0,99.1 175.5,99.6 176.0,99.6 176.4,100.0 176.4,100.5 178.9,103.0 178.9,103.5 181.4,106.0 181.4,107.0 182.4,108.5 182.4,109.5 183.5,111.0 183.3,111.5 183.0,111.8 182.5,111.9 182.5,112.2 184.5,114.5 184.3,115.0 183.6,115.5 180.5,116.5ZM180.0,121.1 178.0,121.4 176.0,121.4 173.8,121.0 173.0,120.5 173.2,120.0 174.6,119.5 178.5,119.3 180.9,120.0 181.1,120.5 180.0,121.1Z" fill="#f23400" fill-rule="evenodd"/>
<path d="M105.5,72.5 103.0,72.9 100.5,73.0 95.5,72.4 90.5,70.8 86.3,68.5 82.9,65.5 81.8,64.0 80.8,62.0 80.5,60.5 80.5,59.0 80.8,57.5 81.7,56.0 83.5,54.2 86.0,52.9 89.5,51.9 93.0,51.6 97.0,51.9 101.0,52.8 104.5,54.2 107.7,56.0 110.1,58.0 112.2,60.5 113.3,63.0 113.5,65.5 112.7,68.0 111.0,70.0 108.5,71.5 105.5,72.5ZM179.0,116.6 175.0,116.7 170.0,116.4 166.5,115.7 165.2,115.0 165.2,114.5 165.6,114.0 167.5,112.9 169.6,112.5 170.2,112.0 170.2,111.5 170.0,111.2 168.0,111.3 167.5,110.7 167.0,110.7 166.5,110.2 166.0,110.2 164.5,109.1 164.0,109.0 163.0,108.3 159.8,105.0 157.7,97.5 157.1,96.0 156.9,94.5 157.1,94.0 159.5,93.5 166.0,93.8 167.0,94.9 167.5,94.9 168.0,95.4 168.5,95.4 169.5,96.4 170.0,96.4 170.5,97.0 171.0,97.0 172.0,98.0 172.5,98.0 173.0,98.5 173.5,98.5 174.5,99.5 175.0,99.5 178.4,103.0 178.5,103.6 180.9,106.0 181.0,107.0 181.9,108.5 182.0,109.5 183.1,111.0 182.0,111.1 181.5,111.8 181.0,111.8 181.0,112.3 182.5,113.5 183.3,114.5 183.2,115.0 182.5,115.5 179.0,116.6ZM178.5,121.0 176.0,121.0 174.3,120.5 174.6,120.0 177.5,119.6 179.7,120.0 180.0,120.5 178.5,121.0Z" fill="#e60800" fill-rule="evenodd"/>
<path d="M104.0,71.0 100.0,71.4 96.0,70.9 91.7,69.5 88.1,67.5 85.3,65.0 84.3,63.5 83.6,62.0 83.4,59.5 83.9,58.0 84.5,57.0 86.1,55.5 88.5,54.3 91.5,53.6 94.5,53.4 98.0,53.8 101.0,54.6 104.0,55.9 106.5,57.4 108.8,59.5 110.2,61.5 110.9,63.5 110.9,65.5 110.1,67.5 108.7,69.0 106.5,70.3 104.0,71.0ZM179.5,116.1 177.0,116.4 172.0,116.2 169.0,115.8 167.6,115.5 166.6,115.0 166.5,114.5 167.2,114.0 170.0,113.1 173.0,112.6 175.0,112.6 175.8,111.5 175.6,111.0 174.0,110.8 173.0,110.3 171.5,110.3 170.5,109.8 168.5,109.7 164.6,108.0 162.0,106.1 160.4,104.5 160.2,104.0 159.3,100.0 158.8,99.0 158.5,97.5 157.9,96.0 157.8,95.5 158.0,95.0 160.0,94.4 165.5,95.0 168.5,97.3 174.5,101.1 179.3,106.5 180.6,109.5 180.7,110.0 180.5,110.2 179.0,110.9 178.6,111.5 179.5,112.9 181.0,113.4 181.7,114.0 182.0,114.5 181.9,115.0 181.2,115.5 179.5,116.1Z" fill="#c80000" fill-rule="evenodd"/>
<path d="M102.5,69.6 99.5,69.8 96.0,69.3 92.5,68.1 89.8,66.5 87.6,64.5 86.3,62.0 86.2,60.0 87.1,58.0 88.1,57.0 90.0,56.0 92.5,55.3 95.0,55.2 97.9,55.5 100.5,56.2 103.0,57.3 104.9,58.5 106.6,60.0 107.7,61.5 108.4,63.5 108.4,65.0 107.8,66.5 106.5,67.9 104.5,69.0 102.5,69.6ZM168.0,107.5 167.1,107.5 164.5,106.5 162.6,105.0 160.4,100.0 159.5,98.5 159.2,96.5 159.5,96.1 160.5,95.8 164.5,96.2 166.6,97.5 167.6,98.5 168.0,99.0 168.0,107.5ZM177.0,116.0 172.5,115.9 170.0,115.6 168.5,115.0 168.5,114.5 170.5,113.7 175.5,113.0 177.5,113.1 178.0,112.7 178.5,113.2 180.2,114.0 180.6,114.5 180.5,115.0 179.7,115.5 177.0,116.0Z" fill="#a30000" fill-rule="evenodd"/>
<path d="M244.5,135.5 20.0,135.5 20.0,70.8 23.5,74.7 27.7,78.5 32.5,82.3 37.5,85.7 43.5,89.2 49.5,92.2 56.5,95.2 63.0,97.6 70.0,99.8 77.0,101.6 84.5,103.2 91.5,104.3 99.0,105.1 106.5,105.6 114.0,105.6 121.0,105.3 128.0,104.5 127.5,104.4 125.7,102.5 123.5,100.9 119.7,97.5 116.5,94.5 115.5,93.0 115.1,91.5 115.5,88.0 115.3,86.5 115.8,84.0 115.7,82.5 116.5,79.5 116.2,78.5 116.7,75.5 116.6,74.5 116.8,73.5 120.0,70.9 125.5,66.0 127.0,65.7 128.0,65.1 129.5,64.9 130.5,64.2 135.5,62.4 137.5,62.4 139.0,63.3 140.0,64.7 142.7,67.0 143.9,68.5 147.2,71.5 148.5,74.2 153.1,81.0 153.2,81.5 152.7,83.0 152.8,85.0 152.4,89.0 152.7,93.0 154.9,99.5 155.0,100.5 155.8,102.0 155.8,103.0 156.2,103.5 156.3,104.5 156.7,105.0 156.7,106.0 157.1,106.5 157.3,107.5 157.9,108.0 160.7,112.0 160.5,112.9 160.0,113.6 157.8,114.5 156.8,115.5 156.5,116.5 155.9,117.0 156.3,118.0 156.0,119.0 162.3,122.0 165.0,122.8 176.5,124.1 179.0,124.1 182.0,123.8 188.0,122.2 189.5,121.5 190.5,120.5 190.6,118.5 190.9,118.0 193.4,116.0 194.1,115.0 194.1,114.0 193.5,112.0 192.9,108.5 189.2,101.0 182.0,92.9 169.5,85.0 158.3,81.0 159.0,74.5 159.0,68.5 158.3,61.0 156.5,51.5 156.5,50.0 157.1,48.5 158.5,47.0 162.5,44.2 164.3,42.5 165.3,41.0 166.4,38.5 167.8,33.0 169.2,31.5 171.0,30.8 173.5,30.6 181.5,30.5 218.5,30.8 226.0,30.3 244.5,30.3 244.5,135.5Z" fill="#f0f7fc" fill-rule="evenodd"/>
<path d="M193.5,102.1 193.4,101.5 193.0,101.4 191.2,99.0 188.8,97.0 184.5,92.3 183.0,91.0 170.6,83.0 168.5,82.0 165.6,81.0 165.9,74.0 165.8,68.0 165.2,61.5 163.8,52.5 163.8,50.0 164.1,49.0 164.9,47.5 168.0,43.9 170.0,42.0 171.5,41.2 173.5,40.8 177.5,40.7 181.5,40.7 184.5,41.0 186.5,41.6 188.0,42.3 189.0,43.2 190.0,44.5 191.3,47.5 192.3,52.0 192.8,56.5 193.5,67.8 194.5,77.7 195.0,80.4 195.5,81.8 196.0,82.2 196.7,80.5 197.3,76.5 198.5,57.0 198.8,55.0 199.7,53.0 201.3,51.5 203.0,50.7 205.5,50.2 208.5,50.1 211.0,50.3 213.0,51.0 214.4,52.0 215.3,53.5 215.7,55.5 215.9,58.5 216.0,82.5 215.7,87.5 215.0,90.0 214.0,91.3 212.5,92.2 210.5,92.7 207.0,92.9 204.0,92.8 201.5,92.3 199.6,91.5 197.0,89.7 196.5,89.5 196.0,89.7 195.0,91.6 194.1,95.0 193.7,98.0 193.5,102.1ZM151.0,117.2 149.0,117.2 147.0,116.3 132.5,105.4 127.1,101.0 125.0,99.6 120.0,95.4 117.5,93.5 116.5,92.3 116.1,90.5 116.4,88.0 116.2,86.5 116.7,83.5 116.6,82.5 117.0,79.5 116.7,78.0 117.2,75.0 117.0,74.0 117.5,73.3 120.5,71.1 125.5,66.5 127.0,66.2 128.0,65.7 129.5,65.4 130.5,64.9 132.0,64.7 133.0,64.1 134.5,64.0 135.5,63.4 136.5,63.3 137.5,63.5 138.2,64.0 139.4,65.5 142.0,67.7 143.0,69.0 146.3,72.0 147.0,73.7 151.5,81.5 152.3,93.0 152.8,94.5 153.5,96.0 153.5,97.0 154.8,99.5 154.8,100.5 155.6,102.0 155.6,103.0 156.0,103.5 156.2,104.5 156.5,105.0 156.5,106.0 157.1,107.5 157.7,108.0 158.0,109.0 158.6,109.5 160.2,112.0 160.0,113.0 159.5,113.5 155.9,114.5 154.5,115.7 151.0,117.2Z" fill="#d9eef9" fill-rule="evenodd"/>
<path d="M150.0,116.1 149.0,116.0 147.8,115.5 142.5,111.4 140.0,109.8 125.1,98.5 120.5,94.5 118.0,92.6 117.2,91.5 117.0,90.5 117.4,87.5 117.1,86.5 117.4,83.5 117.1,82.0 117.4,79.5 117.2,78.0 117.7,75.0 117.5,74.0 120.5,71.7 121.6,70.5 124.5,68.2 125.5,67.0 127.5,66.6 128.0,66.2 129.5,65.9 130.5,65.4 132.0,65.2 133.0,64.7 134.5,64.5 135.5,64.0 137.0,64.1 137.6,64.5 138.5,65.8 141.4,68.5 142.0,69.5 145.4,72.5 146.3,74.5 150.7,82.0 151.0,85.5 151.6,88.5 152.0,93.5 152.4,94.0 152.9,95.5 153.3,96.0 153.3,97.0 154.6,99.5 154.6,100.5 155.4,102.0 155.5,103.0 156.4,106.5 157.0,107.7 157.5,108.0 157.8,109.0 158.3,109.5 158.5,110.4 159.8,112.0 159.5,112.9 159.0,113.2 153.6,114.5 150.0,116.1Z" fill="#b9e0f5" fill-rule="evenodd"/>
<path d="M150.5,114.5 149.0,114.9 148.0,114.5 126.0,97.9 123.0,95.2 122.0,94.6 121.0,93.5 118.5,91.8 117.9,91.0 117.7,90.0 117.9,87.5 117.6,86.0 117.8,83.5 117.6,82.0 118.0,79.0 117.7,78.0 118.1,74.5 117.7,74.0 118.0,73.7 118.5,73.7 120.0,72.2 120.5,72.1 122.0,70.6 122.5,70.6 124.0,69.0 124.5,69.0 126.0,67.3 127.5,67.1 128.5,66.5 130.0,66.4 130.5,66.0 132.5,65.6 133.0,65.2 134.5,65.0 135.5,64.5 136.5,64.4 137.0,64.7 137.9,66.0 141.0,68.8 141.8,70.0 144.9,73.0 145.7,75.0 149.9,82.5 149.9,83.5 151.2,88.5 151.1,89.5 151.5,92.0 151.8,92.5 151.8,93.5 152.2,94.0 152.7,95.5 153.1,96.0 153.1,97.0 153.5,97.5 153.6,98.0 154.0,98.5 156.1,106.5 157.6,109.0 158.1,109.5 158.3,110.5 159.5,112.0 159.0,112.7 150.5,114.5Z" fill="#8fcdef" fill-rule="evenodd"/>
<path d="M150.0,114.0 149.0,113.9 147.5,112.8 146.5,112.4 143.5,109.9 141.0,108.3 136.0,104.3 133.5,102.8 128.5,98.7 126.0,97.1 118.5,91.0 118.2,90.0 118.4,87.5 118.1,86.0 118.4,83.0 118.0,82.0 118.5,78.5 118.1,78.0 118.4,74.5 117.9,74.0 118.5,73.9 120.0,72.4 120.5,72.4 122.0,70.8 122.5,70.8 124.0,69.3 124.5,69.2 126.0,67.7 128.0,67.5 128.5,67.0 130.0,66.9 131.0,66.3 132.5,66.2 133.5,65.6 135.0,65.5 136.0,64.9 136.5,65.0 137.5,66.3 140.5,69.0 141.0,70.0 144.3,73.0 144.9,74.5 149.3,82.5 150.7,88.5 150.9,91.0 151.6,92.5 151.6,93.5 152.8,96.0 153.0,97.4 154.9,102.5 155.8,106.5 156.5,108.0 159.2,112.0 159.0,112.3 150.0,114.0Z" fill="#5ea8e6" fill-rule="evenodd"/>
<path d="M151.5,113.1 149.5,113.4 148.0,112.2 147.0,111.9 146.0,111.0 145.0,110.5 144.0,109.5 141.5,108.0 138.5,105.5 137.5,105.0 136.5,103.9 134.0,102.4 131.0,99.8 130.0,99.3 129.0,98.3 126.5,96.7 123.5,94.1 122.5,93.5 121.6,92.5 119.0,90.7 118.8,90.0 119.0,87.0 118.6,86.0 119.0,82.5 118.5,82.0 118.8,78.5 118.3,78.0 118.7,74.5 120.0,73.1 122.8,71.0 124.0,69.6 124.5,69.5 126.0,67.9 128.0,67.8 128.5,67.3 130.5,67.2 131.0,66.7 133.0,66.6 133.5,66.1 135.5,66.0 136.0,65.5 136.5,65.9 136.7,66.5 140.1,69.5 140.7,70.5 143.9,73.5 144.1,74.5 148.9,83.0 148.9,84.0 149.7,86.5 150.0,88.5 150.4,89.0 150.3,90.0 151.1,91.5 151.4,94.0 152.5,96.5 152.6,97.5 153.4,99.0 153.9,101.0 154.5,102.5 155.5,106.5 156.1,108.0 158.5,111.7 158.9,112.0 153.7,112.5 151.5,113.1Z" fill="#2f74dc" fill-rule="evenodd"/>
<path d="M150.5,112.6 149.5,112.6 148.5,111.7 147.5,111.4 146.5,110.5 145.5,110.1 144.0,108.8 141.8,107.5 138.9,105.0 137.9,104.5 136.9,103.5 134.5,102.0 131.5,99.5 130.5,98.9 129.5,97.9 127.0,96.3 124.0,93.7 123.0,93.1 122.0,92.1 119.5,90.3 119.6,86.5 119.1,86.0 119.3,82.5 118.8,82.0 119.1,78.5 118.8,77.5 119.2,74.5 120.1,73.5 123.0,71.4 126.5,68.3 128.0,68.2 129.0,67.6 130.5,67.5 131.0,67.0 133.0,66.9 133.5,66.4 135.5,66.3 136.0,65.8 136.2,66.0 136.2,66.5 139.9,70.0 139.9,70.5 143.5,74.0 143.5,75.0 144.0,75.4 144.1,76.0 144.5,76.3 148.2,83.0 149.0,86.5 149.4,87.0 149.3,87.5 150.1,89.0 150.1,90.0 150.4,90.5 151.0,94.0 152.1,96.5 152.2,97.5 154.1,102.5 155.1,106.5 155.7,108.0 158.0,111.5 156.2,112.0 150.5,112.6Z" fill="#1040d8" fill-rule="evenodd"/>
<path d="M152.0,112.0 150.0,112.3 148.5,110.8 148.0,110.9 146.5,109.4 146.0,109.5 144.5,108.1 143.9,108.0 143.0,107.1 142.4,107.0 141.0,105.6 140.4,105.5 139.0,104.0 138.5,104.0 137.0,102.5 136.5,102.5 135.5,101.5 135.0,101.5 133.5,100.0 133.0,100.0 131.5,98.5 131.0,98.5 129.5,96.9 129.0,96.9 128.0,95.9 127.5,95.9 126.0,94.4 125.5,94.4 124.0,92.8 123.5,92.8 122.0,91.3 121.5,91.3 120.5,90.2 120.0,90.2 119.8,90.0 119.9,86.5 119.4,86.0 119.7,82.5 119.3,81.5 119.7,78.5 119.4,77.5 119.6,75.0 120.5,73.9 123.5,71.7 126.5,69.0 128.5,68.6 129.0,68.2 130.5,68.0 131.5,67.5 133.0,67.3 134.0,66.8 135.5,66.7 136.0,66.9 138.5,69.0 139.5,70.0 139.5,70.5 143.2,74.0 143.2,75.0 143.7,75.5 143.7,76.0 144.2,76.5 144.2,77.0 144.7,77.5 144.7,78.0 145.3,78.5 145.3,79.0 145.8,79.5 145.8,80.0 146.3,80.5 146.3,81.0 146.8,81.5 146.8,82.0 147.9,83.5 147.8,84.5 148.3,85.0 148.2,85.5 148.7,86.0 148.7,86.5 149.1,87.0 149.1,87.5 149.4,88.0 149.7,90.5 150.6,94.0 153.5,102.0 154.9,107.0 155.5,108.5 156.8,110.5 156.6,111.0 152.0,112.0Z" fill="#0008d8" fill-rule="evenodd"/>
<path d="M150.5,111.5 149.0,110.4 148.0,110.2 146.5,109.0 146.0,109.1 144.5,107.6 144.0,107.6 143.0,106.6 142.5,106.6 141.0,105.1 140.5,105.1 139.0,103.6 138.5,103.6 137.0,102.1 136.5,102.1 135.5,101.1 135.0,101.1 133.5,99.6 133.0,99.6 131.5,98.1 131.0,98.1 129.5,96.5 129.0,96.5 128.0,95.5 127.5,95.5 126.1,94.0 125.5,93.9 124.3,92.5 123.5,92.1 122.5,91.0 120.3,89.5 120.5,86.5 120.1,85.5 120.4,82.5 120.1,81.0 120.4,78.5 120.1,77.0 120.3,75.0 127.0,69.6 128.5,69.4 129.5,68.9 131.0,68.7 132.0,68.2 133.5,68.0 134.5,67.5 135.5,67.5 138.5,70.2 139.0,71.1 142.6,74.5 142.7,75.5 147.3,83.5 150.2,94.5 153.3,103.0 154.3,107.0 155.6,110.0 154.0,110.7 150.5,111.5Z" fill="#0000b4" fill-rule="evenodd"/>
<path d="M152.0,110.1 151.0,110.3 149.5,109.4 148.5,109.2 147.5,108.3 146.4,108.0 143.0,105.8 139.6,103.0 138.6,102.5 137.7,101.5 135.5,100.2 134.2,99.0 133.3,98.5 130.4,96.0 128.0,94.5 127.0,93.4 126.0,92.9 125.0,91.8 124.0,91.3 123.0,90.2 122.0,89.6 121.4,89.0 121.4,86.0 121.0,85.0 121.3,82.5 120.9,81.0 121.2,78.0 121.0,76.2 123.2,74.5 125.5,72.0 127.2,70.5 135.0,68.3 137.5,70.6 138.5,71.9 141.5,74.7 142.0,76.0 146.4,84.0 148.0,89.0 149.4,94.5 150.5,97.0 151.9,102.5 152.7,107.5 153.8,109.5 152.0,110.1Z" fill="#00008c" fill-rule="evenodd"/></g></g><g clip-path="url(#clf10)"><rect x="20" y="10" width="225" height="126" fill="#fff"/><g filter="url(#bf)"><path d="M111.0,84.1 109.0,84.1 102.0,82.9 98.0,83.4 95.0,83.2 58.5,79.6 27.0,78.0 20.0,78.0 20.0,40.6 25.5,41.3 59.5,48.3 64.3,50.0 89.0,60.0 92.5,62.0 101.0,67.6 104.5,70.9 105.2,72.0 105.7,75.0 106.3,76.5 107.4,78.0 110.0,80.5 111.6,82.5 111.6,83.5 111.0,84.1ZM176.0,120.0 172.0,119.4 168.5,118.2 165.0,116.3 164.1,115.5 163.6,114.5 164.0,114.0 164.5,113.9 166.5,114.0 168.5,114.4 172.5,115.8 174.9,117.0 176.8,118.5 177.2,119.5 176.0,120.0ZM182.5,129.1 178.5,129.5 175.0,129.2 172.7,128.5 172.1,128.0 172.2,127.5 172.8,127.0 174.0,126.6 178.0,126.1 182.5,126.5 184.2,127.0 184.9,127.5 185.0,128.0 184.4,128.5 182.5,129.1Z" fill="#fefce8" fill-rule="evenodd"/>
<path d="M111.0,83.7 110.5,83.9 108.5,83.8 100.5,82.2 95.0,82.0 58.5,78.4 27.0,76.8 20.0,76.7 20.0,41.8 25.0,42.5 59.3,49.5 63.5,51.0 88.0,60.9 92.6,63.5 100.1,68.5 101.3,69.5 103.8,72.5 104.3,74.5 105.2,76.0 109.8,80.5 111.0,82.0 111.4,83.0 111.0,83.7ZM176.0,119.0 175.5,119.4 174.0,119.4 169.5,118.3 165.1,116.0 164.3,115.0 164.4,114.5 165.5,114.3 167.0,114.4 170.5,115.3 174.9,117.5 175.9,118.5 176.0,119.0ZM181.0,129.0 178.0,129.2 175.0,128.9 173.5,128.4 172.9,128.0 173.0,127.5 175.0,126.7 178.0,126.4 181.5,126.7 182.9,127.0 183.8,127.5 183.8,128.0 183.1,128.5 181.0,129.0Z" fill="#fdf9c6" fill-rule="evenodd"/>
<path d="M110.5,83.6 108.0,83.4 93.5,80.1 80.0,78.9 60.5,76.7 27.0,75.0 20.0,74.9 20.0,43.7 25.7,44.5 57.8,51.0 62.4,52.5 86.1,62.0 90.0,64.0 99.1,70.0 101.7,73.5 109.6,80.5 111.0,82.5 111.1,83.0 110.5,83.6ZM174.5,118.8 172.5,118.8 169.5,118.0 166.4,116.5 165.2,115.5 165.1,115.0 166.0,114.7 167.5,114.8 171.0,115.8 174.1,117.5 174.9,118.5 174.5,118.8ZM181.5,128.6 179.0,128.9 177.0,128.9 174.8,128.5 173.8,128.0 173.9,127.5 175.1,127.0 177.5,126.7 179.5,126.7 181.5,127.0 182.7,127.5 182.8,128.0 181.5,128.6Z" fill="#fcf68c" fill-rule="evenodd"/>
<path d="M83.5,77.0 80.0,77.2 75.0,76.8 69.5,75.8 64.0,74.3 60.0,72.7 56.5,70.8 54.5,69.0 54.2,68.0 54.4,67.5 55.5,66.7 57.0,66.4 61.5,66.3 68.0,67.3 75.0,69.2 81.0,71.7 84.6,74.0 85.4,75.0 85.5,76.0 85.0,76.5 83.5,77.0ZM110.5,83.3 108.5,83.3 105.5,82.7 100.5,81.3 96.5,79.7 92.8,77.5 90.9,76.0 89.8,74.5 89.6,73.5 89.8,73.0 90.5,72.4 91.5,72.1 94.5,72.1 98.0,72.9 101.5,74.7 105.5,77.2 109.4,80.5 110.6,82.0 110.8,83.0 110.5,83.3ZM173.0,118.5 171.0,118.2 168.9,117.5 166.9,116.5 165.9,115.5 166.5,115.0 167.0,115.0 169.0,115.4 170.7,116.0 173.4,117.5 173.8,118.0 173.5,118.4 173.0,118.5ZM180.5,128.5 177.0,128.7 175.9,128.5 174.6,128.0 174.7,127.5 175.0,127.4 177.5,126.9 180.2,127.0 181.8,127.5 181.9,128.0 180.5,128.5Z" fill="#fdf450" fill-rule="evenodd"/>
<path d="M78.0,75.5 76.0,75.5 73.0,75.2 67.0,73.8 64.0,72.6 61.9,71.5 60.6,70.5 60.0,69.5 60.3,69.0 61.0,68.6 64.0,68.4 68.0,68.9 73.0,70.2 77.0,71.9 79.4,73.5 79.9,74.5 79.6,75.0 78.0,75.5ZM110.0,83.1 108.0,83.1 104.5,82.2 101.5,81.3 98.0,79.8 95.8,78.5 94.1,77.0 92.9,75.5 92.8,74.5 93.2,74.0 94.0,73.7 96.5,73.7 99.0,74.3 102.5,75.7 106.0,77.9 109.1,80.5 110.3,82.0 110.3,83.0 110.0,83.1ZM172.5,118.0 171.4,118.0 169.5,117.5 167.5,116.5 166.9,116.0 166.9,115.5 168.5,115.5 171.2,116.5 172.6,117.5 172.5,118.0ZM178.5,128.5 177.0,128.4 175.6,128.0 175.7,127.5 177.5,127.1 179.0,127.1 180.7,127.5 180.9,128.0 178.5,128.5Z" fill="#fcf01e" fill-rule="evenodd"/>
<path d="M75.0,74.0 72.0,74.0 68.1,73.0 64.9,71.5 64.1,70.5 64.7,70.0 66.5,69.9 69.0,70.2 71.9,71.0 74.3,72.0 75.6,73.0 75.8,73.5 75.0,74.0ZM110.0,82.7 109.0,83.0 106.5,82.6 103.0,81.6 99.5,80.2 97.0,78.7 95.5,77.5 94.4,76.0 94.4,75.0 95.5,74.4 97.5,74.5 100.5,75.3 103.0,76.3 106.0,78.1 108.9,80.5 110.1,82.0 110.0,82.7ZM171.0,117.4 169.2,117.0 168.3,116.5 168.0,116.0 169.0,116.0 170.3,116.5 171.1,117.0 171.0,117.4ZM179.5,128.0 178.0,128.2 176.8,128.0 177.1,127.5 178.0,127.4 179.3,127.5 179.5,128.0Z" fill="#fdd400" fill-rule="evenodd"/>
<path d="M109.5,82.6 108.0,82.7 105.5,82.2 102.5,81.3 100.0,80.1 97.4,78.5 96.3,77.5 95.6,76.5 95.5,75.5 96.5,75.0 98.0,75.0 101.0,75.8 103.5,76.8 106.0,78.3 108.7,80.5 109.8,82.0 109.5,82.6Z" fill="#fda400" fill-rule="evenodd"/>
<path d="M109.0,82.3 108.0,82.5 106.0,82.1 101.0,80.4 97.5,78.0 96.6,77.0 96.6,76.0 97.5,75.6 99.5,75.7 102.0,76.4 104.0,77.3 106.0,78.5 108.4,80.5 109.2,81.5 109.3,82.0 109.0,82.3Z" fill="#f96c00" fill-rule="evenodd"/>
<path d="M108.5,82.0 107.5,82.2 106.0,81.9 101.5,80.3 99.4,79.0 98.2,78.0 97.6,77.0 97.7,76.5 98.5,76.2 100.0,76.3 102.0,76.7 104.0,77.6 106.0,78.8 108.0,80.5 108.7,81.5 108.5,82.0Z" fill="#f23400" fill-rule="evenodd"/>
<path d="M108.0,81.6 107.0,81.8 105.5,81.6 102.0,80.3 99.4,78.5 98.6,77.5 98.7,77.0 99.5,76.7 101.0,76.8 104.0,77.9 107.2,80.0 108.0,81.0 108.0,81.6Z" fill="#e60800" fill-rule="evenodd"/>
<path d="M107.0,81.3 105.0,81.1 102.5,80.1 100.8,79.0 100.0,77.9 100.2,77.5 101.5,77.4 104.4,78.5 106.6,80.0 107.3,81.0 107.0,81.3Z" fill="#c80000" fill-rule="evenodd"/>
<path d="M106.0,80.6 105.0,80.6 103.2,80.0 101.7,79.0 101.4,78.5 102.0,78.2 103.5,78.5 105.3,79.5 105.9,80.0 106.0,80.6Z" fill="#a30000" fill-rule="evenodd"/>
<path d="M244.5,135.5 20.0,135.5 20.0,79.5 27.0,79.6 58.5,81.1 96.5,84.9 99.0,84.9 102.0,83.9 104.0,83.7 111.0,84.6 112.0,84.1 112.2,83.5 112.0,82.5 107.9,78.0 107.2,77.0 106.9,76.0 106.9,72.5 106.5,71.0 105.9,70.0 102.5,66.7 93.5,60.7 90.0,58.7 65.5,48.8 60.0,46.8 25.5,39.7 20.0,39.0 20.0,10.0 244.5,10.0 244.5,135.5ZM179.0,120.5 179.3,120.0 179.1,119.5 177.7,118.0 175.0,116.3 172.5,115.2 168.5,113.9 165.5,113.4 163.5,113.4 162.7,114.0 163.0,115.0 164.6,116.5 170.0,119.2 176.0,120.9 178.0,120.9 179.0,120.5ZM112.6,128.5 115.1,128.0 115.7,127.5 115.8,127.0 115.5,126.5 114.0,125.7 109.5,125.4 105.5,126.0 104.5,126.5 104.1,127.0 104.4,127.5 105.0,127.8 107.0,128.4 109.5,128.6 112.6,128.5ZM183.3,129.5 185.0,129.1 186.4,128.5 186.8,128.0 186.8,127.5 186.0,126.9 184.0,126.2 181.0,125.8 178.0,125.6 173.0,126.3 171.6,127.0 171.1,127.5 171.0,128.0 172.0,128.8 175.0,129.6 178.5,129.9 183.3,129.5Z" fill="#f0f7fc" fill-rule="evenodd"/>
<path d="M244.5,135.5 20.0,135.5 20.0,81.2 26.5,81.2 58.5,82.7 97.5,86.6 99.5,86.5 102.5,85.0 104.5,84.4 106.0,84.3 111.0,85.0 112.1,84.5 112.6,84.0 112.6,83.5 112.3,82.5 108.6,78.5 107.7,77.0 107.6,76.0 108.0,74.0 107.9,72.0 107.5,70.0 106.5,68.6 104.0,65.7 95.0,59.7 91.0,57.4 67.5,47.8 60.5,45.2 26.5,38.3 20.0,37.3 20.0,10.0 244.5,10.0 244.5,135.5ZM179.8,122.0 181.5,121.5 181.8,121.0 181.5,120.0 179.0,117.8 174.5,115.3 168.0,113.3 163.5,112.9 162.1,113.5 161.9,114.0 162.1,114.5 163.0,115.6 165.0,117.1 168.0,118.7 171.5,120.2 176.5,121.8 179.8,122.0ZM114.0,130.0 116.0,129.8 118.3,128.5 119.1,127.5 118.9,126.5 117.5,125.4 114.0,124.1 109.5,123.9 105.5,124.2 102.5,124.9 100.0,126.0 99.3,127.0 99.8,128.0 100.5,128.5 104.0,129.6 109.0,130.1 114.0,130.0ZM184.3,130.0 188.0,129.0 188.8,128.5 189.1,128.0 189.1,127.5 187.8,126.5 185.5,125.8 182.0,125.3 178.0,125.1 173.0,125.8 171.0,126.7 170.2,127.5 170.1,128.0 170.5,128.5 173.5,129.8 178.5,130.5 184.3,130.0Z" fill="#d9eef9" fill-rule="evenodd"/>
<path d="M176.0,135.5 119.0,135.5 119.2,132.0 119.7,131.0 121.0,129.8 121.5,129.0 121.7,127.5 121.5,126.5 119.5,124.3 116.0,122.0 115.2,121.0 114.4,119.5 109.7,107.5 103.4,89.5 103.6,87.5 105.0,85.5 106.5,85.0 111.5,85.3 112.5,84.8 113.0,84.0 113.0,83.5 112.5,82.4 108.9,78.5 108.3,77.0 108.2,76.0 109.0,73.5 110.0,67.3 111.0,66.7 113.5,66.5 148.5,66.5 150.5,66.8 152.7,67.5 154.5,68.5 156.3,70.0 158.0,72.3 159.1,75.0 161.1,89.0 165.8,99.0 170.0,111.5 169.9,112.0 169.0,112.3 163.0,112.4 161.5,113.0 161.2,113.5 161.3,114.0 162.4,115.5 164.5,117.2 172.9,122.0 174.1,123.0 174.4,124.0 173.9,124.5 172.5,125.1 170.0,126.5 169.1,127.5 169.1,128.0 169.4,128.5 170.5,129.3 175.7,131.5 176.2,132.0 176.5,133.5 176.5,135.5 176.0,135.5ZM86.5,131.0 80.0,131.2 51.5,131.1 46.0,130.4 43.5,129.5 41.5,128.5 39.0,126.5 36.8,123.5 34.9,119.5 32.8,113.0 31.1,107.0 30.5,103.0 30.6,99.5 31.8,96.5 33.5,94.4 36.0,92.8 39.5,91.5 44.5,90.6 56.0,89.2 63.5,88.7 69.0,89.1 71.0,89.6 72.9,90.5 74.1,91.5 74.6,92.5 74.7,93.5 74.3,94.5 72.5,96.4 68.5,98.9 67.0,100.2 66.0,101.5 65.3,103.5 65.3,105.5 66.0,108.0 67.3,110.5 68.8,112.5 70.0,113.5 71.5,114.4 73.0,114.9 75.0,115.2 78.0,114.9 87.5,113.0 90.5,112.9 93.0,113.2 95.5,113.9 97.5,115.0 98.9,116.5 99.7,118.0 100.1,120.5 99.4,122.0 92.9,126.0 91.6,127.5 90.8,129.5 90.4,130.0 89.0,130.6 86.5,131.0Z" fill="#b9e0f5" fill-rule="evenodd"/>
<path d="M171.5,135.5 123.6,135.5 123.4,131.0 124.1,128.0 123.8,126.5 123.2,125.5 120.7,122.5 119.5,120.0 114.0,106.0 107.5,87.8 107.5,86.9 108.0,86.3 111.5,85.8 113.0,85.0 113.4,84.5 112.5,82.0 109.5,78.8 108.8,77.5 108.9,76.0 109.5,74.6 111.5,72.0 113.0,71.2 115.0,71.0 148.0,71.0 150.6,71.5 152.0,72.3 153.0,73.1 154.1,74.5 154.8,76.5 155.5,82.5 156.8,90.5 161.5,100.5 164.6,110.0 164.4,111.0 161.0,112.5 160.7,113.5 162.0,115.7 167.6,120.0 168.9,121.5 169.7,123.5 169.9,125.0 168.5,126.7 168.2,128.0 168.7,129.0 170.8,130.5 171.7,132.0 172.0,133.5 172.0,135.5 171.5,135.5Z" fill="#8fcdef" fill-rule="evenodd"/>
<path d="M169.0,135.5 126.1,135.5 126.0,131.5 125.7,130.0 125.9,128.0 125.8,127.5 125.0,125.5 122.8,121.5 117.8,109.0 112.5,94.0 111.8,92.5 110.2,87.5 110.5,86.8 113.0,85.4 113.5,85.0 113.7,84.5 112.7,82.0 109.3,78.0 109.4,76.5 110.5,74.9 112.0,74.0 114.5,73.5 148.0,73.5 150.0,74.0 151.4,75.0 152.4,77.0 152.5,79.5 153.0,81.0 153.0,83.0 153.5,84.5 153.5,86.5 154.0,88.0 154.0,90.0 154.8,92.0 159.2,101.5 161.7,109.0 161.9,110.5 161.6,111.0 160.4,112.0 160.3,113.5 161.8,116.0 165.0,119.0 166.7,122.5 167.5,125.5 167.3,127.5 167.4,128.5 168.8,130.5 169.4,133.0 169.5,135.5 169.0,135.5Z" fill="#5ea8e6" fill-rule="evenodd"/>
<path d="M167.5,135.5 127.9,135.5 127.7,131.0 127.4,130.0 127.5,127.5 124.4,121.0 119.4,108.5 116.7,100.5 115.9,99.0 114.2,93.5 113.4,92.0 112.5,89.0 112.3,87.5 112.6,86.5 113.5,85.6 113.9,84.5 112.9,82.0 109.6,78.0 109.7,77.0 110.0,76.4 110.5,76.0 111.5,75.7 116.0,75.3 148.0,75.2 149.0,75.4 150.0,76.1 150.7,77.5 150.8,80.0 151.2,81.0 151.3,83.5 151.7,84.5 151.8,86.5 152.2,88.0 152.3,90.5 152.8,92.0 155.1,96.5 155.3,97.5 157.6,102.0 159.6,108.0 160.0,109.5 160.0,111.0 159.6,112.5 159.9,114.0 163.5,119.0 164.3,121.5 165.1,123.0 166.2,127.0 166.5,129.5 166.9,130.0 167.2,131.0 167.3,132.5 167.7,134.0 167.7,135.5 167.5,135.5Z" fill="#2f74dc" fill-rule="evenodd"/>
<path d="M166.5,135.5 128.9,135.5 128.6,134.5 128.6,131.0 128.1,129.5 128.2,127.5 120.1,108.0 117.6,100.5 116.6,98.5 115.1,93.5 114.1,91.5 113.2,88.5 113.3,87.0 114.1,86.0 113.8,85.5 114.3,84.5 114.2,84.0 113.1,82.0 111.7,80.5 110.1,78.0 110.0,77.5 110.5,76.7 112.0,76.3 114.5,76.1 148.0,76.1 149.0,76.4 149.5,76.8 149.9,78.0 149.9,80.0 150.4,81.0 150.4,83.5 150.9,84.5 150.9,87.0 151.4,88.0 151.4,90.5 152.4,93.0 156.9,102.5 159.2,110.0 159.0,112.5 159.4,114.0 161.6,117.0 162.8,119.5 163.4,121.5 164.4,123.5 165.6,127.5 165.8,129.5 166.3,130.5 166.4,132.5 166.9,134.0 166.9,135.5 166.5,135.5Z" fill="#1040d8" fill-rule="evenodd"/>
<path d="M166.0,135.5 129.8,135.5 129.3,134.5 129.3,130.5 128.9,129.5 128.9,127.0 128.1,125.5 127.9,124.5 127.0,123.0 126.8,122.0 126.0,120.5 125.8,119.5 125.0,118.0 124.8,117.0 124.0,115.5 123.8,114.5 123.0,113.0 122.8,112.0 122.0,110.5 121.8,109.5 121.0,108.0 120.8,107.0 120.5,106.5 120.3,105.5 119.5,104.0 118.3,100.0 117.5,98.5 115.8,93.0 115.0,91.5 114.1,88.5 114.1,88.0 114.6,87.0 114.2,86.5 114.6,85.5 114.6,84.0 113.4,82.0 112.0,80.5 111.6,79.5 110.5,78.0 110.7,77.5 112.5,77.0 116.5,76.8 148.0,76.8 148.5,77.0 149.0,77.4 149.2,80.5 149.7,81.5 149.7,84.0 150.2,85.0 150.2,87.5 150.7,88.5 150.7,91.0 151.0,91.5 151.2,92.5 153.5,97.0 153.7,98.0 156.0,102.5 156.2,103.5 156.5,104.0 156.7,105.0 157.0,105.5 157.2,106.5 158.0,108.5 158.1,109.5 158.4,110.0 158.4,113.0 158.9,113.5 159.0,114.5 160.0,115.6 160.9,117.0 161.1,118.0 162.0,119.5 162.7,122.0 163.5,123.5 164.1,126.0 165.0,128.0 165.1,130.0 165.6,131.0 165.7,133.0 166.2,134.0 166.2,135.5 166.0,135.5Z" fill="#0008d8" fill-rule="evenodd"/>
<path d="M165.0,135.5 130.6,135.5 130.6,135.0 130.1,134.5 130.1,130.0 129.6,129.5 129.7,126.5 128.7,125.0 128.6,124.0 127.6,122.5 127.6,121.5 126.6,120.0 126.6,119.0 125.6,117.5 125.6,116.5 124.6,115.0 124.6,114.0 123.6,112.5 123.6,111.5 122.6,110.0 122.6,109.0 121.6,107.5 121.6,106.5 121.1,106.0 121.1,105.0 120.1,103.5 120.1,102.5 119.6,102.0 119.6,101.0 119.1,100.5 119.1,99.5 118.1,98.0 118.1,97.0 117.6,96.5 117.6,95.5 117.1,95.0 117.1,94.0 116.6,93.5 116.6,92.5 115.6,91.0 115.6,90.0 115.2,89.5 115.2,88.5 114.8,88.0 115.3,85.5 115.1,84.0 113.5,81.5 111.4,79.0 111.4,78.5 110.9,78.0 111.0,77.9 115.0,77.6 148.0,77.6 148.4,78.0 148.4,81.0 148.9,81.5 148.9,84.5 149.4,85.0 149.4,88.0 149.9,88.5 149.9,91.5 150.4,92.0 150.4,93.0 150.9,93.5 150.9,94.0 151.4,94.5 151.4,95.0 151.9,95.5 151.9,96.0 152.9,97.5 152.9,98.5 153.4,99.0 153.4,99.5 153.9,100.0 153.9,100.5 154.4,101.0 154.4,101.5 155.4,103.0 155.4,104.0 155.9,104.5 155.9,105.5 156.4,106.0 156.4,107.0 156.9,107.5 156.9,108.5 157.3,109.0 157.3,110.0 157.8,110.5 157.6,111.5 158.1,112.0 158.0,113.0 158.5,113.5 158.6,114.5 159.7,116.0 159.8,117.0 160.3,117.5 160.4,118.5 161.4,120.0 161.4,121.0 161.9,121.5 161.9,122.5 162.9,124.0 162.9,125.0 163.4,125.5 163.3,126.5 164.3,128.0 164.4,130.5 164.9,131.0 164.9,133.5 165.4,134.0 165.4,135.5 165.0,135.5Z" fill="#0000b4" fill-rule="evenodd"/>
<path d="M164.5,135.5 131.3,135.5 131.3,135.0 130.8,134.0 130.8,130.0 130.3,129.0 130.3,126.5 129.3,124.5 129.3,124.0 128.3,122.0 128.3,121.5 126.3,117.0 126.1,116.0 125.3,114.5 125.1,113.5 124.2,112.0 124.1,111.0 123.2,109.5 123.1,108.5 122.2,107.0 121.7,105.0 120.7,103.0 120.2,101.0 119.7,100.0 119.7,99.5 118.7,97.5 117.3,92.5 116.3,90.5 115.8,89.0 115.8,87.5 116.2,86.0 115.7,84.0 112.8,80.0 112.0,78.5 115.0,78.3 130.5,78.2 147.5,78.2 147.8,78.5 147.8,81.0 148.2,82.0 148.2,84.5 148.8,85.5 148.8,88.0 149.2,89.0 149.2,91.5 149.9,93.5 152.2,98.0 152.4,99.0 154.7,103.5 154.7,104.0 156.7,109.5 157.0,112.0 157.5,113.5 159.2,116.5 159.7,118.5 160.7,120.5 161.2,122.5 162.2,124.5 162.9,127.0 163.7,128.5 163.7,130.5 164.2,131.5 164.2,133.5 164.7,134.5 164.7,135.5 164.5,135.5Z" fill="#00008c" fill-rule="evenodd"/></g></g>
<polyline fill="none" stroke="#2474b5" stroke-width="1.3" points="27.5,42.6 43,42.8 60,40.6 132,34 165.4,32.4 169.7,29.85 237.6,29.4"/>
</g></g>
<g transform="translate(0,132.2)">
<g clip-path="url(#clipp10b)"><polyline fill="none" stroke="#111" stroke-width="1.05" points="27.5,49.7 39.3,51.8 51.6,54.8 63.9,58.3 76.2,62.8 88.5,69 100.8,75 118.75,85 137.5,96.25 156.25,108.4 175,121 186.3,129.6 188,131"/></g>
<rect x="174.9" y="26.1" width="3.8" height="3.8" fill="#000"/>
<rect x="222.8" y="26.1" width="3.8" height="3.8" fill="#000"/>
<g fill="#fff" stroke="#1a1a1a" stroke-width="0.85"><circle cx="102.3" cy="43" r="2.35"/><circle cx="92.6" cy="49.4" r="2.35"/><circle cx="96.7" cy="50.3" r="2.35"/><circle cx="109.3" cy="57.4" r="2.35"/><circle cx="106" cy="64.8" r="2.35"/><circle cx="113.5" cy="66.2" r="2.35"/><circle cx="137.2" cy="53.7" r="2.35"/><circle cx="148.7" cy="49.3" r="2.35"/><circle cx="145.3" cy="55.4" r="2.35"/><circle cx="148.1" cy="55.4" r="2.35"/><circle cx="133.6" cy="62.1" r="2.35"/><circle cx="137.3" cy="63" r="2.35"/><circle cx="140" cy="61.7" r="2.35"/><circle cx="136.8" cy="66.4" r="2.35"/><circle cx="127" cy="65.4" r="2.35"/><circle cx="119.4" cy="68.1" r="2.35"/><circle cx="122.4" cy="68" r="2.35"/><circle cx="108.1" cy="68.2" r="2.35"/><circle cx="165.2" cy="44.2" r="2.35"/><circle cx="163.1" cy="46.4" r="2.35"/><circle cx="157.2" cy="48.2" r="2.35"/><circle cx="148.2" cy="51.7" r="2.35"/><circle cx="156" cy="51.9" r="2.35"/><circle cx="153.9" cy="55.8" r="2.35"/><circle cx="157.9" cy="55.5" r="2.35"/><circle cx="161.4" cy="54.1" r="2.35"/><circle cx="164.1" cy="56.7" r="2.35"/><circle cx="168.2" cy="54.1" r="2.35"/><circle cx="152.2" cy="59.6" r="2.35"/><circle cx="161.4" cy="61.5" r="2.35"/><circle cx="160.9" cy="57.8" r="2.35"/><circle cx="150.9" cy="66" r="2.35"/><circle cx="154.6" cy="66.1" r="2.35"/><circle cx="150.5" cy="50.2" r="2.35"/><circle cx="150" cy="52.9" r="2.35"/><circle cx="150.8" cy="69.7" r="2.35"/><circle cx="191.9" cy="43.9" r="2.35"/><circle cx="190.4" cy="47.3" r="2.35"/><circle cx="69.5" cy="42.6" r="2.35"/><circle cx="111.2" cy="67" r="2.35"/><circle cx="111.7" cy="70.8" r="2.35"/><circle cx="115.5" cy="70.8" r="2.35"/><circle cx="126.3" cy="70.2" r="2.35"/><circle cx="118.7" cy="75.6" r="2.35"/><circle cx="121.4" cy="76.2" r="2.35"/><circle cx="124.6" cy="73.5" r="2.35"/><circle cx="126.8" cy="76.7" r="2.35"/><circle cx="130.6" cy="74" r="2.35"/><circle cx="125.2" cy="79.4" r="2.35"/><circle cx="127.9" cy="81" r="2.35"/><circle cx="131.6" cy="78.3" r="2.35"/><circle cx="133.8" cy="79.9" r="2.35"/><circle cx="137.1" cy="74.2" r="2.35"/><circle cx="140.1" cy="70.8" r="2.35"/><circle cx="140.6" cy="73.5" r="2.35"/><circle cx="141.3" cy="75.6" r="2.35"/><circle cx="139.2" cy="80.2" r="2.35"/><circle cx="133.3" cy="84.8" r="2.35"/><circle cx="136.8" cy="86.8" r="2.35"/><circle cx="138.7" cy="84" r="2.35"/><circle cx="143.3" cy="84.8" r="2.35"/><circle cx="148.5" cy="69.8" r="2.35"/><circle cx="146.3" cy="74.5" r="2.35"/><circle cx="149" cy="74.2" r="2.35"/><circle cx="154.4" cy="76.6" r="2.35"/><circle cx="157.1" cy="79.5" r="2.35"/><circle cx="152.2" cy="81.4" r="2.35"/><circle cx="170" cy="79.5" r="2.35"/><circle cx="166.3" cy="81.7" r="2.35"/><circle cx="162.5" cy="83.5" r="2.35"/><circle cx="136.1" cy="79" r="2.35"/><circle cx="149" cy="84.6" r="2.35"/><circle cx="146.3" cy="88.5" r="2.35"/><circle cx="158.2" cy="87.6" r="2.35"/><circle cx="162.8" cy="87.4" r="2.35"/><circle cx="165.7" cy="90.6" r="2.35"/><circle cx="167.9" cy="93.2" r="2.35"/><circle cx="169.5" cy="95.9" r="2.35"/><circle cx="147.9" cy="92.9" r="2.35"/><circle cx="152.8" cy="93.4" r="2.35"/><circle cx="154.4" cy="90.3" r="2.35"/><circle cx="155.5" cy="95.5" r="2.35"/><circle cx="158.2" cy="93.3" r="2.35"/><circle cx="152.2" cy="97" r="2.35"/><circle cx="157.6" cy="97.3" r="2.35"/><circle cx="161.7" cy="99.2" r="2.35"/><circle cx="177.6" cy="96.3" r="2.35"/><circle cx="154.9" cy="99" r="2.35"/><circle cx="158.2" cy="102.8" r="2.35"/><circle cx="160.9" cy="104.4" r="2.35"/><circle cx="162.5" cy="106.5" r="2.35"/><circle cx="165.2" cy="102.2" r="2.35"/><circle cx="172.2" cy="107.6" r="2.35"/><circle cx="174.7" cy="108.7" r="2.35"/><circle cx="183.7" cy="113.4" r="2.35"/><circle cx="184.7" cy="119.1" r="2.35"/><circle cx="202.1" cy="70.3" r="2.35"/><circle cx="207.5" cy="80.4" r="2.35"/><circle cx="191.8" cy="95.7" r="2.35"/><circle cx="195.1" cy="98.8" r="2.35"/><circle cx="217.1" cy="98" r="2.35"/><circle cx="219.7" cy="100.2" r="2.35"/><circle cx="214.6" cy="102.8" r="2.35"/><circle cx="211.6" cy="113" r="2.35"/><circle cx="209.7" cy="115.5" r="2.35"/><circle cx="192.7" cy="121.8" r="2.35"/><circle cx="197.7" cy="124" r="2.35"/><circle cx="189.4" cy="125.5" r="2.35"/><circle cx="193.9" cy="124.9" r="2.35"/><circle cx="196.4" cy="127.7" r="2.35"/><circle cx="209.9" cy="128" r="2.35"/><circle cx="208.3" cy="129.9" r="2.35"/><circle cx="228.1" cy="51.8" r="2.35"/></g>
</g>
<rect x="27.5" y="147.5" width="209.2" height="116.1" fill="none" stroke="#3c3c3c" stroke-width="1"/>
<line x1="80.3" y1="263.6" x2="80.3" y2="265.6" stroke="#3c3c3c" stroke-width="0.8"/>
<text x="80.3" y="273.9" font-size="9.2" text-anchor="middle" font-family="Liberation Sans, sans-serif" fill="#1a1a1a">−71</text>
<line x1="184.8" y1="263.6" x2="184.8" y2="265.6" stroke="#3c3c3c" stroke-width="0.8"/>
<text x="184.8" y="273.9" font-size="9.2" text-anchor="middle" font-family="Liberation Sans, sans-serif" fill="#1a1a1a">−70</text>
<line x1="25.7" y1="164.6" x2="27.5" y2="164.6" stroke="#3c3c3c" stroke-width="0.8"/>
<text x="24.5" y="167.9" font-size="9.2" text-anchor="end" font-family="Liberation Sans, sans-serif" fill="#1a1a1a">0</text>
<line x1="25.7" y1="197.7" x2="27.5" y2="197.7" stroke="#3c3c3c" stroke-width="0.8"/>
<text x="24.5" y="201" font-size="9.2" text-anchor="end" font-family="Liberation Sans, sans-serif" fill="#1a1a1a">20</text>
<line x1="25.7" y1="230.8" x2="27.5" y2="230.8" stroke="#3c3c3c" stroke-width="0.8"/>
<text x="24.5" y="234.1" font-size="9.2" text-anchor="end" font-family="Liberation Sans, sans-serif" fill="#1a1a1a">40</text>
<line x1="25.7" y1="263.9" x2="27.5" y2="263.9" stroke="#3c3c3c" stroke-width="0.8"/>
<text x="24.5" y="267.2" font-size="9.2" text-anchor="end" font-family="Liberation Sans, sans-serif" fill="#1a1a1a">60</text>
<text x="31.7" y="160.3" font-size="12.2" font-family="Liberation Sans, sans-serif" fill="#1a1a1a">d)</text>
<clipPath id="clipp11"><rect x="243.3" y="148" width="208.8" height="115.1"/></clipPath>
<clipPath id="clipp11b"><rect x="28" y="15.8" width="208.8" height="115.1"/></clipPath>
<g clip-path="url(#clipp11)"><g transform="translate(215.3,132.2)">
<clipPath id="cuf11"><path d="M28.9,34.6 L43.0,34.8 L60.0,32.6 L132.0,26.0 L165.4,24.4 L169.7,21.9 L236.2,21.4 L236.2,128.8 L185.2,128.8 L175.0,121.0 L156.2,108.4 L137.5,96.2 L118.8,85.0 L100.8,75.0 L88.5,69.0 L76.2,62.8 L63.9,58.3 L51.6,54.8 L39.3,51.8 L27.5,49.7 L28.9,49.7 Z"/></clipPath><clipPath id="clf11"><path d="M28.9,49.7 L27.5,49.7 L39.3,51.8 L51.6,54.8 L63.9,58.3 L76.2,62.8 L88.5,69.0 L100.8,75.0 L118.8,85.0 L137.5,96.2 L156.2,108.4 L175.0,121.0 L185.2,128.8 L28.9,128.8 Z"/></clipPath><g clip-path="url(#cuf11)"><rect x="20" y="10" width="225" height="126" fill="#fff"/><g filter="url(#bf)"><path d="M244.5,135.5 201.5,135.5 202.2,134.0 202.5,132.8 205.0,130.5 206.6,127.5 207.0,126.0 207.7,120.0 207.9,116.5 204.0,112.7 202.8,111.0 201.0,109.4 187.0,102.9 185.0,102.3 180.5,102.0 173.0,100.6 168.0,100.9 165.5,100.7 162.0,100.9 160.0,100.3 158.0,100.3 148.5,99.0 146.5,99.0 144.2,97.5 142.7,96.0 141.5,94.0 140.0,91.0 139.2,88.5 137.5,85.0 136.7,80.0 136.7,76.0 136.5,74.0 135.2,69.5 133.9,63.0 133.5,58.5 133.7,56.0 134.3,53.0 135.5,52.5 139.0,52.0 154.0,52.0 170.0,50.2 171.6,48.5 175.0,44.0 174.8,42.0 174.0,40.0 173.4,36.0 172.8,34.5 172.7,32.0 173.0,30.5 173.5,29.7 174.5,28.9 176.5,28.1 196.0,28.2 215.5,29.6 244.5,29.3 244.5,135.5ZM83.5,69.0 82.0,69.2 76.0,67.5 64.2,61.0 57.2,58.0 52.5,56.5 40.0,53.3 37.5,52.4 35.5,51.0 34.5,49.5 34.1,47.5 34.5,45.5 35.3,44.5 36.5,43.8 38.0,43.4 40.0,43.4 62.0,46.7 66.5,47.7 82.5,57.2 85.9,60.5 88.4,64.5 88.9,66.0 88.7,67.0 87.5,68.2 83.5,69.0Z" fill="#fefce8" fill-rule="evenodd"/>
<path d="M244.5,135.5 207.6,135.5 209.0,134.0 209.9,132.5 211.4,129.5 212.2,127.0 213.2,121.0 213.4,117.5 213.3,114.5 212.5,112.1 209.0,112.8 201.5,108.0 197.0,106.4 193.0,104.6 186.0,101.8 180.5,101.5 173.0,99.9 168.0,100.3 165.5,100.2 162.0,100.4 159.5,99.7 158.0,99.7 147.0,98.1 145.1,97.0 144.0,96.0 141.5,91.9 140.0,88.0 138.5,85.0 137.9,80.0 137.8,74.0 136.4,68.5 136.1,65.5 135.9,58.0 137.0,55.2 142.0,54.5 157.5,54.3 166.5,53.1 170.0,52.9 173.1,50.0 177.1,44.5 176.9,41.0 176.3,40.0 175.8,35.5 175.2,34.0 175.2,33.0 175.5,31.5 176.2,30.5 176.5,30.1 178.0,29.5 197.5,29.8 219.0,32.3 226.5,32.0 244.5,32.0 244.5,135.5ZM83.0,68.0 81.0,67.8 75.0,65.7 63.5,59.1 57.0,56.1 51.5,54.2 39.0,50.8 37.7,50.0 36.9,49.0 36.5,47.5 36.8,46.5 38.0,45.5 39.5,45.2 41.0,45.2 53.0,47.4 63.5,48.6 67.0,49.2 81.0,56.7 83.0,58.1 85.4,60.5 87.3,63.5 87.7,65.0 87.7,66.0 87.0,67.0 86.2,67.5 83.0,68.0Z" fill="#fdf9c6" fill-rule="evenodd"/>
<path d="M222.0,112.0 220.0,112.4 218.0,110.0 215.5,107.9 214.5,108.4 209.0,109.5 208.5,109.5 204.0,107.4 192.0,103.3 186.5,101.1 180.5,100.9 176.0,99.6 173.0,99.3 168.0,99.8 162.0,99.9 159.5,99.2 147.5,97.3 146.0,96.5 145.0,95.5 142.3,91.5 141.2,88.5 139.5,85.0 139.0,80.0 139.1,74.5 138.3,70.5 138.1,67.5 138.3,62.0 139.1,58.0 140.0,57.7 143.0,57.6 155.5,57.6 170.5,56.3 172.4,53.5 177.5,47.9 178.0,46.8 179.5,45.0 179.0,40.5 178.4,39.0 177.9,34.5 177.4,33.0 178.0,31.6 179.0,30.8 188.5,30.7 196.0,30.9 200.7,31.5 203.0,32.5 204.5,34.0 207.8,39.5 209.7,46.5 211.4,50.5 213.0,52.8 215.0,54.6 218.5,56.3 223.5,57.5 237.0,59.6 244.5,60.2 244.5,108.7 237.0,109.4 222.0,112.0ZM84.0,67.0 82.0,67.1 81.0,66.8 74.0,64.1 61.0,56.2 52.1,51.5 51.4,51.0 51.1,50.5 53.5,50.1 60.0,49.9 67.0,50.3 76.0,54.5 82.5,58.2 83.9,59.5 85.5,61.5 86.7,64.0 86.6,65.5 85.5,66.7 84.0,67.0Z" fill="#fcf68c" fill-rule="evenodd"/>
<path d="M208.5,107.1 208.0,107.1 204.0,105.7 198.8,104.5 194.5,102.9 192.0,102.3 186.5,100.4 181.0,100.3 176.0,99.1 173.0,98.8 162.5,99.6 160.0,98.9 157.5,98.6 148.5,96.8 146.7,96.0 146.0,95.3 143.0,91.0 140.2,84.5 139.9,80.0 140.1,74.5 139.6,70.0 139.9,65.0 140.9,61.0 144.0,60.5 156.0,60.1 164.5,59.2 170.5,59.1 173.5,55.6 175.6,52.5 177.5,50.4 178.0,49.3 178.5,48.9 181.5,46.4 184.5,46.7 185.7,46.5 185.2,45.0 183.2,41.0 180.5,37.0 180.2,33.0 180.4,32.5 191.0,32.4 194.0,32.8 195.8,33.5 197.1,34.5 198.5,36.3 200.7,39.5 203.2,49.0 205.6,54.5 208.1,58.0 212.0,61.0 216.0,62.6 221.5,63.9 236.5,66.3 244.5,66.9 244.5,100.4 236.5,101.1 219.0,104.3 218.0,103.7 217.5,103.8 214.0,105.8 208.5,107.1ZM85.0,66.0 84.0,66.3 82.0,66.5 78.0,65.1 73.0,62.8 62.2,55.5 60.1,53.5 59.8,52.5 60.5,51.8 62.0,51.4 64.5,51.1 67.0,51.2 71.0,52.8 78.5,56.2 82.5,58.7 85.1,61.5 85.6,62.5 86.0,64.0 85.9,65.0 85.0,66.0Z" fill="#fdf450" fill-rule="evenodd"/>
<path d="M208.0,104.5 206.5,104.7 199.5,103.1 186.5,99.6 182.0,99.8 178.6,99.0 173.0,98.4 162.5,99.1 160.0,98.4 157.5,98.1 148.0,96.0 146.9,95.0 144.0,91.0 141.0,84.5 140.7,80.0 141.2,74.5 141.2,69.0 142.5,63.6 146.0,63.0 156.5,62.2 164.0,61.4 167.5,61.3 171.0,61.6 172.5,60.2 176.0,55.0 178.0,52.9 178.2,52.5 178.0,51.8 181.5,48.9 186.0,49.5 191.5,51.2 199.0,54.5 202.0,56.1 206.0,58.9 210.3,62.5 213.3,65.5 215.7,68.5 217.1,71.0 218.6,75.0 220.9,82.0 221.6,85.5 221.7,89.5 221.0,93.5 219.8,96.5 217.3,100.5 213.0,103.3 208.0,104.5ZM84.0,65.6 82.0,65.8 80.0,65.2 76.9,64.0 72.0,61.5 67.7,58.5 64.7,56.0 63.5,54.5 63.3,54.0 63.5,53.2 64.6,52.5 67.5,52.2 76.1,55.5 80.0,57.5 82.9,59.5 84.8,62.0 85.3,64.0 84.9,65.0 84.0,65.6Z" fill="#fcf01e" fill-rule="evenodd"/>
<path d="M205.0,102.6 200.5,101.7 196.0,100.4 192.0,99.8 188.5,99.0 185.5,98.8 182.0,99.1 180.0,98.6 172.5,97.9 170.0,98.3 164.5,98.4 163.0,98.7 160.5,98.0 157.5,97.6 148.5,95.7 147.8,95.0 144.9,91.0 141.8,85.0 141.6,79.5 142.3,72.5 142.8,69.0 144.0,66.0 147.0,65.4 164.0,63.6 167.5,63.6 171.0,64.2 174.0,61.7 175.1,60.5 175.9,58.5 178.5,54.3 182.0,51.5 185.5,52.1 190.5,53.3 198.0,56.4 201.0,58.0 204.6,60.5 208.1,63.5 211.0,66.5 212.8,69.0 214.4,72.0 216.3,77.5 218.1,83.0 218.7,86.5 218.7,89.5 218.2,92.5 217.2,95.5 215.8,98.0 211.5,100.9 205.0,102.6ZM83.0,65.1 82.0,65.2 79.0,64.3 71.5,60.5 69.0,58.5 66.8,56.5 65.9,55.0 66.1,54.0 67.5,53.3 71.0,54.2 77.0,56.4 81.0,58.6 82.9,60.0 84.0,61.5 84.5,62.5 84.5,64.0 84.0,64.6 83.0,65.1Z" fill="#fdd400" fill-rule="evenodd"/>
<path d="M204.5,100.1 201.5,100.3 196.5,98.9 189.5,97.9 187.0,97.8 182.0,98.3 180.5,98.0 178.0,98.0 175.0,97.5 171.5,97.5 170.0,97.8 164.0,97.9 163.0,98.3 160.5,97.5 156.5,96.9 149.0,95.3 148.5,94.9 145.5,90.8 142.4,85.0 142.7,82.5 142.6,79.0 143.3,73.0 143.6,71.5 145.0,68.2 145.5,67.8 147.5,67.4 164.0,65.5 168.0,65.6 171.5,66.6 173.7,65.0 176.8,61.5 178.5,58.9 178.6,58.5 178.3,58.0 178.5,57.3 179.5,56.0 182.0,54.1 190.0,55.7 198.5,59.3 202.0,61.5 205.1,64.0 207.6,66.5 209.8,69.5 211.8,73.5 214.8,82.5 215.5,85.5 215.7,88.0 215.5,90.5 214.9,93.0 213.9,95.5 213.5,96.0 209.5,98.5 204.5,100.1ZM82.0,64.6 80.0,64.0 76.6,62.5 70.8,59.0 68.4,56.5 68.0,55.5 68.1,55.0 68.5,54.8 70.5,55.0 74.5,56.0 77.5,57.1 81.0,59.1 82.7,60.5 83.4,61.5 83.8,62.5 83.7,63.5 83.4,64.0 82.0,64.6Z" fill="#fda400" fill-rule="evenodd"/>
<path d="M82.0,63.6 79.0,62.8 74.8,60.5 72.3,58.5 71.7,57.5 71.9,57.0 72.5,56.8 73.5,56.8 76.0,57.4 78.5,58.4 80.5,59.5 81.8,60.5 82.6,61.5 82.8,62.5 82.7,63.0 82.0,63.6ZM196.5,97.0 190.0,96.1 187.0,96.3 185.5,96.9 178.5,97.4 174.5,96.9 171.0,96.9 170.0,97.3 162.5,97.2 161.0,96.8 157.0,96.4 150.0,94.9 149.2,94.5 146.2,90.5 143.2,85.0 144.4,73.5 145.0,71.8 146.0,70.2 147.5,69.5 164.0,67.4 167.0,67.5 169.0,68.0 171.5,69.2 172.6,69.0 174.5,68.0 176.5,66.4 177.3,65.5 177.6,64.5 178.5,63.3 179.0,62.0 182.5,57.4 187.0,58.2 190.5,59.2 196.0,61.4 199.0,63.2 202.0,65.5 204.4,68.0 206.2,70.5 207.7,73.5 210.9,83.0 211.5,85.5 211.7,88.0 211.5,90.5 210.8,93.0 207.0,95.9 206.5,96.1 203.5,96.5 196.5,97.0Z" fill="#f96c00" fill-rule="evenodd"/>
<path d="M80.0,61.2 78.9,61.0 78.1,60.5 77.8,60.0 78.5,60.0 79.5,60.5 80.0,61.2ZM179.0,96.5 177.5,96.8 174.0,96.1 169.0,96.0 167.0,95.5 163.0,95.5 160.5,95.0 155.5,95.5 155.0,95.2 154.0,95.1 153.5,94.9 150.5,94.3 149.5,93.4 146.9,90.0 145.1,86.5 144.1,85.0 144.6,79.5 145.8,74.0 146.7,72.0 147.5,71.5 149.0,71.1 151.0,71.1 165.0,69.1 167.5,69.5 171.5,71.4 173.5,71.2 176.0,70.2 179.0,67.8 179.5,66.7 183.0,63.1 191.0,64.3 193.5,65.5 196.0,67.1 198.0,68.9 199.5,70.5 201.5,74.0 205.2,85.0 205.6,87.5 205.5,89.5 202.8,91.0 198.5,92.6 192.0,94.0 187.5,94.2 185.5,95.1 181.5,95.5 179.0,96.5Z" fill="#f23400" fill-rule="evenodd"/>
<path d="M177.0,96.1 175.5,95.3 173.5,93.5 169.5,93.5 167.0,93.0 163.5,93.0 160.0,92.5 156.5,93.0 150.5,93.0 150.2,92.5 149.5,92.0 147.7,89.5 145.9,86.0 145.1,85.0 145.6,79.5 147.1,73.5 147.6,73.0 149.0,72.5 151.5,72.4 153.5,71.9 155.0,71.9 157.0,71.4 159.0,71.4 165.0,70.4 167.0,70.8 172.0,73.3 174.5,73.3 179.2,72.0 180.0,70.8 181.9,69.5 183.0,68.2 188.0,69.5 191.5,71.2 193.3,73.0 194.7,75.5 197.7,84.5 197.2,86.0 195.3,88.5 193.0,90.0 189.0,91.6 185.5,93.4 183.0,93.8 177.0,96.1Z" fill="#e60800" fill-rule="evenodd"/>
<path d="M178.0,93.9 175.3,91.5 173.0,88.8 170.0,88.7 167.5,88.3 164.0,88.2 160.5,87.8 158.5,87.8 156.0,88.2 150.0,88.2 146.8,84.0 146.7,82.5 147.0,82.0 147.0,80.0 148.4,74.5 149.5,73.8 152.5,73.7 153.5,73.3 156.0,73.2 157.5,72.8 160.0,72.7 161.0,72.3 163.5,72.3 165.0,71.8 166.0,72.0 171.5,74.7 178.5,75.5 179.5,75.2 180.0,74.7 183.5,73.9 185.0,74.7 185.9,75.5 187.0,76.9 188.4,80.5 188.6,81.5 188.4,83.0 188.4,87.0 187.5,88.6 185.0,90.8 184.0,91.2 181.9,92.5 178.4,93.5 178.0,93.9Z" fill="#c80000" fill-rule="evenodd"/>
<path d="M179.5,91.1 179.1,91.0 178.5,89.9 177.3,88.5 174.0,82.5 173.0,80.0 172.6,77.0 173.5,76.7 178.0,77.4 180.5,77.2 181.8,78.0 182.2,79.0 182.9,80.0 183.0,80.5 183.7,81.0 183.3,82.0 184.6,86.0 184.3,88.0 182.7,89.5 181.5,90.3 180.3,90.5 179.5,91.1Z" fill="#a30000" fill-rule="evenodd"/>
<path d="M198.0,135.5 94.5,135.5 94.0,135.0 93.0,135.0 91.5,134.0 90.5,134.0 90.0,133.5 89.5,133.5 88.0,132.5 87.0,132.5 86.5,132.0 86.0,132.0 84.5,131.0 83.5,131.0 83.0,130.5 82.5,130.5 82.0,130.0 81.5,130.0 81.0,129.5 80.5,129.5 80.0,129.0 79.5,129.0 79.0,128.5 78.5,128.5 78.0,128.0 77.5,128.0 77.0,127.5 76.0,127.5 75.5,127.0 75.0,127.0 73.5,126.0 73.0,126.0 72.5,125.5 72.0,125.5 71.0,124.5 70.5,124.5 70.0,124.0 69.5,124.0 69.0,123.5 68.5,123.5 68.0,123.0 67.5,123.0 67.0,122.5 66.5,122.5 66.0,122.0 65.5,122.0 64.5,121.0 64.0,121.0 63.5,120.5 63.0,120.5 62.5,120.0 62.0,120.0 61.5,119.5 61.0,119.5 60.0,118.5 59.5,118.5 59.0,118.0 58.5,118.0 57.5,117.0 57.0,117.0 56.5,116.5 56.0,116.5 55.0,115.5 54.5,115.5 53.5,114.5 53.0,114.5 52.5,114.0 52.0,114.0 51.0,113.0 50.5,113.0 49.5,112.0 49.0,112.0 48.0,111.0 47.5,111.0 46.5,110.0 46.0,110.0 45.0,109.0 44.5,109.0 43.5,108.0 43.0,108.0 41.5,106.5 41.0,106.5 39.5,105.0 39.0,105.0 38.0,104.0 37.5,104.0 36.0,102.5 35.5,102.5 33.5,100.5 33.0,100.5 31.0,98.5 30.5,98.5 28.5,96.5 28.0,96.5 25.0,93.5 24.5,93.5 20.5,89.5 20.0,89.5 20.0,49.5 22.5,49.5 22.5,61.5 22.6,62.5 23.0,63.2 30.0,64.0 37.0,65.3 48.6,67.0 54.3,68.0 58.5,69.0 62.7,70.5 76.5,76.7 88.5,81.5 85.5,76.5 84.9,74.5 84.2,73.5 83.9,72.5 84.3,71.5 85.0,71.0 89.0,69.5 89.8,69.0 90.3,68.0 90.3,67.0 89.7,65.0 88.5,63.0 86.1,60.0 83.5,57.3 72.9,50.5 69.1,47.5 67.5,46.0 66.0,44.0 65.1,42.5 65.0,42.0 65.5,40.5 67.0,39.1 69.0,38.2 72.5,37.2 79.0,35.9 100.5,33.7 111.5,33.3 120.5,33.6 124.4,34.5 127.0,36.3 134.0,35.3 144.5,34.3 155.0,33.6 163.5,33.4 166.0,33.0 168.5,32.3 169.9,36.5 170.8,40.5 171.8,43.0 171.9,43.5 169.5,46.1 164.5,46.6 153.5,48.1 148.5,48.3 141.0,48.2 137.5,48.4 133.5,49.0 130.7,50.0 130.1,53.5 130.6,58.5 131.7,62.5 133.5,70.4 135.0,75.5 135.1,80.5 136.1,85.0 137.7,88.5 138.4,91.0 140.5,96.0 143.0,98.5 145.5,100.0 147.0,100.2 149.0,100.1 158.5,101.3 160.0,101.2 162.0,101.7 166.0,101.5 167.5,101.8 173.0,101.4 178.5,102.3 180.0,102.8 185.5,103.2 186.5,103.5 188.5,104.8 192.0,106.2 198.5,109.7 200.6,112.0 201.4,114.5 202.7,117.0 203.0,117.6 204.3,118.5 204.5,119.0 203.7,125.0 203.2,126.5 202.0,128.6 201.0,131.0 199.0,133.6 198.8,134.0 198.9,134.5 198.0,135.5ZM123.5,108.0 124.9,107.0 124.9,104.0 124.5,103.3 121.0,103.5 118.0,103.0 113.0,102.7 111.0,104.0 112.0,105.5 116.5,108.0 121.5,108.5 122.5,108.4 123.5,108.0Z" fill="#f0f7fc" fill-rule="evenodd"/>
<path d="M195.0,135.5 127.4,135.5 120.4,127.0 118.7,124.5 117.1,120.5 116.5,116.0 117.0,111.9 117.5,111.7 122.0,111.6 128.8,107.0 128.9,105.5 128.6,104.0 126.9,101.0 126.2,100.0 125.5,99.6 124.0,99.3 121.0,99.4 118.5,99.0 117.0,98.5 114.0,97.0 111.5,96.4 109.0,96.5 107.0,96.1 96.5,87.2 94.7,85.0 91.4,80.0 89.8,76.5 88.2,74.5 87.7,73.5 87.8,73.0 88.3,72.0 90.0,71.0 91.0,69.9 91.5,69.0 91.3,67.0 90.2,64.5 86.2,59.5 83.7,57.0 75.5,51.5 70.9,47.5 69.6,46.0 68.3,43.5 68.0,42.0 68.4,41.0 69.3,40.0 71.4,39.0 74.0,38.0 78.0,37.0 83.5,36.2 100.0,34.7 111.0,34.4 116.5,34.6 120.5,35.2 123.0,36.3 123.8,37.0 124.7,38.5 127.2,47.0 128.6,49.5 129.0,58.7 133.8,76.0 133.9,80.5 134.4,83.5 135.2,86.0 136.7,89.0 137.1,91.0 139.2,96.5 142.3,99.5 143.5,100.2 145.5,100.9 147.0,101.0 149.0,100.8 158.5,102.0 160.0,101.8 162.0,102.3 166.0,102.2 167.5,102.4 173.0,102.1 178.5,103.0 180.0,103.4 185.5,103.9 197.6,110.0 198.5,110.9 199.1,112.0 199.3,114.0 200.0,116.5 201.5,119.0 201.9,120.0 201.9,121.0 201.3,125.5 200.4,128.5 199.2,130.5 198.5,132.2 195.5,135.5 195.0,135.5ZM151.0,45.0 146.5,45.2 145.3,45.0 147.1,44.0 149.5,43.1 155.0,42.1 160.5,42.0 166.1,43.0 155.0,44.7 151.0,45.0Z" fill="#d9eef9" fill-rule="evenodd"/>
<path d="M192.5,135.5 133.1,135.5 130.0,131.5 123.3,123.5 121.7,120.5 121.1,118.0 121.0,115.0 127.0,111.0 130.9,107.0 130.9,104.0 130.5,101.9 129.6,100.0 126.5,97.3 118.5,96.3 117.0,95.6 114.0,93.4 112.0,92.8 109.5,91.7 105.0,91.1 98.5,85.7 97.0,84.0 95.7,82.0 94.0,79.0 93.5,77.5 91.9,75.0 91.7,72.5 92.6,70.5 92.8,69.5 92.4,67.5 91.5,65.5 89.5,62.7 85.3,58.0 83.0,55.9 76.6,51.5 73.0,48.0 71.5,46.0 70.6,44.0 70.3,42.5 70.8,41.0 72.5,39.7 73.8,39.0 79.0,37.5 83.5,36.8 100.0,35.3 107.0,35.1 115.0,35.3 118.0,35.8 120.8,37.0 121.8,38.0 122.3,39.0 123.9,44.5 127.2,50.0 127.6,56.0 128.3,62.0 132.5,76.5 132.7,81.0 133.1,83.5 133.9,86.0 135.4,89.0 135.9,91.5 137.3,96.0 138.2,97.5 140.8,100.0 144.5,101.6 147.5,101.8 149.0,101.6 159.0,102.7 160.0,102.5 160.5,102.8 162.0,103.0 166.0,102.8 167.0,103.1 173.0,102.8 178.5,103.6 179.5,104.0 185.0,104.5 189.5,106.7 191.0,107.2 197.0,110.6 198.0,112.0 198.7,116.5 200.4,121.0 200.2,125.0 199.1,128.0 198.0,129.9 195.5,133.0 193.0,135.5 192.5,135.5Z" fill="#b9e0f5" fill-rule="evenodd"/>
<path d="M187.5,135.5 136.2,135.5 136.0,135.3 134.7,134.0 125.0,122.1 123.7,119.5 123.2,117.0 123.2,116.5 123.5,116.1 127.3,113.0 129.8,110.5 132.2,108.0 132.7,107.0 133.0,106.5 132.9,104.5 132.3,98.5 128.9,95.0 119.5,93.8 118.5,93.3 117.0,91.8 115.5,91.0 114.0,90.7 111.0,89.4 109.0,89.1 106.5,88.1 104.0,87.6 100.0,84.1 98.7,82.5 96.6,78.5 95.3,77.0 94.5,75.5 94.1,73.5 94.2,70.0 93.5,68.0 92.5,66.0 90.3,63.0 85.8,58.0 83.0,55.3 77.6,51.5 75.6,49.5 73.6,46.5 72.7,44.0 72.4,42.0 73.0,40.7 74.5,39.6 76.5,38.8 82.5,37.4 100.0,35.7 107.0,35.6 113.5,35.9 117.0,36.5 118.8,37.5 120.2,39.5 121.0,42.5 125.9,50.5 127.3,63.5 129.0,70.0 131.2,77.0 131.3,81.5 131.7,82.5 131.9,84.0 132.8,86.5 133.8,88.0 134.2,89.5 134.1,91.5 134.7,95.0 134.7,96.5 136.4,98.5 138.4,100.0 140.0,100.8 144.0,102.3 147.5,102.6 149.0,102.4 159.5,103.2 160.0,102.8 160.5,103.3 166.0,103.2 166.5,103.6 172.5,103.5 173.5,103.8 178.5,104.1 179.0,104.6 185.0,104.8 187.5,106.6 188.0,106.6 189.0,107.4 190.8,108.0 194.0,109.7 196.8,111.5 197.2,112.5 197.6,116.0 198.4,119.5 199.2,121.5 198.9,125.5 197.2,129.0 194.5,131.3 191.5,134.5 191.0,134.9 187.5,135.5Z" fill="#8fcdef" fill-rule="evenodd"/>
<path d="M131.0,91.5 128.5,92.0 121.0,91.7 120.0,91.1 118.5,89.5 117.5,89.0 115.5,88.6 112.5,87.3 111.0,87.1 108.0,86.0 106.0,85.8 104.0,85.2 101.9,83.5 100.5,82.0 99.3,79.5 97.0,76.5 96.3,74.5 95.9,71.0 94.1,67.5 92.2,64.5 86.0,57.6 83.3,55.0 78.1,51.0 76.4,49.0 75.0,46.5 74.5,45.0 74.0,42.5 74.4,41.0 75.6,40.0 77.5,39.1 82.5,37.8 100.0,36.1 106.5,36.1 112.0,36.4 115.4,37.0 117.3,38.0 118.5,39.5 119.5,42.5 124.9,51.0 126.3,65.0 127.6,70.5 130.0,77.5 129.8,79.5 130.1,80.5 130.1,82.5 130.5,83.0 130.7,84.5 131.7,87.0 132.1,87.5 132.6,88.5 132.6,89.5 132.3,90.5 131.9,91.0 131.0,91.5ZM177.5,135.5 141.1,135.5 140.0,135.2 138.0,134.1 136.2,132.5 133.2,128.5 127.0,121.2 126.0,119.5 125.5,118.0 127.4,115.0 131.5,111.0 132.7,109.5 134.2,107.0 134.9,102.0 135.5,101.3 136.5,100.9 137.5,101.0 143.0,103.1 148.5,103.5 149.0,103.1 159.5,103.5 160.0,103.3 160.5,103.6 161.5,103.6 166.0,103.6 166.5,103.9 172.5,103.8 173.0,104.3 178.5,104.4 179.0,104.9 185.0,105.3 186.0,106.0 186.5,106.0 187.5,106.9 188.0,106.9 189.0,107.8 190.5,108.3 191.5,109.2 192.0,109.2 193.0,110.1 193.5,110.1 194.5,111.0 195.0,111.1 195.5,111.6 196.0,111.7 196.4,112.0 195.9,112.5 196.5,114.5 196.4,115.5 197.1,117.5 198.0,122.0 197.8,125.5 197.1,127.0 196.0,128.3 190.5,132.8 177.5,135.5Z" fill="#5ea8e6" fill-rule="evenodd"/>
<path d="M122.5,89.0 121.5,89.0 120.2,87.5 118.5,86.4 117.5,86.3 114.2,85.0 112.5,84.8 110.0,83.7 107.8,83.5 104.0,82.4 103.0,81.6 99.6,77.0 98.6,75.0 97.7,72.0 97.1,70.5 93.3,65.0 84.0,54.9 79.9,51.5 78.2,49.5 76.5,46.0 75.8,43.0 76.0,41.5 76.7,40.5 79.0,39.3 83.5,38.1 100.0,36.5 106.5,36.7 111.0,37.0 114.0,37.7 115.0,38.2 116.0,39.0 117.3,41.5 123.6,51.5 124.4,56.5 125.1,67.5 126.2,71.5 126.6,72.5 127.0,74.5 127.9,75.5 127.8,76.0 128.3,76.5 128.3,77.0 129.1,78.0 129.0,80.0 129.4,80.5 129.4,82.5 129.9,83.5 130.0,85.0 130.5,85.5 130.7,87.5 131.2,88.0 131.0,88.3 126.8,88.5 122.5,89.0ZM173.5,134.6 171.5,134.7 169.0,134.3 157.0,134.2 154.5,133.8 142.5,133.7 140.5,133.3 138.5,132.0 130.4,122.0 128.6,120.0 128.0,119.0 128.3,117.5 129.0,116.0 134.0,110.0 135.5,107.5 136.3,106.0 136.2,105.0 136.8,103.0 137.5,102.7 140.1,103.5 142.0,103.7 148.5,103.9 149.0,103.5 161.0,104.1 165.5,104.1 166.5,104.4 172.0,104.3 173.0,104.7 178.0,104.8 179.0,105.3 184.5,105.6 188.5,108.0 192.0,109.6 193.0,110.4 193.5,110.5 194.5,111.4 195.0,111.5 195.5,112.3 195.8,114.5 195.4,115.0 195.5,115.7 196.1,117.5 196.2,119.0 196.6,120.0 196.8,122.0 197.1,122.5 196.9,124.5 195.8,126.5 190.5,130.7 178.5,133.3 173.5,134.6Z" fill="#2f74dc" fill-rule="evenodd"/>
<path d="M129.5,87.5 122.0,88.0 119.0,85.1 118.5,85.1 115.5,82.5 114.5,82.7 111.0,81.3 109.5,81.2 106.5,80.0 104.5,79.8 103.5,79.0 101.2,76.0 100.2,74.5 99.2,72.0 97.9,70.0 93.6,64.5 83.5,53.4 79.9,50.0 78.7,47.5 77.9,45.0 77.6,42.5 78.0,41.0 80.0,39.6 83.5,38.5 100.0,36.9 106.5,37.2 110.0,37.7 112.5,38.4 114.0,39.3 119.5,47.0 122.6,52.5 123.3,57.0 123.6,61.5 123.7,67.5 123.5,68.5 123.9,69.0 123.9,69.5 124.8,70.5 124.7,71.0 125.2,71.5 125.1,72.0 126.0,73.0 126.5,74.9 128.4,78.5 128.3,80.0 128.6,81.0 128.6,82.5 129.8,86.5 129.9,87.0 129.5,87.5ZM172.0,133.0 169.5,132.5 157.5,132.5 155.0,132.0 142.5,132.0 141.0,131.6 140.0,131.0 132.5,122.0 131.5,120.5 130.6,117.5 130.7,116.5 131.1,115.5 135.3,110.5 135.5,109.8 136.0,109.5 136.1,108.5 136.6,108.0 136.7,107.0 137.2,106.5 137.2,105.5 137.8,105.0 137.7,104.0 138.0,103.7 141.5,104.1 148.5,104.4 149.5,104.0 160.5,104.6 165.0,104.6 166.5,105.0 171.5,104.9 173.0,105.2 177.5,105.3 179.0,105.8 184.0,106.1 187.5,107.9 188.5,108.6 190.0,109.2 193.1,111.0 195.0,112.5 195.3,114.0 195.0,115.0 195.4,117.5 194.9,118.0 195.0,118.5 195.6,120.0 195.7,121.5 196.2,123.0 195.9,124.5 195.0,125.6 190.0,129.0 172.0,133.0Z" fill="#1040d8" fill-rule="evenodd"/>
<path d="M127.5,86.6 123.0,86.8 122.5,86.7 120.0,84.4 118.9,84.0 116.0,81.8 115.0,81.6 114.0,81.0 112.0,79.3 111.5,79.3 110.5,78.5 106.0,78.2 105.0,77.7 102.7,75.0 98.7,69.5 94.0,63.9 89.7,59.5 84.0,52.6 81.6,50.0 80.4,47.0 79.7,44.0 79.6,42.0 80.6,40.5 84.0,38.8 100.0,37.3 108.0,38.3 111.3,39.5 112.5,40.4 117.9,47.0 121.6,53.0 122.0,55.0 122.2,59.5 122.0,67.0 122.5,67.8 123.0,68.0 123.0,69.0 123.3,70.0 123.9,71.0 124.4,72.5 125.0,73.5 127.1,78.5 127.2,79.0 125.9,81.5 125.2,83.5 128.0,86.5 127.5,86.6ZM173.0,131.1 171.5,131.2 170.0,130.8 157.5,130.8 155.5,130.3 143.0,130.3 142.0,130.1 141.0,129.6 134.4,121.5 134.0,120.5 133.9,119.5 132.5,116.9 132.6,116.0 132.9,115.5 133.5,115.0 134.0,114.2 134.5,114.0 134.6,113.0 135.2,112.5 135.3,111.5 135.9,111.0 136.0,110.0 136.5,109.5 137.9,106.0 138.3,105.5 138.4,104.5 148.5,105.1 150.0,104.7 159.5,105.2 165.0,105.2 166.5,105.6 171.5,105.5 172.5,105.8 177.5,105.9 179.0,106.3 184.0,106.7 191.5,110.8 193.0,111.7 194.4,113.0 194.6,114.0 194.4,115.0 194.8,117.0 194.5,118.0 194.8,120.0 194.4,120.5 195.1,123.5 194.5,124.4 193.0,125.1 190.0,127.2 183.5,128.7 182.5,128.8 179.0,129.7 178.0,129.8 173.0,131.1Z" fill="#0008d8" fill-rule="evenodd"/>
<path d="M115.5,80.1 113.0,78.4 109.5,77.1 108.5,76.3 108.0,76.4 105.9,75.5 98.0,67.4 94.7,63.5 90.7,59.5 87.4,55.5 83.3,49.0 82.1,44.0 82.2,41.5 84.5,39.4 88.5,38.8 100.0,37.9 101.5,38.0 102.5,38.5 105.3,39.0 108.5,40.2 111.1,41.5 118.1,50.0 119.7,52.5 120.5,54.5 120.7,59.5 120.3,65.5 121.0,66.5 121.9,69.0 122.1,70.5 120.6,73.0 116.7,78.5 115.9,80.0 115.5,80.1ZM173.0,129.1 172.0,129.5 170.5,129.0 157.5,129.0 156.0,128.5 142.5,128.4 141.9,128.0 141.4,127.0 139.9,125.5 139.4,124.5 137.5,122.5 137.3,121.0 136.9,120.0 136.1,119.0 136.2,118.5 133.9,116.0 134.4,115.5 135.3,113.5 136.7,111.5 139.5,105.5 148.5,105.9 150.0,105.5 164.5,106.1 166.0,106.4 171.0,106.3 172.5,106.6 177.5,106.6 179.0,107.0 183.5,107.3 191.0,111.3 193.5,113.2 193.7,113.5 193.5,114.5 193.9,119.5 193.7,120.5 194.2,123.0 194.0,123.2 192.0,123.4 191.8,124.0 190.5,124.7 189.5,125.5 188.0,125.6 185.5,126.4 184.0,126.6 183.5,126.9 181.7,127.0 179.0,127.9 177.2,128.0 174.5,128.9 173.0,129.1Z" fill="#0000b4" fill-rule="evenodd"/>
<path d="M111.0,76.1 107.4,74.5 105.8,73.0 105.6,72.5 102.5,70.1 98.6,66.5 96.0,63.5 91.0,58.5 89.5,56.5 87.7,53.5 86.3,50.0 86.0,48.5 85.6,48.0 85.6,46.0 85.1,45.5 85.1,44.0 84.7,43.5 84.9,41.5 84.5,41.0 85.3,40.0 93.0,39.1 99.5,38.6 101.0,38.8 104.5,39.9 105.5,40.7 106.0,40.7 107.0,41.6 107.5,41.6 108.5,42.5 109.5,42.8 117.8,52.5 118.8,54.5 119.1,56.5 119.1,58.5 118.4,64.0 119.9,67.5 119.9,68.0 115.4,73.0 113.5,74.6 111.0,76.1ZM172.0,128.1 171.5,127.6 157.5,127.6 157.0,127.0 143.0,127.1 142.9,126.5 140.9,124.5 140.9,124.0 139.6,122.5 139.0,121.5 138.7,120.5 137.5,119.0 137.0,117.7 135.7,116.0 135.6,115.5 137.9,111.5 140.0,107.0 154.5,111.8 158.5,112.8 162.0,113.1 165.5,113.0 182.5,110.6 190.0,112.9 191.0,113.8 192.5,114.7 192.8,116.5 192.7,120.0 193.0,122.0 191.5,122.5 191.0,123.0 190.0,123.2 189.0,124.0 187.5,123.9 187.0,124.5 185.5,124.4 185.0,125.0 183.5,125.0 183.0,125.6 181.0,125.5 180.5,126.1 179.0,126.0 178.5,126.6 176.5,126.6 176.0,127.1 174.5,127.1 174.0,127.6 172.5,127.6 172.0,128.1Z" fill="#00008c" fill-rule="evenodd"/></g></g><g clip-path="url(#clf11)"><rect x="20" y="10" width="225" height="126" fill="#fff"/><g filter="url(#bf)"><path d="M134.5,135.5 87.3,135.5 81.5,133.9 76.0,132.1 71.0,130.1 61.7,126.0 52.5,123.0 20.0,122.9 20.0,10.0 244.5,10.0 244.5,122.9 218.5,122.9 217.1,121.5 216.6,120.0 217.4,114.5 217.0,114.2 214.5,115.5 208.5,116.2 206.8,115.5 204.5,114.0 204.6,112.0 204.1,110.0 203.4,108.5 201.8,106.5 200.0,105.3 187.5,98.8 185.5,98.6 181.0,99.4 179.0,99.2 174.5,100.0 173.0,99.9 168.0,100.7 166.5,100.4 161.5,101.1 160.0,100.8 158.5,101.5 151.5,102.4 149.0,103.0 148.3,103.5 137.8,104.0 137.6,105.0 135.9,107.0 130.8,115.0 130.2,117.0 130.3,119.0 131.2,121.5 131.1,124.0 131.6,127.0 135.4,135.0 134.9,135.5 134.5,135.5Z" fill="#fefce8" fill-rule="evenodd"/>
<path d="M131.5,135.5 96.5,135.5 94.5,135.1 86.0,133.1 78.0,130.5 66.0,125.5 52.9,121.0 49.7,119.5 46.5,117.6 41.0,113.6 36.7,109.5 33.5,105.0 31.5,100.5 28.9,87.0 28.7,83.5 29.0,80.5 29.7,78.0 30.7,75.5 32.1,73.0 35.7,68.5 40.7,64.0 50.9,56.5 55.0,54.1 57.5,53.2 63.0,51.8 78.5,48.9 90.5,47.2 97.5,46.6 104.5,46.3 118.5,46.6 126.5,47.3 134.0,48.3 141.0,49.6 148.0,51.4 154.5,53.4 169.5,58.7 188.8,66.0 197.5,70.0 204.5,74.4 207.7,77.0 210.3,79.5 212.5,82.0 214.2,84.5 216.2,88.5 218.8,96.5 219.3,100.5 219.0,104.5 218.0,106.0 215.0,108.9 209.0,112.0 207.0,111.0 206.0,108.5 205.2,107.0 204.0,105.5 202.5,104.3 189.5,97.7 187.5,97.0 185.5,97.1 181.5,97.7 179.0,97.7 175.0,98.4 173.0,98.3 168.5,99.3 166.5,99.2 162.0,99.9 160.0,99.7 158.0,100.5 152.0,101.3 149.0,102.1 148.0,102.7 146.4,103.0 142.6,103.5 138.0,103.6 136.4,105.0 134.4,107.5 129.5,115.1 128.6,117.5 128.5,119.0 129.3,122.5 128.6,124.5 128.5,125.5 129.5,128.5 132.7,135.0 131.5,135.5Z" fill="#fdf9c6" fill-rule="evenodd"/>
<path d="M126.5,135.5 105.4,135.5 97.5,134.3 89.5,132.5 79.7,129.5 59.2,121.5 53.0,118.6 47.5,115.2 42.9,111.5 39.2,107.5 36.6,103.5 35.1,99.5 32.6,86.5 32.5,83.0 32.9,80.0 33.7,77.5 34.9,75.0 36.4,72.5 38.9,69.5 41.4,67.0 52.5,58.0 56.0,55.8 61.0,53.7 64.0,53.0 72.5,51.9 84.0,49.9 92.5,48.8 105.5,48.0 119.0,48.4 132.0,49.9 139.5,51.3 146.0,52.9 152.5,54.9 168.0,60.5 186.5,67.4 195.0,71.4 201.5,75.5 206.7,80.0 208.8,82.5 210.6,85.0 212.7,89.5 214.9,96.5 215.1,98.5 214.5,101.5 213.5,104.0 211.4,106.0 208.5,108.0 206.2,104.5 203.5,102.2 190.5,95.5 189.0,95.0 187.0,94.6 185.5,94.8 181.5,95.7 179.0,95.9 175.5,96.7 173.0,96.7 168.5,97.7 166.5,97.6 162.5,98.4 160.0,98.4 158.0,99.3 151.5,100.3 149.0,101.0 147.5,101.9 146.5,102.1 142.5,102.8 138.0,103.0 137.0,103.3 133.3,107.5 132.1,109.5 128.4,114.5 127.4,116.5 126.9,118.5 126.6,122.0 125.9,125.0 126.2,130.5 127.2,135.0 126.5,135.5Z" fill="#fcf68c" fill-rule="evenodd"/>
<path d="M120.0,135.2 119.0,135.4 114.0,135.2 103.5,134.1 94.6,132.5 86.0,130.3 79.5,128.0 60.1,120.5 53.2,117.0 47.3,113.0 43.4,109.5 40.5,106.0 38.3,102.0 37.0,98.0 35.0,86.5 34.8,82.5 35.4,79.5 36.3,77.0 37.5,74.5 39.2,72.0 43.5,67.5 53.8,59.0 58.5,56.0 62.5,54.4 86.5,50.7 95.5,49.6 108.0,49.1 120.5,49.6 127.0,50.3 133.5,51.3 140.0,52.6 146.0,54.2 166.5,61.3 186.0,68.7 193.5,72.3 200.1,76.5 205.1,81.0 207.1,83.5 208.7,86.0 209.9,88.5 211.3,92.5 211.8,94.0 211.9,95.5 211.9,98.0 211.5,100.5 210.0,102.6 207.0,100.3 204.5,99.0 196.0,95.8 190.5,93.4 188.5,92.9 186.5,92.7 182.0,93.7 179.0,93.9 175.5,94.8 173.5,94.9 169.0,96.2 166.5,96.2 162.5,97.1 160.0,97.0 157.5,98.1 151.5,99.3 148.5,100.3 147.0,101.2 144.5,101.8 141.5,102.4 137.5,102.5 136.5,102.9 132.3,107.5 126.6,115.5 125.1,119.0 123.9,123.5 123.5,124.1 122.1,125.0 121.3,126.5 121.1,127.5 121.3,131.0 120.5,135.0 120.0,135.2Z" fill="#fdf450" fill-rule="evenodd"/>
<path d="M113.5,128.7 105.5,127.9 69.5,122.9 64.4,121.0 57.5,117.7 53.0,115.1 49.3,112.5 45.5,109.0 42.6,105.5 40.6,102.0 39.4,98.0 37.3,86.5 37.1,82.5 37.7,79.5 38.6,77.0 39.9,74.5 41.7,72.0 45.5,68.0 55.9,59.0 59.8,56.5 63.5,55.1 75.5,53.6 89.0,51.5 97.5,50.6 110.0,50.2 122.0,50.9 134.5,52.7 140.5,54.0 146.0,55.5 165.0,62.1 185.7,70.0 193.5,74.0 199.5,78.2 202.1,80.5 204.3,83.0 206.1,85.5 207.4,88.0 208.6,91.5 208.7,94.0 208.5,94.6 201.5,93.0 192.5,89.6 190.0,89.2 187.5,89.2 185.0,89.7 181.6,91.5 176.0,92.7 173.5,92.9 169.0,94.3 167.0,94.5 163.0,95.6 160.0,95.7 157.5,96.7 151.0,98.0 148.5,99.1 147.0,100.2 143.0,101.5 141.0,101.9 137.5,101.9 136.5,102.2 135.3,103.0 133.5,105.2 131.4,107.0 125.4,115.0 123.7,118.0 122.3,122.0 118.2,124.5 115.4,126.5 113.5,128.7Z" fill="#fcf01e" fill-rule="evenodd"/>
<path d="M112.5,124.1 111.5,124.4 109.5,124.3 94.0,123.1 86.1,122.0 79.4,120.5 73.5,118.2 63.0,112.8 58.3,109.5 54.6,106.0 52.1,102.5 50.6,99.0 48.2,86.5 48.0,83.5 48.3,81.0 49.1,78.5 50.4,76.0 52.9,72.0 53.7,70.0 53.9,68.0 53.3,63.5 53.5,63.0 56.6,60.0 59.9,57.5 63.0,56.0 66.0,55.4 73.5,54.8 75.5,54.7 83.0,55.9 87.5,56.3 91.5,56.3 102.5,55.5 109.5,55.4 118.0,55.8 126.5,56.8 134.0,58.2 141.5,60.3 158.5,66.3 175.5,72.7 180.5,74.8 184.0,76.6 188.0,79.2 190.9,81.5 190.5,82.0 187.5,83.0 183.0,85.5 182.0,85.7 176.5,89.4 173.0,91.0 169.5,92.2 167.0,92.5 163.0,93.7 160.0,94.1 157.0,95.5 150.5,96.8 148.0,98.0 146.5,99.1 141.9,101.0 140.0,101.4 137.5,101.4 135.7,102.0 129.6,107.5 127.0,111.1 123.6,115.0 121.5,118.8 120.0,120.4 116.5,122.9 112.5,124.1Z" fill="#fdd400" fill-rule="evenodd"/>
<path d="M111.5,122.0 110.5,122.2 108.5,122.0 101.6,121.0 97.0,119.9 92.5,118.3 74.0,109.0 69.6,106.0 66.6,103.0 65.0,100.5 63.9,98.0 61.5,85.0 61.8,81.5 63.5,75.4 62.5,73.0 58.3,66.0 57.3,63.0 57.3,61.0 59.4,59.0 61.5,57.5 64.0,56.5 67.0,56.0 71.0,55.8 76.0,56.8 89.2,60.5 95.0,61.8 113.0,62.0 119.0,62.5 125.0,63.4 130.5,64.6 135.5,66.1 167.0,77.7 172.2,80.0 172.7,82.5 172.6,85.0 166.5,90.5 163.5,91.5 160.0,92.1 156.5,93.7 150.5,95.4 148.0,96.5 146.5,97.7 141.7,100.0 139.5,100.7 137.0,100.9 135.0,101.7 128.3,107.5 122.6,114.0 121.0,116.2 115.5,120.6 111.5,122.0Z" fill="#fda400" fill-rule="evenodd"/>
<path d="M110.0,118.5 103.5,117.0 97.2,114.5 81.0,106.3 77.6,104.0 75.1,101.5 73.7,99.5 72.7,97.0 71.5,89.5 70.5,85.0 70.3,79.5 69.9,77.5 69.0,75.5 67.1,72.5 62.8,68.0 60.7,65.0 60.2,63.5 60.0,61.5 60.3,60.0 61.1,59.0 62.6,58.0 64.5,57.2 67.0,56.8 68.5,56.8 73.0,57.6 77.5,58.8 83.5,60.7 89.4,63.0 97.0,65.0 102.5,65.8 116.5,66.6 121.0,67.2 125.5,68.2 130.5,69.7 156.0,79.1 156.7,79.5 157.7,81.0 160.7,84.0 159.9,87.0 158.3,90.0 156.5,91.2 149.5,93.4 147.3,95.0 146.3,96.0 140.1,99.0 139.5,99.5 137.0,99.6 135.5,100.3 126.3,107.5 121.0,113.0 115.0,116.8 110.0,118.5Z" fill="#f96c00" fill-rule="evenodd"/>
<path d="M112.0,113.5 110.0,114.0 104.0,111.9 88.3,104.0 85.9,102.5 83.6,100.5 82.5,99.0 81.5,97.0 80.1,89.0 79.5,86.5 77.3,81.0 76.2,79.0 74.7,77.0 68.9,71.0 65.1,67.5 63.5,65.5 62.5,63.5 62.3,62.0 62.7,60.5 63.5,59.4 65.0,58.6 67.0,58.3 70.0,58.6 73.5,59.2 80.5,61.2 96.0,67.0 100.5,68.4 106.0,69.6 117.5,71.0 123.0,72.3 144.0,79.8 144.4,80.0 147.5,83.4 148.8,84.5 147.6,90.5 146.8,91.0 145.8,93.0 144.7,94.0 142.2,96.0 139.0,97.5 136.5,97.9 135.0,98.5 133.5,99.7 132.0,101.7 127.7,104.5 122.5,108.5 115.5,112.5 112.0,113.5Z" fill="#f23400" fill-rule="evenodd"/>
<path d="M112.0,109.0 111.0,109.2 109.5,108.6 95.0,101.3 91.8,99.0 91.0,98.0 90.2,96.5 89.9,94.0 88.6,89.0 87.0,86.0 81.0,79.5 72.5,72.1 66.6,66.5 65.4,65.0 64.8,63.5 64.8,62.0 65.4,61.0 67.0,60.2 70.0,60.1 73.5,60.5 78.0,61.6 82.5,63.2 101.0,70.6 107.0,72.5 118.5,75.7 132.3,81.0 135.4,85.0 135.2,86.5 135.4,87.0 140.0,91.0 139.7,92.0 140.2,93.5 140.0,94.5 138.0,96.0 136.0,96.2 133.5,97.4 131.7,99.0 130.4,101.5 127.0,103.4 123.5,105.9 118.5,107.1 116.5,108.1 112.0,109.0Z" fill="#e60800" fill-rule="evenodd"/>
<path d="M122.5,103.5 118.0,103.6 113.0,102.9 102.3,97.5 100.9,96.0 100.6,93.5 100.1,92.5 99.9,91.0 99.3,90.0 98.7,88.0 96.8,85.5 83.0,77.1 75.5,71.9 73.3,70.0 69.9,66.5 69.1,65.0 69.0,64.0 69.3,63.5 69.8,63.0 71.0,62.6 74.5,62.6 78.6,63.5 85.0,65.8 103.5,74.2 115.0,79.2 122.4,83.5 124.5,84.4 126.7,86.0 132.2,91.0 133.3,92.5 133.1,93.5 131.0,94.8 129.0,96.7 127.6,99.0 126.6,101.5 124.5,103.0 122.5,103.5Z" fill="#c80000" fill-rule="evenodd"/>
<path d="M120.5,100.2 118.5,100.2 114.5,99.4 107.5,96.0 106.9,95.5 106.6,93.0 106.0,92.0 105.8,90.5 105.1,89.5 104.3,87.5 102.5,85.4 100.2,83.5 98.1,81.0 88.0,77.1 81.5,73.6 78.3,71.5 75.9,69.5 74.2,67.0 74.2,66.0 74.8,65.5 75.5,65.3 77.5,65.4 81.0,66.1 84.9,67.5 93.0,71.5 103.5,77.8 105.0,78.5 109.0,79.4 112.0,80.5 117.3,83.5 126.3,90.5 126.3,91.0 124.5,92.9 123.0,95.1 122.0,97.0 120.9,100.0 120.5,100.2Z" fill="#a30000" fill-rule="evenodd"/>
<path d="M208.0,135.5 139.1,135.5 140.2,134.5 139.0,133.8 137.5,132.3 134.0,125.9 133.7,125.0 133.7,123.0 133.2,120.5 131.8,117.5 131.8,116.0 134.5,112.0 135.5,110.0 136.0,109.5 136.1,108.5 136.7,108.0 136.8,107.0 137.3,106.5 137.5,105.7 138.0,105.3 138.5,104.4 148.5,103.9 149.0,103.4 159.0,102.9 160.0,102.2 161.0,102.6 166.0,101.9 167.5,102.2 172.5,101.4 174.5,101.6 178.5,101.1 180.5,101.4 185.5,100.7 187.0,100.9 199.0,107.1 200.5,108.1 201.5,109.5 202.2,111.5 202.2,113.0 201.6,117.0 203.0,118.4 205.3,119.5 207.3,121.5 209.5,121.8 211.7,125.0 212.3,127.0 212.2,128.5 211.7,130.0 209.9,133.5 208.4,135.5 208.0,135.5Z" fill="#f0f7fc" fill-rule="evenodd"/>
<path d="M201.0,135.5 151.9,135.5 154.0,135.0 154.5,134.6 155.0,133.5 143.0,133.3 141.5,133.1 140.0,132.4 139.0,131.5 136.9,128.0 135.5,124.5 135.2,122.0 134.5,120.5 134.3,119.5 132.9,117.0 132.8,116.0 134.0,114.2 134.5,113.9 134.6,113.0 135.1,112.5 135.2,111.5 135.8,111.0 135.9,110.0 136.4,109.5 136.5,108.5 137.0,108.1 138.0,106.0 139.0,104.8 148.5,104.4 150.0,103.8 159.5,103.3 160.0,102.8 160.5,103.2 166.0,103.0 167.0,103.3 172.5,102.5 174.0,102.8 178.5,102.2 180.0,102.5 185.0,101.9 186.2,102.0 196.5,107.6 198.5,108.5 199.5,109.3 200.3,110.5 200.6,112.0 199.9,116.5 200.0,118.1 201.2,120.0 202.0,120.7 206.5,123.7 207.4,125.5 207.7,126.5 207.5,128.0 206.1,131.0 203.5,134.0 201.5,135.4 201.0,135.5Z" fill="#d9eef9" fill-rule="evenodd"/>
<path d="M190.5,135.5 161.4,135.5 162.7,133.0 162.7,132.5 157.0,132.3 155.0,131.7 142.0,131.4 141.0,131.0 140.0,130.1 139.0,128.1 138.2,127.0 136.9,124.0 136.5,121.5 135.5,119.7 135.3,118.5 134.5,117.0 133.6,116.0 134.2,115.5 134.3,114.5 134.9,114.0 135.0,113.0 135.5,112.5 137.7,107.5 138.6,106.0 139.5,105.2 148.5,104.8 150.0,104.3 159.5,103.7 160.0,103.5 160.5,103.7 166.0,103.4 166.5,103.8 172.5,103.5 173.0,103.9 178.5,103.3 180.0,103.6 185.0,103.0 186.0,103.1 196.0,108.7 197.5,109.3 198.5,110.0 199.1,111.0 199.3,112.0 198.5,116.5 198.5,118.0 198.2,119.5 202.0,123.3 204.5,124.7 204.9,125.5 204.7,127.0 203.9,129.0 202.4,131.0 200.5,132.6 197.5,134.0 190.5,135.5Z" fill="#b9e0f5" fill-rule="evenodd"/>
<path d="M181.0,135.5 170.3,135.5 169.7,134.5 170.1,131.5 169.5,131.2 157.5,130.9 155.5,130.3 143.0,130.2 141.5,129.7 140.8,129.0 140.1,127.5 139.1,126.0 137.7,122.0 137.9,121.0 136.2,119.0 136.2,118.5 134.1,116.0 134.6,115.5 139.0,106.4 139.5,105.8 140.0,105.7 148.5,105.3 150.0,104.8 160.0,104.1 165.5,103.9 166.5,104.3 172.5,103.9 173.0,104.3 178.5,104.1 179.0,104.6 185.0,104.0 187.2,105.0 189.5,106.5 191.5,107.3 195.1,109.5 197.4,110.5 197.8,111.0 198.1,112.0 197.7,113.5 197.7,115.0 197.3,116.0 197.4,118.0 197.0,119.0 197.1,120.0 197.8,122.0 200.1,123.5 202.4,126.0 202.6,126.5 202.4,127.0 201.6,128.5 199.5,130.7 197.0,131.9 181.0,135.5Z" fill="#8fcdef" fill-rule="evenodd"/>
<path d="M194.0,130.6 191.0,131.0 189.5,130.5 188.5,130.7 187.5,130.5 186.5,130.8 185.5,130.6 184.0,130.9 183.3,130.5 183.0,129.5 182.5,129.1 181.5,129.6 180.5,129.3 179.0,129.7 177.5,129.1 176.5,129.6 175.5,129.6 175.0,129.9 173.5,130.0 173.0,130.4 172.0,130.6 170.5,129.9 157.5,129.6 156.0,129.1 142.5,128.8 141.5,128.0 141.3,127.0 140.0,125.0 139.9,123.5 138.3,121.5 138.3,121.0 136.7,119.0 136.5,118.0 135.0,116.0 139.5,106.5 140.0,106.1 148.5,105.8 150.0,105.3 165.0,104.4 166.5,104.8 172.0,104.4 173.0,104.8 178.5,104.5 179.0,104.9 185.0,104.7 186.0,105.6 186.5,105.6 187.5,106.6 188.0,106.6 189.0,107.5 189.5,107.5 190.0,108.0 190.5,108.0 191.5,108.9 192.2,109.0 194.7,110.5 196.5,111.2 197.0,112.0 196.5,113.0 196.6,114.5 196.1,115.5 196.2,117.5 195.8,118.5 195.9,120.5 195.7,121.0 195.8,121.5 199.1,125.0 199.6,126.0 199.8,127.5 199.0,128.6 197.5,129.6 196.0,130.2 194.0,130.6Z" fill="#5ea8e6" fill-rule="evenodd"/>
<path d="M172.0,129.1 171.0,128.5 157.5,128.2 156.5,127.6 143.0,127.5 142.6,127.0 142.6,126.5 140.8,124.5 140.8,124.0 140.0,123.0 139.0,121.2 138.9,120.5 137.5,118.7 137.1,117.5 135.9,116.0 135.8,115.5 139.5,108.0 140.0,107.3 143.0,107.2 146.7,106.5 149.5,106.3 150.5,105.9 165.0,105.1 166.5,105.4 171.5,105.1 173.0,105.4 178.0,105.2 179.0,105.6 184.5,105.2 185.7,106.0 186.5,106.2 187.4,107.0 188.0,107.0 189.0,108.0 189.5,108.0 190.0,108.5 190.5,108.4 191.5,109.4 192.0,109.4 193.0,110.4 193.5,110.4 194.5,111.3 195.0,111.3 195.5,111.8 196.2,112.0 195.7,112.5 195.8,114.5 195.3,115.0 195.3,117.5 194.8,118.0 194.9,120.0 194.4,120.5 194.5,122.1 195.8,123.5 196.6,125.0 196.2,126.0 195.5,126.6 194.5,126.7 193.0,126.1 192.5,126.4 192.0,126.4 191.0,125.6 190.5,126.1 190.0,126.2 188.6,125.0 188.0,124.9 187.0,125.6 186.0,125.5 185.5,126.0 184.0,126.1 183.0,126.6 181.5,126.6 181.0,127.0 179.5,127.1 178.5,127.6 177.0,127.6 176.5,128.0 175.0,128.1 174.5,128.5 173.0,128.6 172.0,129.1Z" fill="#2f74dc" fill-rule="evenodd"/>
<path d="M172.0,128.2 171.5,127.7 157.5,127.6 157.0,127.1 143.0,127.0 143.0,126.4 141.6,124.5 141.4,123.5 139.7,121.0 139.4,120.0 138.2,118.5 137.6,117.0 136.5,115.5 138.5,111.8 144.5,111.6 150.0,110.7 153.0,109.8 156.0,108.6 158.1,107.5 160.1,106.0 164.5,105.7 166.5,106.1 171.5,105.7 173.0,106.1 177.5,105.8 179.0,106.2 184.5,105.9 195.0,112.2 195.2,114.0 194.7,115.0 194.8,117.0 194.3,118.0 194.4,119.5 193.9,120.5 194.3,123.0 194.0,123.3 192.0,123.1 191.5,123.7 190.0,123.6 189.5,124.2 187.5,124.1 187.0,124.7 185.5,124.7 185.0,125.2 183.5,125.2 183.0,125.7 181.0,125.7 180.5,126.2 179.0,126.2 178.5,126.7 176.5,126.7 176.0,127.2 174.5,127.2 174.0,127.7 172.5,127.7 172.0,128.2Z" fill="#1040d8" fill-rule="evenodd"/>
<path d="M173.5,127.1 172.0,127.2 171.5,127.0 158.5,126.9 157.0,126.3 144.0,126.2 142.3,124.0 142.0,122.8 140.4,120.5 140.0,119.4 138.9,118.0 138.6,117.0 139.0,116.6 146.0,116.2 151.0,115.5 158.5,113.7 162.5,112.1 165.5,110.5 168.3,108.5 170.3,106.5 171.5,106.5 172.5,106.8 177.5,106.5 179.0,106.9 184.0,106.6 193.0,111.8 194.4,113.0 193.9,115.0 194.0,116.5 193.5,118.0 193.5,119.5 193.1,120.5 193.3,122.0 193.0,122.3 191.5,122.4 191.0,122.8 189.5,122.9 189.0,123.3 187.0,123.5 186.5,123.9 185.5,123.9 184.5,124.4 183.2,124.5 182.5,125.0 181.0,125.0 180.0,125.5 178.5,125.6 178.0,126.0 176.5,126.0 175.5,126.5 174.0,126.7 173.5,127.1Z" fill="#0008d8" fill-rule="evenodd"/>
<path d="M173.0,126.0 158.5,125.8 157.0,125.2 144.5,125.1 143.3,123.5 143.1,122.5 143.5,122.2 151.0,121.8 158.1,121.0 163.3,120.0 168.4,118.5 173.2,116.5 177.6,114.0 181.5,111.0 184.0,108.2 185.3,108.5 189.5,110.8 192.5,112.6 193.4,113.5 193.0,114.5 193.0,116.5 192.6,117.5 192.6,119.0 192.0,121.2 190.5,121.7 189.5,121.8 188.5,122.3 187.0,122.3 184.0,123.3 183.0,123.4 182.0,123.9 180.5,123.9 177.5,125.0 176.0,125.0 173.0,126.0Z" fill="#0000b4" fill-rule="evenodd"/></g></g>
<polyline fill="none" stroke="#2474b5" stroke-width="1.3" points="27.5,42.6 43,42.8 60,40.6 132,34 165.4,32.4 169.7,29.85 237.6,29.4"/>
</g></g>
<g transform="translate(215.3,132.2)">
<g clip-path="url(#clipp11b)"><polyline fill="none" stroke="#111" stroke-width="1.05" points="27.5,49.7 39.3,51.8 51.6,54.8 63.9,58.3 76.2,62.8 88.5,69 100.8,75 118.75,85 137.5,96.25 156.25,108.4 175,121 186.3,129.6 188,131"/></g>
<rect x="174.9" y="26.1" width="3.8" height="3.8" fill="#000"/>
<rect x="222.8" y="26.1" width="3.8" height="3.8" fill="#000"/>
<g fill="#fff" stroke="#1a1a1a" stroke-width="0.85"><circle cx="102.3" cy="43" r="2.35"/><circle cx="92.6" cy="49.4" r="2.35"/><circle cx="96.7" cy="50.3" r="2.35"/><circle cx="109.3" cy="57.4" r="2.35"/><circle cx="106" cy="64.8" r="2.35"/><circle cx="113.5" cy="66.2" r="2.35"/><circle cx="137.2" cy="53.7" r="2.35"/><circle cx="148.7" cy="49.3" r="2.35"/><circle cx="145.3" cy="55.4" r="2.35"/><circle cx="148.1" cy="55.4" r="2.35"/><circle cx="133.6" cy="62.1" r="2.35"/><circle cx="137.3" cy="63" r="2.35"/><circle cx="140" cy="61.7" r="2.35"/><circle cx="136.8" cy="66.4" r="2.35"/><circle cx="127" cy="65.4" r="2.35"/><circle cx="119.4" cy="68.1" r="2.35"/><circle cx="122.4" cy="68" r="2.35"/><circle cx="108.1" cy="68.2" r="2.35"/><circle cx="165.2" cy="44.2" r="2.35"/><circle cx="163.1" cy="46.4" r="2.35"/><circle cx="157.2" cy="48.2" r="2.35"/><circle cx="148.2" cy="51.7" r="2.35"/><circle cx="156" cy="51.9" r="2.35"/><circle cx="153.9" cy="55.8" r="2.35"/><circle cx="157.9" cy="55.5" r="2.35"/><circle cx="161.4" cy="54.1" r="2.35"/><circle cx="164.1" cy="56.7" r="2.35"/><circle cx="168.2" cy="54.1" r="2.35"/><circle cx="152.2" cy="59.6" r="2.35"/><circle cx="161.4" cy="61.5" r="2.35"/><circle cx="160.9" cy="57.8" r="2.35"/><circle cx="150.9" cy="66" r="2.35"/><circle cx="154.6" cy="66.1" r="2.35"/><circle cx="150.5" cy="50.2" r="2.35"/><circle cx="150" cy="52.9" r="2.35"/><circle cx="150.8" cy="69.7" r="2.35"/><circle cx="191.9" cy="43.9" r="2.35"/><circle cx="190.4" cy="47.3" r="2.35"/><circle cx="69.5" cy="42.6" r="2.35"/><circle cx="111.2" cy="67" r="2.35"/><circle cx="111.7" cy="70.8" r="2.35"/><circle cx="115.5" cy="70.8" r="2.35"/><circle cx="126.3" cy="70.2" r="2.35"/><circle cx="118.7" cy="75.6" r="2.35"/><circle cx="121.4" cy="76.2" r="2.35"/><circle cx="124.6" cy="73.5" r="2.35"/><circle cx="126.8" cy="76.7" r="2.35"/><circle cx="130.6" cy="74" r="2.35"/><circle cx="125.2" cy="79.4" r="2.35"/><circle cx="127.9" cy="81" r="2.35"/><circle cx="131.6" cy="78.3" r="2.35"/><circle cx="133.8" cy="79.9" r="2.35"/><circle cx="137.1" cy="74.2" r="2.35"/><circle cx="140.1" cy="70.8" r="2.35"/><circle cx="140.6" cy="73.5" r="2.35"/><circle cx="141.3" cy="75.6" r="2.35"/><circle cx="139.2" cy="80.2" r="2.35"/><circle cx="133.3" cy="84.8" r="2.35"/><circle cx="136.8" cy="86.8" r="2.35"/><circle cx="138.7" cy="84" r="2.35"/><circle cx="143.3" cy="84.8" r="2.35"/><circle cx="148.5" cy="69.8" r="2.35"/><circle cx="146.3" cy="74.5" r="2.35"/><circle cx="149" cy="74.2" r="2.35"/><circle cx="154.4" cy="76.6" r="2.35"/><circle cx="157.1" cy="79.5" r="2.35"/><circle cx="152.2" cy="81.4" r="2.35"/><circle cx="170" cy="79.5" r="2.35"/><circle cx="166.3" cy="81.7" r="2.35"/><circle cx="162.5" cy="83.5" r="2.35"/><circle cx="136.1" cy="79" r="2.35"/><circle cx="149" cy="84.6" r="2.35"/><circle cx="146.3" cy="88.5" r="2.35"/><circle cx="158.2" cy="87.6" r="2.35"/><circle cx="162.8" cy="87.4" r="2.35"/><circle cx="165.7" cy="90.6" r="2.35"/><circle cx="167.9" cy="93.2" r="2.35"/><circle cx="169.5" cy="95.9" r="2.35"/><circle cx="147.9" cy="92.9" r="2.35"/><circle cx="152.8" cy="93.4" r="2.35"/><circle cx="154.4" cy="90.3" r="2.35"/><circle cx="155.5" cy="95.5" r="2.35"/><circle cx="158.2" cy="93.3" r="2.35"/><circle cx="152.2" cy="97" r="2.35"/><circle cx="157.6" cy="97.3" r="2.35"/><circle cx="161.7" cy="99.2" r="2.35"/><circle cx="177.6" cy="96.3" r="2.35"/><circle cx="154.9" cy="99" r="2.35"/><circle cx="158.2" cy="102.8" r="2.35"/><circle cx="160.9" cy="104.4" r="2.35"/><circle cx="162.5" cy="106.5" r="2.35"/><circle cx="165.2" cy="102.2" r="2.35"/><circle cx="172.2" cy="107.6" r="2.35"/><circle cx="174.7" cy="108.7" r="2.35"/><circle cx="183.7" cy="113.4" r="2.35"/><circle cx="184.7" cy="119.1" r="2.35"/><circle cx="202.1" cy="70.3" r="2.35"/><circle cx="207.5" cy="80.4" r="2.35"/><circle cx="191.8" cy="95.7" r="2.35"/><circle cx="195.1" cy="98.8" r="2.35"/><circle cx="217.1" cy="98" r="2.35"/><circle cx="219.7" cy="100.2" r="2.35"/><circle cx="214.6" cy="102.8" r="2.35"/><circle cx="211.6" cy="113" r="2.35"/><circle cx="209.7" cy="115.5" r="2.35"/><circle cx="192.7" cy="121.8" r="2.35"/><circle cx="197.7" cy="124" r="2.35"/><circle cx="189.4" cy="125.5" r="2.35"/><circle cx="193.9" cy="124.9" r="2.35"/><circle cx="196.4" cy="127.7" r="2.35"/><circle cx="209.9" cy="128" r="2.35"/><circle cx="208.3" cy="129.9" r="2.35"/><circle cx="228.1" cy="51.8" r="2.35"/></g>
</g>
<rect x="242.8" y="147.5" width="209.8" height="116.1" fill="none" stroke="#3c3c3c" stroke-width="1"/>
<line x1="295.6" y1="263.6" x2="295.6" y2="265.6" stroke="#3c3c3c" stroke-width="0.8"/>
<text x="295.6" y="273.9" font-size="9.2" text-anchor="middle" font-family="Liberation Sans, sans-serif" fill="#1a1a1a">−71</text>
<line x1="400.1" y1="263.6" x2="400.1" y2="265.6" stroke="#3c3c3c" stroke-width="0.8"/>
<text x="400.1" y="273.9" font-size="9.2" text-anchor="middle" font-family="Liberation Sans, sans-serif" fill="#1a1a1a">−70</text>
<line x1="241" y1="164.6" x2="242.8" y2="164.6" stroke="#3c3c3c" stroke-width="0.8"/>
<line x1="241" y1="197.7" x2="242.8" y2="197.7" stroke="#3c3c3c" stroke-width="0.8"/>
<line x1="241" y1="230.8" x2="242.8" y2="230.8" stroke="#3c3c3c" stroke-width="0.8"/>
<line x1="241" y1="263.9" x2="242.8" y2="263.9" stroke="#3c3c3c" stroke-width="0.8"/>
<text x="247" y="160.3" font-size="12.2" font-family="Liberation Sans, sans-serif" fill="#1a1a1a">e)</text>
<clipPath id="clipp12"><rect x="459" y="148" width="207.8" height="115.1"/></clipPath>
<clipPath id="clipp12b"><rect x="28" y="15.8" width="207.8" height="115.1"/></clipPath>
<g clip-path="url(#clipp12)"><g transform="translate(431,132.2)">
<clipPath id="cuf12"><path d="M28.9,34.6 L43.0,34.8 L60.0,32.6 L132.0,26.0 L165.4,24.4 L169.7,21.9 L236.2,21.4 L236.2,128.8 L185.2,128.8 L175.0,121.0 L156.2,108.4 L137.5,96.2 L118.8,85.0 L100.8,75.0 L88.5,69.0 L76.2,62.8 L63.9,58.3 L51.6,54.8 L39.3,51.8 L27.5,49.7 L28.9,49.7 Z"/></clipPath><clipPath id="clf12"><path d="M28.9,49.7 L27.5,49.7 L39.3,51.8 L51.6,54.8 L63.9,58.3 L76.2,62.8 L88.5,69.0 L100.8,75.0 L118.8,85.0 L137.5,96.2 L156.2,108.4 L175.0,121.0 L185.2,128.8 L28.9,128.8 Z"/></clipPath><g clip-path="url(#cuf12)"><rect x="20" y="10" width="225" height="126" fill="#fff"/><g filter="url(#bf)"><path d="M244.5,135.5 201.2,135.5 202.2,132.5 204.0,128.5 205.5,122.5 206.6,116.0 203.0,113.2 200.5,110.9 194.5,107.7 185.0,103.3 183.5,103.1 181.5,103.1 172.5,101.6 161.0,102.1 151.6,100.5 148.0,100.1 146.0,100.1 144.5,99.7 143.5,99.1 140.6,96.0 139.8,94.5 138.5,91.0 137.2,85.0 136.9,80.0 137.6,67.5 137.2,65.0 135.8,59.0 136.3,56.5 137.7,54.0 139.8,52.0 140.5,51.6 152.0,50.8 162.5,49.5 170.0,49.2 174.4,44.0 174.1,42.0 173.4,40.0 172.9,36.0 172.3,34.5 172.2,32.0 172.6,30.5 173.2,29.5 174.0,28.9 176.0,28.1 207.0,28.1 221.0,28.7 244.5,28.9 244.5,135.5ZM88.5,72.6 87.5,73.0 81.0,70.2 71.0,65.2 66.0,62.0 62.6,59.0 60.3,56.0 59.8,54.5 59.7,53.5 59.8,52.5 60.3,51.5 62.0,50.1 64.0,49.6 66.5,49.6 70.0,50.2 75.0,51.6 81.0,53.7 88.0,58.3 90.0,60.4 91.5,62.5 92.6,65.0 93.1,67.0 92.8,68.5 92.0,69.9 91.0,70.9 88.5,72.6Z" fill="#fefce8" fill-rule="evenodd"/>
<path d="M244.5,135.5 205.9,135.5 207.5,133.4 208.7,130.5 211.2,119.0 211.3,117.0 211.0,115.5 210.1,113.5 209.5,112.8 208.0,113.1 200.5,109.2 197.5,108.2 192.5,105.7 185.5,102.6 182.0,102.5 180.0,101.9 172.5,101.0 170.5,101.3 163.0,101.4 161.5,101.7 152.0,99.9 146.5,99.3 144.5,98.6 142.0,96.0 140.5,93.3 139.6,91.0 137.9,83.0 137.8,79.5 138.6,67.5 138.3,64.0 137.7,60.5 139.0,55.8 141.0,53.6 152.5,53.2 164.0,52.2 170.0,52.1 173.0,49.4 176.7,44.5 176.3,41.0 175.7,40.0 175.3,35.5 174.8,34.5 174.7,33.0 174.8,32.0 175.3,31.0 176.5,29.9 177.6,29.5 208.0,29.5 229.0,30.8 244.5,31.0 244.5,135.5ZM88.0,71.1 86.5,71.1 80.0,68.2 72.5,64.3 68.3,61.5 65.5,59.0 63.6,56.5 63.0,54.5 63.0,53.5 63.5,52.5 64.8,51.5 67.0,51.1 69.5,51.2 73.0,51.9 81.0,54.4 87.5,58.5 88.6,59.5 90.6,62.0 91.8,64.5 92.3,66.5 92.0,68.0 91.4,69.0 90.0,70.2 88.0,71.1Z" fill="#fdf9c6" fill-rule="evenodd"/>
<path d="M220.5,116.6 219.0,117.0 217.0,113.5 212.5,109.0 212.0,108.8 207.5,110.0 207.0,109.9 202.5,108.1 197.5,107.0 191.5,104.2 186.0,101.9 184.5,101.7 182.0,101.9 181.0,101.2 176.0,100.6 172.5,100.5 170.0,100.8 169.0,100.6 162.5,100.9 161.5,101.2 154.0,99.9 146.0,98.3 145.4,98.0 143.4,96.0 140.9,91.5 139.4,86.0 138.7,81.5 139.0,73.5 139.8,67.0 139.6,62.5 140.1,60.0 141.7,56.5 142.0,56.1 153.5,56.2 170.5,55.1 171.1,54.0 177.5,47.5 177.8,47.0 177.5,46.4 178.9,45.0 178.4,40.5 177.7,39.0 177.3,34.5 176.8,33.5 177.2,32.0 178.0,31.1 179.0,30.6 203.0,30.5 211.0,30.7 217.7,31.5 219.2,32.0 220.9,33.0 221.8,34.0 225.7,39.5 230.5,57.5 231.6,60.5 233.0,62.9 235.0,65.1 237.5,66.6 241.0,67.8 244.5,68.2 244.5,112.1 241.0,112.3 236.8,113.0 220.5,116.6ZM87.5,70.0 86.0,69.8 80.0,67.1 74.5,64.2 70.3,61.5 67.5,59.0 66.1,57.0 65.4,55.0 65.9,53.5 67.0,52.7 69.0,52.4 71.5,52.5 75.0,53.2 81.5,55.4 87.3,59.0 88.4,60.0 90.3,62.5 91.2,64.5 91.5,66.0 91.3,67.5 90.5,68.6 89.5,69.3 87.5,70.0Z" fill="#fcf68c" fill-rule="evenodd"/>
<path d="M218.5,107.5 218.0,107.5 214.5,104.9 214.0,104.8 212.0,106.0 206.5,107.7 202.5,106.5 197.5,105.7 187.5,101.5 185.5,101.0 182.5,101.0 181.0,100.3 178.5,100.2 177.0,99.9 174.5,100.2 172.0,100.1 170.5,100.4 169.0,100.2 162.5,100.5 161.5,100.7 154.5,99.6 148.0,98.2 146.1,97.5 144.2,95.5 141.6,91.0 140.2,86.0 139.8,83.0 139.4,81.5 139.5,76.0 140.8,66.5 140.9,64.0 142.8,59.5 143.0,59.3 154.0,59.0 163.5,58.3 170.5,58.4 174.6,53.0 177.5,50.0 178.0,49.0 181.5,46.2 182.3,46.0 181.0,43.3 180.6,40.0 180.1,38.5 179.5,33.0 179.5,32.5 180.0,31.8 206.0,31.8 210.0,32.2 213.0,33.1 214.6,34.5 217.9,39.5 223.6,61.0 225.2,65.0 227.0,68.2 228.5,69.9 230.0,71.3 234.0,73.6 239.0,75.2 244.5,75.9 244.5,102.8 240.5,103.1 236.5,103.7 218.5,107.5ZM88.0,69.0 87.0,69.2 86.0,69.1 83.0,67.8 77.5,65.1 72.5,62.0 70.0,60.0 68.2,58.0 67.3,56.0 67.5,54.5 68.5,53.7 70.0,53.4 72.0,53.4 75.0,53.9 81.5,55.9 86.0,58.6 87.8,60.0 89.1,61.5 90.3,63.5 90.8,65.0 90.8,66.5 90.4,67.5 89.5,68.4 88.0,69.0Z" fill="#fdf450" fill-rule="evenodd"/>
<path d="M206.0,105.0 204.5,105.2 199.5,104.6 191.5,102.0 187.5,100.5 182.5,99.9 181.0,99.3 178.5,99.3 177.5,99.1 174.5,99.7 172.0,99.6 170.5,99.9 168.5,99.8 167.0,100.1 165.0,100.0 161.0,100.3 160.4,100.0 156.5,99.5 148.5,97.8 146.5,97.0 145.6,96.0 142.5,91.0 141.0,86.5 140.7,83.0 140.0,80.0 140.5,73.0 142.0,65.6 144.0,62.2 163.0,60.6 167.0,60.7 171.0,61.3 175.5,55.0 177.0,53.5 178.0,51.5 181.5,48.8 186.0,49.8 189.5,51.0 199.0,55.6 203.1,58.0 206.3,60.5 208.8,63.0 211.1,66.0 212.9,69.0 214.6,73.5 217.8,85.0 218.3,88.5 218.3,92.0 217.7,95.0 216.7,98.0 215.3,100.5 214.9,101.0 211.0,103.5 206.0,105.0ZM88.0,68.2 87.0,68.4 86.0,68.3 84.0,67.6 79.0,65.2 74.5,62.5 71.8,60.5 69.9,58.5 69.1,57.0 69.1,55.5 70.0,54.7 71.0,54.4 73.0,54.3 75.5,54.6 81.5,56.4 85.5,58.8 88.1,61.0 89.5,63.0 90.1,64.5 90.0,66.6 89.3,67.5 88.0,68.2Z" fill="#fcf01e" fill-rule="evenodd"/>
<path d="M203.5,103.0 202.0,103.3 200.0,103.1 195.5,101.5 188.0,99.5 183.0,98.9 181.5,98.4 177.5,98.2 174.5,99.2 171.5,99.2 170.0,99.5 168.5,99.3 167.0,99.6 165.0,99.5 164.0,99.7 161.0,99.7 159.5,99.3 158.0,99.3 155.0,98.8 149.0,97.4 147.5,96.8 146.5,96.0 145.7,95.0 143.3,91.0 141.4,86.0 141.5,83.0 140.7,80.0 141.1,74.0 141.5,71.8 143.0,66.9 145.0,64.7 155.0,63.9 160.5,63.2 166.0,63.1 171.0,64.2 174.5,61.0 175.5,58.5 178.5,54.1 181.5,51.5 182.0,51.4 190.0,53.8 199.0,58.3 202.3,60.5 205.2,63.0 207.8,66.0 209.7,69.0 211.6,73.5 214.8,85.0 215.3,88.0 215.4,91.0 215.1,93.5 214.4,96.0 213.3,98.5 209.0,101.4 203.5,103.0ZM87.5,67.5 85.5,67.5 83.0,66.5 79.0,64.5 75.0,62.0 72.5,60.0 71.3,58.5 70.7,57.0 70.9,56.0 71.6,55.5 73.0,55.2 77.0,55.6 81.5,56.9 85.5,59.3 88.0,61.5 89.3,64.0 89.5,65.0 89.3,66.0 88.6,67.0 87.5,67.5Z" fill="#fdd400" fill-rule="evenodd"/>
<path d="M201.5,101.1 199.0,101.0 193.0,99.1 189.0,98.2 187.5,98.0 185.5,98.2 182.0,97.6 181.5,97.4 178.0,97.3 174.5,98.6 170.0,99.0 168.0,98.9 166.5,99.2 162.0,99.0 160.0,98.5 158.5,98.8 157.0,98.7 148.5,96.7 146.9,95.5 145.0,92.7 144.0,91.0 142.0,86.0 142.1,83.0 141.5,79.5 141.9,74.0 142.2,72.0 143.6,68.5 145.0,66.9 162.0,65.0 166.5,65.2 169.0,65.9 171.0,66.9 171.5,66.9 173.0,65.9 176.4,62.0 177.9,59.5 177.9,58.5 178.7,56.5 182.0,54.2 190.0,56.5 196.5,59.7 199.5,61.6 202.4,64.0 204.7,66.5 206.7,69.5 208.6,74.0 211.8,85.5 212.2,88.0 212.1,92.5 211.6,95.0 211.0,96.4 207.0,99.2 201.5,101.1ZM87.5,66.7 87.0,66.9 85.0,66.7 81.1,65.0 77.6,63.0 74.8,61.0 73.3,59.5 72.5,58.0 72.5,57.0 73.0,56.5 74.0,56.1 77.0,56.3 81.5,57.5 84.2,59.0 87.4,61.5 88.3,63.0 88.7,65.0 88.3,66.0 87.5,66.7Z" fill="#fda400" fill-rule="evenodd"/>
<path d="M87.0,65.7 85.5,65.9 84.5,65.7 81.7,64.5 79.0,63.0 76.9,61.5 75.3,60.0 74.7,59.0 74.6,58.0 75.5,57.3 77.5,57.2 80.9,58.0 83.1,59.0 85.9,61.0 87.5,62.9 87.8,64.5 87.5,65.2 87.0,65.7ZM173.5,98.0 170.0,98.3 168.5,98.0 166.5,98.0 164.5,97.5 162.5,97.5 160.0,97.0 157.5,97.5 154.5,97.5 154.0,97.2 149.5,96.4 148.1,95.5 145.2,91.5 142.7,86.0 142.8,83.0 142.5,80.0 142.8,74.0 143.1,72.5 144.0,70.4 145.0,69.3 146.0,69.1 163.0,67.1 166.5,67.6 171.5,70.1 172.0,70.0 174.5,68.6 176.0,67.4 176.7,66.5 177.0,65.5 178.5,63.6 179.0,61.9 181.8,58.0 182.5,57.7 190.5,60.2 194.2,62.0 197.2,64.0 200.0,66.5 202.4,69.5 204.0,72.5 208.1,87.0 208.3,90.5 207.9,93.5 205.3,96.0 204.0,97.0 203.0,97.3 195.0,97.4 189.0,96.2 185.5,96.6 182.0,96.2 181.5,95.9 178.5,96.1 173.5,98.0Z" fill="#f96c00" fill-rule="evenodd"/>
<path d="M85.0,64.6 84.5,64.6 82.9,64.0 79.4,62.0 78.3,61.0 77.5,60.0 77.4,59.5 77.7,59.0 79.0,58.7 80.8,59.0 82.5,59.6 83.9,60.5 85.5,62.0 86.1,63.0 86.1,64.0 85.0,64.6ZM174.0,96.5 173.5,96.9 171.0,96.7 169.0,96.3 167.0,96.2 160.5,95.3 159.0,95.3 157.0,95.7 150.0,95.7 149.0,95.0 148.1,94.0 145.7,90.5 143.6,86.0 143.8,83.5 143.5,80.0 143.8,74.5 144.3,72.5 145.0,71.3 147.0,70.8 149.0,70.8 163.0,68.8 166.0,69.4 171.5,72.3 175.0,72.0 178.9,69.0 179.5,67.4 181.9,65.0 182.5,63.2 191.0,65.4 194.0,67.5 196.8,70.5 198.7,74.0 202.4,87.0 202.6,90.0 198.0,92.5 185.5,94.6 181.5,94.7 181.0,94.4 179.5,94.4 175.0,96.3 174.0,96.5Z" fill="#f23400" fill-rule="evenodd"/>
<path d="M174.5,95.1 173.5,94.5 171.0,94.3 161.0,92.9 159.0,92.9 156.5,93.4 149.0,93.4 148.5,93.1 146.5,90.0 145.5,87.5 144.5,86.0 144.8,83.5 144.5,80.0 144.8,74.5 145.4,73.0 147.0,72.3 149.5,72.2 155.0,71.3 157.0,71.2 158.5,70.8 163.5,70.3 165.5,70.9 172.0,74.6 174.0,74.8 178.8,73.5 179.5,73.0 180.0,72.0 181.6,71.0 183.0,69.2 186.0,70.3 188.7,72.0 190.5,73.8 191.5,75.4 193.4,82.0 193.9,84.0 192.5,87.1 191.3,88.5 185.0,92.7 183.5,92.9 181.5,92.9 180.5,92.6 176.8,94.0 174.5,95.1Z" fill="#e60800" fill-rule="evenodd"/>
<path d="M175.5,92.7 173.0,90.0 160.5,88.5 156.0,89.0 150.0,89.0 147.0,84.6 146.0,82.7 146.2,82.0 145.9,80.5 146.2,78.0 146.3,74.5 146.5,74.1 147.5,73.7 150.5,73.6 151.5,73.2 154.0,73.1 155.5,72.6 158.0,72.6 159.0,72.2 161.5,72.1 162.5,71.7 163.5,71.7 172.0,76.3 177.0,77.0 178.5,77.7 178.7,78.5 180.0,79.3 180.5,77.7 181.4,78.5 181.5,79.0 183.1,80.0 183.5,80.6 184.0,79.9 184.6,82.0 184.0,83.0 182.6,84.5 182.9,85.5 182.7,86.0 181.4,87.0 181.0,87.8 180.8,87.5 180.9,87.0 180.5,86.1 180.2,87.0 180.7,88.0 180.4,88.5 180.5,88.8 181.0,89.0 181.1,89.5 179.8,90.5 175.5,92.7ZM180.0,77.1 179.8,77.0 180.0,76.8 180.2,77.0 180.0,77.1ZM180.6,85.0 180.5,84.6 180.0,84.6 179.9,85.0 180.5,85.4 180.6,85.0Z" fill="#c80000" fill-rule="evenodd"/>
<path d="M176.0,87.5 173.9,84.0 172.5,80.0 172.0,79.5 172.0,78.5 173.0,78.3 174.5,78.5 175.0,79.0 175.0,80.0 175.8,81.0 175.5,82.2 176.1,83.0 176.0,83.5 176.6,84.5 175.8,86.0 176.5,86.5 176.0,87.5Z" fill="#a30000" fill-rule="evenodd"/>
<path d="M198.5,135.5 119.6,135.5 114.3,129.0 111.9,124.5 111.1,122.0 110.4,119.0 110.2,116.0 110.4,113.0 111.6,108.5 112.0,108.4 115.0,110.1 121.0,110.5 126.3,107.0 126.4,106.5 125.9,104.5 124.3,102.0 124.0,101.7 120.0,100.6 117.0,98.9 114.0,96.7 109.0,96.9 106.5,98.2 98.5,92.5 95.5,89.5 94.1,87.5 92.9,85.0 90.4,78.0 90.0,76.0 90.0,75.0 90.4,74.0 93.0,71.0 93.8,69.5 94.0,68.0 93.9,66.5 93.2,64.5 91.6,61.5 88.5,57.7 81.0,52.6 66.0,47.1 62.5,46.3 56.2,45.5 54.5,45.1 53.5,44.5 53.2,44.0 53.4,43.5 54.6,42.5 56.8,41.5 63.0,39.7 73.0,37.6 84.0,36.4 113.0,34.6 119.5,34.8 122.0,35.2 125.0,36.2 126.0,36.2 131.5,35.3 135.5,35.0 168.5,34.7 169.3,37.0 170.0,40.5 171.1,43.5 169.5,45.2 164.5,45.2 159.5,45.7 146.5,48.5 139.5,49.5 136.7,51.5 135.1,53.5 134.3,55.0 133.8,56.5 133.8,57.5 135.9,65.0 136.3,68.0 135.6,80.0 135.9,85.0 136.7,88.5 136.8,91.0 137.9,95.5 138.1,96.0 140.9,99.0 142.2,100.0 143.5,100.5 146.5,101.1 148.0,101.0 151.0,101.3 161.0,102.8 163.5,102.5 165.0,102.7 172.5,102.5 181.5,104.0 184.5,104.1 187.5,105.4 188.5,106.2 190.0,106.7 197.5,110.8 199.3,112.5 200.4,114.0 201.2,115.5 202.0,118.5 202.5,119.0 202.7,119.5 201.5,124.4 201.2,128.0 200.6,131.0 199.0,133.9 199.2,134.5 198.5,135.5Z" fill="#f0f7fc" fill-rule="evenodd"/>
<path d="M196.5,135.5 127.4,135.5 119.9,126.5 118.3,124.0 117.4,122.0 116.6,119.5 116.3,117.5 116.3,115.0 116.5,114.0 120.0,113.9 120.5,113.7 126.5,109.7 127.8,108.5 129.3,106.0 129.3,104.0 129.0,102.5 126.7,100.0 125.2,99.0 123.0,98.6 120.5,97.5 118.5,96.3 115.5,94.0 113.0,93.1 109.5,92.4 104.0,92.9 99.0,89.1 96.6,86.0 93.1,80.0 92.1,77.5 91.9,76.0 92.1,74.5 92.5,73.5 94.3,71.0 94.7,69.5 94.7,68.5 94.0,65.0 91.5,60.5 89.0,57.4 81.0,51.7 72.4,48.0 67.2,45.0 65.6,43.5 65.5,42.5 65.7,42.0 67.0,41.0 69.6,40.0 73.5,39.0 78.5,38.2 95.0,36.9 114.0,36.0 119.0,36.5 124.0,38.2 129.5,39.3 133.0,38.6 136.0,38.3 139.0,38.4 142.0,38.8 144.9,39.5 147.5,40.4 153.4,43.5 153.2,44.0 146.0,46.7 138.5,48.4 136.5,49.6 134.9,51.0 133.5,52.7 132.9,54.0 132.5,55.5 132.6,57.5 135.0,65.5 135.5,69.5 134.7,81.0 135.0,86.0 135.4,89.0 135.2,91.0 136.1,96.0 139.5,99.7 142.5,101.2 147.0,101.8 149.0,101.7 158.5,103.0 159.5,103.1 160.0,102.8 160.5,103.1 164.0,103.0 165.0,103.3 172.5,103.2 176.0,103.6 177.5,104.1 181.0,104.7 184.5,104.8 193.0,109.0 196.9,111.5 198.1,112.5 198.7,113.5 200.5,121.0 199.6,128.5 198.7,131.0 198.8,131.5 198.5,132.4 196.5,135.5Z" fill="#d9eef9" fill-rule="evenodd"/>
<path d="M130.5,96.7 129.5,96.7 127.5,96.1 125.0,96.4 123.0,96.2 121.0,95.1 118.5,92.8 116.5,91.5 110.0,89.9 105.5,89.2 103.0,89.2 101.0,87.7 96.7,83.0 94.8,80.0 93.9,78.0 93.5,76.5 93.6,75.0 95.1,71.5 95.4,69.0 94.5,65.0 92.4,61.0 89.4,57.0 81.0,50.5 75.6,48.0 71.9,45.5 70.4,43.5 70.4,42.5 70.6,42.0 72.0,41.0 73.5,40.4 79.5,39.1 95.0,37.7 112.5,37.2 117.5,37.8 123.0,40.0 127.0,40.9 132.5,41.2 136.0,40.7 139.5,40.9 142.0,41.7 144.2,43.0 144.9,44.0 144.8,45.0 142.4,46.0 138.0,47.0 135.5,48.5 132.5,51.1 131.4,54.0 131.6,58.0 134.1,66.0 134.6,69.0 134.7,71.0 133.7,80.5 134.0,85.5 133.8,89.5 132.5,94.0 131.6,95.5 130.5,96.7ZM194.0,135.5 132.6,135.5 122.5,123.0 121.2,120.5 120.4,117.5 122.2,115.5 125.5,113.0 129.5,109.0 131.6,105.5 131.7,103.0 131.4,101.0 131.5,100.0 132.3,99.0 134.0,98.2 135.5,98.5 138.4,100.5 141.0,101.7 142.5,102.1 147.0,102.6 148.5,102.4 153.1,103.0 158.5,103.3 159.5,103.4 160.0,103.1 160.5,103.4 164.0,103.3 164.5,103.7 168.0,103.6 168.5,104.0 172.0,103.8 174.5,104.0 176.0,104.2 177.0,104.7 180.0,105.0 181.0,105.3 184.0,105.4 194.9,111.0 195.5,111.7 197.0,112.6 197.7,113.5 197.9,114.5 198.0,117.5 199.3,121.5 198.4,128.5 196.7,132.5 194.4,135.5 194.0,135.5Z" fill="#b9e0f5" fill-rule="evenodd"/>
<path d="M125.5,93.6 124.0,93.8 122.8,93.5 121.0,92.2 120.0,91.0 117.5,89.8 116.0,89.3 103.0,86.8 101.0,85.4 99.0,83.5 96.7,80.5 95.3,77.5 95.1,75.5 96.0,71.4 96.1,69.0 95.2,65.5 93.6,62.0 91.5,58.8 89.5,56.3 84.8,52.5 81.0,49.0 77.5,47.0 75.7,45.5 74.9,44.5 74.5,43.5 74.6,42.5 75.0,42.0 76.7,41.0 79.0,40.3 91.0,38.8 96.0,38.4 108.5,38.6 112.0,38.4 116.0,39.1 120.5,41.2 123.5,42.2 127.0,42.8 133.0,43.2 134.5,43.6 135.9,44.5 136.2,45.0 136.3,46.0 131.5,49.5 130.6,51.5 130.1,53.5 130.6,58.5 133.0,65.7 133.9,69.5 133.8,73.5 132.8,80.5 132.9,86.5 132.5,87.8 131.5,89.3 128.5,92.0 125.5,93.6ZM191.5,135.5 135.8,135.5 134.0,133.8 124.8,122.5 123.8,121.0 122.9,119.0 126.2,114.5 131.0,109.6 133.5,105.0 134.0,102.4 134.5,101.6 135.5,101.0 137.0,101.2 140.5,102.6 145.0,103.2 148.0,103.4 148.5,103.0 159.5,103.8 163.5,103.7 164.5,104.1 168.0,103.9 168.5,104.3 172.0,104.2 172.5,104.6 176.0,104.7 176.5,105.2 180.0,105.3 180.5,105.7 184.0,105.8 185.5,107.1 186.0,107.1 187.0,107.8 190.0,109.2 194.5,111.7 196.2,113.0 196.8,114.0 197.0,117.0 198.0,122.0 197.6,125.0 197.7,126.5 197.2,129.0 196.3,130.5 194.4,133.0 191.5,135.5Z" fill="#8fcdef" fill-rule="evenodd"/>
<path d="M124.5,91.0 122.5,90.8 117.0,88.2 103.0,85.4 100.5,83.4 98.3,80.5 96.8,77.5 96.5,74.5 96.9,70.5 96.8,69.0 96.0,66.0 94.5,62.6 92.0,58.5 90.0,55.8 84.7,51.0 82.9,49.0 81.5,46.7 79.8,45.0 79.3,43.5 79.8,42.5 82.0,41.5 84.5,41.1 87.0,40.3 93.0,39.4 96.5,39.2 105.5,39.7 112.0,39.7 114.0,40.0 116.0,40.6 120.5,43.1 125.0,45.0 129.0,46.1 130.0,46.7 130.4,47.5 129.2,50.0 128.7,52.5 129.7,59.0 131.3,64.0 132.5,67.0 133.1,70.5 132.9,74.0 131.8,80.0 132.0,86.0 131.5,87.1 129.5,88.5 128.0,89.5 124.5,91.0ZM179.0,135.5 146.1,135.5 141.5,135.3 139.5,135.0 137.5,134.0 136.0,132.8 128.0,122.8 126.3,121.0 126.1,120.5 126.5,117.5 127.9,115.0 130.3,112.5 132.1,110.0 135.2,104.5 135.5,103.0 136.5,102.5 139.0,103.2 141.0,103.5 148.0,103.8 148.5,103.4 159.5,104.2 163.5,104.2 164.5,104.5 167.5,104.3 168.5,104.7 172.0,104.6 172.5,104.9 175.8,105.0 176.5,105.5 184.0,106.2 185.5,107.4 186.0,107.4 187.5,108.7 188.0,108.7 189.0,109.6 189.5,109.6 190.5,110.4 191.9,111.0 195.7,113.5 196.2,119.0 196.6,119.5 196.7,122.0 197.1,122.5 196.7,125.0 196.7,126.5 195.3,130.0 193.5,131.8 191.7,133.0 191.0,133.7 179.0,135.5Z" fill="#5ea8e6" fill-rule="evenodd"/>
<path d="M124.5,89.3 123.0,89.2 121.7,88.5 117.5,86.9 103.5,84.0 102.5,83.4 101.0,82.0 99.3,79.5 98.1,76.5 97.7,75.0 97.7,70.0 97.4,68.5 96.4,65.5 94.8,62.0 92.5,58.0 90.5,55.2 86.0,50.5 84.3,47.5 83.9,46.0 84.0,45.0 84.4,44.0 85.1,43.0 86.7,42.0 89.0,41.1 94.0,40.4 97.5,40.4 106.0,41.1 112.5,41.4 114.5,41.9 116.5,42.8 122.5,46.4 126.3,49.0 126.6,49.5 126.6,51.0 127.6,54.0 129.0,60.5 131.6,67.5 132.1,71.5 130.6,80.5 130.5,84.5 131.2,86.0 131.0,86.2 129.5,86.4 127.5,87.9 124.5,89.3ZM170.0,135.2 167.5,135.5 165.5,135.0 161.0,135.0 159.0,134.5 154.5,134.5 152.5,134.0 148.0,134.0 146.0,133.5 141.5,133.5 139.5,133.0 137.5,131.7 130.0,122.5 129.9,121.5 128.9,118.5 129.2,116.5 129.6,115.5 132.7,111.5 133.8,109.5 134.3,109.0 134.7,108.0 136.0,106.0 136.0,105.5 136.6,105.0 136.7,104.0 137.0,103.7 148.0,104.3 149.0,103.9 159.0,104.7 163.0,104.7 164.5,105.0 167.5,104.9 168.5,105.2 171.5,105.1 172.5,105.5 175.5,105.5 176.5,106.0 179.5,106.1 180.5,106.5 183.5,106.6 187.3,109.0 188.0,109.2 189.0,110.0 189.5,110.0 191.0,111.3 191.5,111.3 193.0,112.7 193.5,112.8 194.5,113.7 195.0,113.7 195.3,114.0 194.9,114.5 194.8,116.5 195.2,117.5 195.2,119.0 195.6,120.0 195.9,123.5 195.4,127.0 194.5,128.6 193.4,130.0 190.5,131.9 185.5,132.5 184.0,132.9 182.5,133.0 181.0,133.4 179.5,133.5 178.0,133.9 176.5,134.0 170.0,135.2Z" fill="#2f74dc" fill-rule="evenodd"/>
<path d="M124.0,88.3 122.5,87.1 121.6,87.0 116.5,85.3 104.5,82.8 103.0,82.1 102.0,81.0 99.4,76.5 98.9,74.5 98.3,69.0 97.0,65.5 95.3,61.5 92.5,56.5 91.0,54.3 88.6,51.5 86.8,48.5 86.4,47.0 86.5,45.8 87.1,44.5 88.0,43.6 89.5,42.7 91.0,42.2 96.0,41.5 112.5,43.0 115.5,44.2 124.3,50.5 125.6,52.5 126.5,54.7 127.9,61.0 130.6,67.5 131.1,71.5 129.4,81.5 129.4,82.5 130.0,84.0 130.2,85.5 129.0,86.3 128.0,86.6 127.5,87.1 126.0,87.2 125.5,87.7 124.5,87.8 124.0,88.3ZM169.5,133.5 167.5,133.7 165.5,133.2 161.0,133.2 159.0,132.8 154.5,132.7 152.5,132.2 148.5,132.2 146.0,131.8 141.5,131.7 140.0,131.3 138.8,130.5 135.5,126.2 133.5,124.0 132.4,121.0 132.3,120.0 130.7,117.0 131.1,115.5 134.0,112.1 134.0,111.5 134.6,111.0 134.7,110.0 135.2,109.5 135.3,108.5 135.8,108.0 135.9,107.0 136.4,106.5 136.5,105.5 137.0,105.2 137.1,104.5 137.5,104.2 148.0,104.8 149.5,104.5 159.0,105.2 163.0,105.2 164.0,105.4 167.0,105.4 168.5,105.7 171.0,105.6 172.5,106.0 175.0,105.9 176.5,106.5 183.0,107.1 183.5,107.2 187.0,109.5 191.5,111.9 194.2,114.0 194.6,115.5 194.2,116.0 194.4,117.5 194.0,118.0 194.4,120.0 194.6,122.5 195.0,123.5 194.3,127.0 193.0,128.4 191.0,129.4 190.0,130.2 185.0,130.8 184.0,131.1 182.0,131.3 181.0,131.6 179.0,131.8 178.0,132.1 176.0,132.3 169.5,133.5Z" fill="#1040d8" fill-rule="evenodd"/>
<path d="M125.0,87.0 124.0,87.3 121.0,85.6 120.5,85.6 119.0,84.5 115.0,83.4 106.5,81.8 104.5,81.0 103.5,80.3 101.5,77.7 100.7,76.0 99.1,69.0 95.5,60.0 93.4,56.0 89.6,50.0 89.2,48.5 89.3,47.0 89.6,46.0 90.5,44.9 93.0,43.5 96.5,43.0 98.5,43.1 109.5,44.7 112.0,44.8 114.5,45.8 117.5,48.3 122.2,51.0 123.0,51.8 125.1,55.0 126.4,60.0 129.4,67.5 129.8,69.5 129.7,73.5 128.4,80.5 128.7,81.0 128.6,81.5 129.2,85.0 128.5,85.6 125.0,87.0ZM168.5,132.1 167.5,132.1 166.0,131.6 161.0,131.6 159.5,131.1 154.5,131.1 153.0,130.6 148.0,130.6 146.5,130.1 141.5,130.1 140.0,129.4 139.0,127.9 137.5,126.3 135.5,123.3 135.3,122.0 134.2,120.0 134.0,118.5 132.5,116.0 133.1,115.5 133.2,114.5 133.8,114.0 133.9,113.0 134.5,112.5 134.7,111.5 135.2,111.0 136.6,107.5 137.9,105.0 148.0,105.5 149.5,105.1 159.0,105.7 163.0,105.7 164.0,106.0 167.0,106.0 168.5,106.3 171.0,106.2 172.0,106.6 175.0,106.6 176.0,106.9 179.0,107.1 180.0,107.5 183.0,107.7 191.2,112.5 192.3,113.5 193.8,114.5 193.6,116.0 193.7,117.5 193.5,118.0 193.7,119.5 193.3,120.0 193.4,121.0 193.1,121.5 193.7,123.5 193.6,125.5 193.2,126.5 192.5,127.2 189.5,128.6 185.0,129.1 180.5,130.1 179.0,130.1 177.5,130.6 176.0,130.6 174.5,131.1 173.0,131.1 171.5,131.6 170.0,131.6 168.5,132.1Z" fill="#0008d8" fill-rule="evenodd"/>
<path d="M124.5,86.1 121.0,84.7 117.7,83.0 117.0,82.9 115.5,81.9 107.1,80.0 104.5,78.5 103.5,77.4 101.9,74.5 99.6,67.5 96.3,59.0 92.2,50.0 92.1,48.0 92.6,47.0 93.5,46.1 95.5,45.2 98.0,45.0 107.0,46.6 112.0,47.2 113.0,47.6 114.5,48.7 120.5,52.2 123.0,55.0 123.7,56.0 125.7,62.5 127.9,67.5 128.3,69.0 128.0,74.5 127.3,78.5 127.6,79.0 127.6,83.5 127.5,83.9 126.0,85.3 124.5,86.1ZM168.5,130.2 167.5,130.2 166.5,129.7 161.5,129.6 160.5,128.7 155.0,129.0 154.0,128.2 148.5,128.7 148.0,128.7 147.5,128.2 142.0,128.3 141.2,128.0 139.1,125.0 139.0,123.5 137.2,121.5 137.3,121.0 135.4,119.0 135.5,118.5 133.6,116.0 134.0,115.0 135.3,113.0 138.5,106.0 139.0,105.8 148.5,106.3 149.5,106.0 150.9,106.0 156.5,108.0 160.0,108.6 163.0,108.5 170.5,107.3 174.5,107.3 176.0,107.7 179.0,107.9 180.0,108.3 182.5,108.4 188.5,111.7 192.6,114.5 192.8,115.0 192.6,117.5 192.8,119.0 192.4,121.5 192.6,123.0 192.3,123.5 192.4,125.0 192.0,125.5 190.0,126.2 189.5,126.7 187.0,126.8 186.0,127.3 184.0,127.3 183.0,127.8 181.0,127.8 180.0,128.3 178.0,128.3 177.0,128.8 175.0,128.8 174.0,129.3 172.0,129.3 171.0,129.8 169.0,129.8 168.5,130.2Z" fill="#0000b4" fill-rule="evenodd"/>
<path d="M122.0,82.6 120.5,82.8 119.5,82.6 116.0,81.1 113.5,80.3 112.0,79.3 109.0,78.5 105.5,76.2 104.4,75.0 102.7,72.0 100.0,65.5 98.5,61.5 97.1,56.5 95.8,53.0 95.6,51.0 96.0,49.5 96.8,48.5 98.5,47.9 102.5,48.1 108.5,48.8 111.0,49.4 112.0,49.4 118.5,53.4 121.5,56.6 122.3,57.0 122.4,58.0 122.8,58.5 122.9,59.5 123.4,60.0 123.4,61.0 124.3,62.5 124.4,63.5 124.8,64.0 124.9,65.0 125.3,65.5 125.5,66.5 126.4,68.0 125.9,74.5 125.9,75.5 126.2,76.0 126.3,77.0 126.3,79.5 126.0,80.9 124.0,81.9 122.0,82.6ZM168.0,128.5 167.5,128.2 162.0,128.1 161.0,127.5 155.5,127.6 154.5,127.0 149.0,127.2 148.0,126.6 142.0,127.0 142.0,126.4 140.6,124.5 140.3,123.5 138.5,121.2 138.1,120.0 136.8,118.5 136.5,117.4 135.1,115.5 136.3,113.5 138.0,109.8 138.5,109.6 152.0,114.6 155.0,115.3 158.0,115.8 162.0,115.9 165.5,115.6 179.0,113.3 183.0,112.2 188.5,113.2 191.5,115.0 191.8,116.5 191.4,121.0 191.5,124.6 189.5,124.9 189.0,125.5 186.5,125.3 185.5,125.9 183.5,125.8 182.5,126.3 180.5,126.3 179.5,126.8 177.5,126.8 176.5,127.3 174.5,127.3 173.5,127.8 171.5,127.8 170.5,128.3 168.5,128.3 168.0,128.5Z" fill="#00008c" fill-rule="evenodd"/></g></g><g clip-path="url(#clf12)"><rect x="20" y="10" width="225" height="126" fill="#fff"/><g filter="url(#bf)"><path d="M133.5,135.5 83.2,135.5 76.5,133.4 60.0,127.3 53.0,125.1 20.0,125.1 20.0,10.0 244.5,10.0 244.5,125.1 217.0,125.1 215.3,123.0 214.5,121.5 214.5,120.0 215.0,117.0 213.5,117.4 207.5,117.6 205.9,115.0 203.6,112.5 202.4,110.0 201.0,108.5 187.5,99.9 185.5,99.3 182.5,99.3 180.5,99.0 178.5,99.1 177.0,98.9 174.5,99.1 173.0,98.8 170.5,99.0 169.0,98.7 166.5,98.9 165.0,98.7 162.0,99.2 160.5,99.0 159.5,99.2 158.0,99.9 156.0,100.2 148.5,102.4 147.5,103.0 146.5,103.3 143.0,103.6 137.0,103.7 136.6,104.0 136.5,104.5 132.0,109.0 128.2,114.5 127.6,116.0 127.5,117.5 127.9,119.5 129.3,122.0 131.0,126.8 134.6,134.0 133.9,135.5 133.5,135.5Z" fill="#fefce8" fill-rule="evenodd"/>
<path d="M130.0,135.5 91.9,135.5 80.7,132.5 66.0,127.2 52.9,123.0 47.9,121.0 44.3,119.0 38.7,115.0 34.5,111.0 31.1,106.5 29.0,102.0 28.3,99.5 26.2,87.0 26.0,83.5 26.3,80.5 27.0,78.0 28.0,75.5 29.4,73.0 31.6,70.0 34.4,67.0 37.9,64.0 41.4,61.5 46.0,58.8 51.6,56.0 56.5,53.9 61.0,52.3 74.5,49.0 81.0,47.8 88.0,46.9 95.0,46.3 102.0,46.0 109.5,45.9 116.5,46.2 124.0,46.9 131.0,47.8 138.0,49.1 145.0,50.7 151.0,52.5 167.5,58.0 188.6,65.5 197.4,69.5 204.7,74.0 207.9,76.5 210.6,79.0 212.8,81.5 214.9,84.5 216.6,88.0 219.2,95.5 219.8,98.5 220.0,101.5 219.6,105.0 218.5,108.3 217.3,109.5 214.0,111.8 208.0,112.4 205.5,110.4 203.5,107.8 201.5,106.1 192.5,101.0 188.7,98.5 187.0,97.8 185.5,97.6 183.0,97.7 177.0,97.3 175.0,97.5 173.0,97.2 170.5,97.4 169.0,97.2 166.5,97.3 165.0,97.1 162.5,97.5 160.5,97.4 148.5,101.5 146.4,102.5 142.0,103.2 136.4,103.5 130.0,109.8 126.9,114.0 126.1,116.0 126.1,119.0 127.5,123.3 127.8,125.5 129.1,128.5 131.9,134.0 131.5,134.9 130.0,135.5Z" fill="#fdf9c6" fill-rule="evenodd"/>
<path d="M124.5,135.5 103.3,135.5 97.0,134.5 91.0,133.2 83.1,131.0 68.9,126.0 55.9,122.0 50.5,119.6 45.4,116.5 40.9,113.0 37.1,109.0 34.4,105.0 32.6,100.5 30.2,86.5 30.0,83.0 30.5,80.0 31.2,77.5 32.4,75.0 33.9,72.5 35.9,70.0 38.5,67.4 41.3,65.0 44.9,62.5 49.1,60.0 55.5,56.7 59.3,55.0 63.0,53.8 77.5,50.4 90.0,48.6 103.5,47.8 110.5,47.9 117.5,48.2 124.5,48.9 131.0,49.8 137.5,51.1 144.0,52.7 165.0,59.5 186.5,67.1 194.9,71.0 198.5,73.1 202.0,75.5 205.1,78.0 207.6,80.5 209.7,83.0 211.3,85.5 212.8,88.5 215.3,96.0 215.9,99.0 216.0,102.0 214.7,104.0 212.5,106.4 209.5,107.2 206.5,107.8 204.9,106.0 203.0,104.4 194.0,99.2 190.5,96.9 188.0,95.7 185.5,95.3 177.5,95.1 171.0,95.5 165.0,95.5 163.0,95.8 160.5,95.8 159.0,96.2 157.5,97.0 155.0,97.5 148.5,100.4 147.0,101.4 146.0,101.7 142.5,102.6 137.0,102.8 135.5,103.3 132.2,106.5 128.7,109.5 125.4,114.0 124.5,116.0 124.0,118.5 124.1,121.0 125.4,126.5 126.4,128.5 127.3,134.0 127.1,134.5 124.9,135.5 124.5,135.5Z" fill="#fcf68c" fill-rule="evenodd"/>
<path d="M118.5,135.1 117.5,135.2 112.0,134.8 103.0,133.8 95.0,132.3 87.5,130.4 74.5,126.0 62.4,122.5 58.1,121.0 51.9,118.0 45.9,114.0 42.0,110.5 39.0,106.9 36.8,103.0 35.6,99.0 33.5,86.0 33.4,82.5 34.0,79.5 34.8,77.0 36.1,74.5 37.8,72.0 42.1,67.5 48.0,63.1 58.0,57.4 61.2,56.0 64.5,54.9 80.5,51.6 92.5,50.0 105.5,49.4 112.5,49.5 119.0,50.0 131.5,51.6 143.0,54.2 163.5,60.9 185.5,68.8 193.2,72.5 196.5,74.5 200.0,77.0 202.5,79.1 204.9,81.5 206.9,84.0 208.4,86.5 209.7,89.5 211.9,96.0 212.2,97.5 211.3,100.0 210.1,102.0 208.0,103.2 205.0,101.4 195.5,97.2 191.5,95.0 189.5,94.2 186.0,93.5 183.5,93.6 177.5,93.2 175.5,93.4 165.0,93.6 160.5,94.2 157.0,95.7 154.5,96.3 148.5,99.2 146.5,100.7 144.4,101.5 141.0,102.3 136.5,102.4 135.0,102.9 132.9,105.0 127.5,109.5 123.3,114.5 122.5,116.5 122.2,118.5 122.2,123.5 121.2,126.0 122.1,132.0 122.1,133.5 121.9,134.0 121.2,134.5 118.5,135.1Z" fill="#fdf450" fill-rule="evenodd"/>
<path d="M114.0,130.9 108.5,130.3 102.0,129.4 85.9,126.0 73.0,123.9 70.0,123.2 63.1,121.0 58.3,119.0 52.8,116.0 48.0,112.5 45.2,110.0 43.0,107.5 41.3,105.0 40.0,102.5 39.0,99.0 36.9,86.5 36.7,82.5 37.5,79.0 39.0,75.5 41.4,72.0 45.4,68.0 50.5,64.2 60.5,58.1 63.0,57.0 66.0,56.0 83.5,52.8 94.5,51.4 107.5,51.0 120.0,51.7 131.5,53.3 142.0,55.8 161.5,62.2 184.0,70.3 191.5,74.0 195.0,76.2 198.0,78.5 200.3,80.5 202.6,83.0 204.4,85.5 205.8,88.0 207.7,93.5 207.4,95.5 207.0,96.3 199.5,93.9 194.0,91.2 190.5,90.1 187.0,89.7 178.0,90.4 171.5,91.7 165.0,91.7 160.5,92.2 158.5,93.0 157.0,93.9 154.0,94.9 153.2,95.5 148.0,98.0 146.0,99.8 143.0,101.3 141.0,101.8 136.5,101.9 135.0,102.3 126.1,109.5 121.8,114.0 120.9,116.0 120.0,119.3 118.4,122.5 115.5,127.0 114.0,130.9Z" fill="#fcf01e" fill-rule="evenodd"/>
<path d="M111.0,124.2 110.5,124.5 105.5,124.2 92.0,122.8 84.6,121.5 76.9,119.5 69.0,116.6 62.8,113.5 59.7,111.5 57.1,109.5 53.3,105.5 51.4,102.5 50.1,99.0 47.8,85.5 47.9,82.0 48.9,78.5 50.6,75.5 52.5,73.0 57.0,68.7 58.0,67.4 58.8,65.5 59.8,61.5 60.6,60.0 62.5,58.8 65.0,57.7 68.0,56.9 70.5,56.6 84.5,57.7 99.0,56.5 109.0,56.3 117.5,56.8 126.0,57.9 132.5,59.3 138.5,61.0 155.1,66.5 174.5,73.4 179.0,75.3 183.2,77.5 187.0,80.0 190.0,82.5 189.5,83.0 180.5,85.4 176.5,86.2 173.5,86.4 168.0,87.8 161.5,89.2 160.4,90.0 158.5,90.8 156.5,92.0 153.5,93.0 150.1,95.5 148.0,96.5 146.0,98.3 141.7,101.0 140.0,101.4 136.5,101.4 134.5,102.0 133.0,103.3 129.0,106.0 127.0,107.7 123.7,110.0 118.7,115.0 114.5,121.7 111.0,124.2Z" fill="#fdd400" fill-rule="evenodd"/>
<path d="M109.0,119.6 105.0,118.8 100.0,117.3 81.5,110.3 77.5,108.4 75.0,106.8 72.5,104.8 70.4,102.5 68.8,100.0 68.2,98.0 68.0,96.0 66.1,85.5 66.2,82.0 68.0,77.4 68.3,75.5 67.8,73.5 64.7,67.5 63.9,65.0 63.8,63.5 64.0,62.0 64.6,61.0 65.5,60.2 67.0,59.4 69.0,58.9 73.5,59.0 80.0,60.3 91.0,63.9 95.0,64.9 97.5,65.1 106.0,64.9 112.0,65.1 121.0,66.3 128.5,68.2 145.0,73.7 159.8,79.0 158.4,84.0 155.8,86.0 155.0,88.5 153.9,90.5 152.0,91.2 150.3,93.0 147.8,95.0 146.0,96.7 140.0,100.8 136.5,100.9 134.0,101.7 125.5,107.6 122.3,109.5 121.0,110.7 116.0,113.5 114.0,115.8 109.5,119.4 109.0,119.6Z" fill="#fda400" fill-rule="evenodd"/>
<path d="M110.0,112.1 109.0,112.2 108.0,111.8 90.5,105.2 87.0,103.4 85.5,102.3 83.7,100.5 82.7,99.0 82.1,97.5 82.0,95.5 81.6,94.5 81.5,92.5 81.1,91.5 80.5,86.5 80.1,85.5 79.1,80.5 77.1,77.5 70.3,70.5 68.1,67.5 67.4,66.0 67.1,64.5 67.3,63.0 68.1,62.0 69.5,61.2 71.5,60.8 74.0,60.9 77.0,61.4 80.0,62.2 83.5,63.6 94.0,68.8 98.5,70.6 102.5,71.3 110.0,71.7 114.0,72.1 119.0,73.2 138.5,79.8 144.0,84.3 144.4,85.0 144.8,88.0 147.8,90.5 146.2,94.0 144.4,96.0 142.7,97.0 139.5,99.8 136.5,99.8 135.0,100.3 122.0,108.3 118.0,109.4 114.5,111.0 110.0,112.1Z" fill="#f96c00" fill-rule="evenodd"/>
<path d="M116.0,107.5 110.0,107.2 96.2,102.0 94.0,100.8 92.4,99.5 91.5,98.4 90.9,97.0 90.7,95.0 90.3,93.5 90.2,92.0 89.9,91.0 89.7,89.0 89.2,87.5 89.0,86.0 86.8,81.5 85.7,80.0 83.6,78.0 77.5,74.1 72.7,70.0 71.2,68.0 70.4,66.5 70.2,65.0 70.6,64.0 72.0,63.0 73.5,62.8 76.0,62.9 79.0,63.6 82.0,64.7 85.5,66.5 90.3,69.5 94.9,73.0 97.5,74.2 101.5,75.2 109.5,75.9 113.5,76.6 128.5,81.5 129.5,82.5 134.3,85.5 139.0,88.9 142.5,91.0 142.8,91.5 143.2,93.0 142.6,94.5 141.4,96.0 139.3,97.5 139.0,98.0 136.5,98.0 134.5,98.5 133.0,99.5 131.5,101.5 127.0,103.8 125.0,105.2 122.5,106.5 116.0,107.5Z" fill="#f23400" fill-rule="evenodd"/>
<path d="M122.0,105.0 118.0,105.2 111.5,104.8 100.0,100.5 97.3,99.0 96.3,98.0 95.8,97.0 94.5,88.7 94.0,87.5 93.9,86.0 92.8,83.5 92.8,81.0 93.7,79.0 83.5,75.4 79.0,73.0 75.8,70.5 74.0,68.5 73.3,67.0 73.3,66.0 73.5,65.5 74.1,65.0 75.0,64.7 77.5,64.8 81.0,65.8 84.3,67.5 87.3,69.5 89.5,71.5 94.5,78.4 103.0,77.9 109.5,78.3 112.6,79.0 125.0,83.1 128.0,85.0 136.4,91.0 137.1,92.0 139.5,94.1 139.7,94.5 139.5,95.0 138.0,96.3 135.0,96.5 132.5,97.7 130.7,99.5 129.7,101.5 126.5,102.9 124.5,104.1 123.0,104.8 122.0,105.0Z" fill="#e60800" fill-rule="evenodd"/>
<path d="M82.5,70.8 81.2,70.5 80.6,70.0 80.5,69.5 81.3,69.5 82.3,70.0 82.7,70.5 82.5,70.8ZM124.5,102.5 123.5,102.9 122.5,102.9 117.0,102.5 112.5,101.9 103.5,98.6 102.0,97.7 101.1,96.5 101.0,94.5 100.6,93.5 100.5,91.5 100.1,90.5 99.9,88.5 99.5,87.5 99.2,85.5 98.5,84.0 98.6,83.0 98.9,82.5 100.5,81.4 103.0,80.7 106.0,80.6 109.2,81.0 122.0,85.3 131.0,91.0 132.6,92.5 133.1,93.5 131.0,94.5 129.0,96.1 127.2,98.5 126.0,101.5 125.0,101.9 124.5,102.5Z" fill="#c80000" fill-rule="evenodd"/>
<path d="M120.5,100.5 120.0,100.6 114.5,99.8 110.3,98.5 106.3,97.0 105.5,96.5 105.3,96.0 105.3,94.0 104.8,93.0 104.8,91.0 104.3,90.0 104.3,88.0 103.7,87.0 103.7,85.0 103.1,84.0 103.3,83.5 104.0,83.0 105.0,82.7 107.5,82.9 119.7,87.0 122.0,88.2 126.0,90.9 126.4,91.0 124.5,92.9 122.9,95.0 121.6,97.5 120.5,100.5Z" fill="#a30000" fill-rule="evenodd"/>
<path d="M205.0,135.5 138.3,135.5 138.8,134.5 138.8,134.0 136.5,131.5 133.0,125.5 132.5,123.5 131.2,120.5 129.6,118.0 129.4,117.0 129.5,115.5 130.5,113.5 133.1,109.5 136.0,106.5 136.2,105.5 137.5,104.1 148.0,103.7 148.5,103.2 150.9,103.0 156.0,101.7 158.5,101.3 160.0,100.6 161.5,100.9 164.5,100.5 166.0,100.7 168.5,100.6 170.0,100.9 172.5,100.7 174.0,101.1 176.5,100.9 178.0,101.2 180.5,101.0 182.0,101.3 185.5,101.4 186.9,102.0 190.0,104.2 199.6,110.0 200.5,111.1 201.1,112.5 202.0,118.5 203.9,121.0 206.0,122.8 207.5,122.9 208.0,123.3 208.6,126.5 208.3,129.0 207.0,132.5 205.0,135.5Z" fill="#f0f7fc" fill-rule="evenodd"/>
<path d="M199.0,135.5 151.3,135.5 148.0,134.7 146.0,133.0 142.0,132.9 140.5,132.6 139.2,132.0 138.1,131.0 136.1,127.5 134.3,124.0 133.8,122.5 132.8,121.0 132.5,120.0 130.7,117.5 130.5,116.5 130.6,115.5 133.3,111.0 135.0,108.5 135.6,108.0 135.8,107.0 136.4,106.5 136.5,106.0 137.5,104.7 148.0,104.0 149.0,103.5 154.7,103.0 158.5,102.4 160.0,101.7 161.5,102.0 164.0,101.6 165.5,101.9 168.5,101.7 169.5,102.0 172.5,101.9 173.5,102.2 176.5,102.0 178.0,102.4 180.5,102.2 182.0,102.6 185.0,102.6 186.0,103.0 195.0,109.0 197.8,110.5 198.9,111.5 199.5,112.5 199.8,114.5 199.4,116.5 199.4,117.5 200.1,120.0 201.0,122.0 204.5,125.0 204.6,125.5 204.1,128.5 203.0,131.2 201.4,133.5 199.0,135.5Z" fill="#d9eef9" fill-rule="evenodd"/>
<path d="M192.0,135.5 159.9,135.5 159.0,133.8 156.0,132.6 154.0,132.3 153.0,131.9 148.5,131.8 146.5,131.2 141.0,131.0 140.0,130.5 139.0,129.4 135.5,123.5 135.0,122.0 133.9,120.5 133.3,119.0 131.8,117.0 131.6,116.0 132.5,114.0 134.0,112.0 134.0,111.5 134.6,111.0 134.7,110.0 135.2,109.5 135.4,108.5 136.0,108.0 137.1,106.0 138.0,104.9 143.0,104.9 148.0,104.5 149.0,104.0 155.0,103.3 159.5,103.1 160.0,102.6 160.5,103.0 164.0,102.7 165.0,103.0 168.0,102.7 169.5,103.1 172.0,102.9 173.5,103.3 176.0,103.1 177.5,103.5 180.0,103.3 181.5,103.7 184.0,103.6 185.0,103.8 188.5,106.3 191.0,107.6 197.6,112.0 198.2,113.0 198.4,114.0 197.6,117.5 197.6,119.5 199.5,123.5 202.3,126.5 202.0,128.0 201.2,130.0 200.2,131.5 199.0,132.8 197.4,134.0 195.5,134.9 192.0,135.5Z" fill="#b9e0f5" fill-rule="evenodd"/>
<path d="M179.0,135.5 167.3,135.5 166.5,134.5 166.0,133.3 165.5,132.8 164.9,132.5 161.0,131.8 159.5,131.2 155.0,131.1 153.0,130.5 148.5,130.5 146.5,129.9 142.0,129.8 140.5,129.3 138.3,126.0 137.7,124.5 136.4,122.5 136.0,121.2 134.7,119.5 134.4,118.5 132.6,116.0 133.1,115.5 133.1,114.5 133.7,114.0 133.8,113.0 134.3,112.5 134.4,111.5 135.0,111.0 135.2,110.0 136.7,107.5 137.8,106.0 138.5,105.3 148.0,104.9 149.5,104.4 159.5,103.5 160.0,102.9 160.5,103.4 164.0,103.2 164.5,103.7 168.0,103.6 168.5,104.1 172.0,104.0 173.0,104.4 176.0,104.2 177.0,104.6 180.0,104.4 181.0,104.8 184.0,104.7 184.9,105.0 188.0,107.3 190.5,108.6 191.5,109.5 192.5,109.9 193.8,111.0 196.5,112.4 197.0,113.0 197.3,114.0 196.0,119.0 196.4,121.5 196.8,123.0 198.0,124.5 199.8,127.5 199.6,128.5 198.7,130.0 197.0,131.7 194.5,133.0 179.0,135.5Z" fill="#8fcdef" fill-rule="evenodd"/>
<path d="M190.5,132.1 189.5,132.2 188.5,131.8 187.0,132.1 185.5,131.4 183.5,131.5 182.0,130.7 181.0,131.2 179.0,130.7 177.5,131.2 176.0,130.9 174.5,131.4 173.0,131.1 171.5,131.6 169.5,131.3 169.0,131.8 168.0,131.9 167.5,131.7 166.5,130.7 161.5,130.6 160.0,130.0 155.0,129.9 153.5,129.3 148.5,129.2 147.0,128.6 141.5,128.5 140.9,128.0 140.5,126.9 139.1,125.0 138.4,123.0 137.1,121.5 137.1,121.0 135.3,119.0 135.3,118.5 132.9,116.0 133.5,115.5 133.5,114.5 134.0,114.1 136.3,109.0 138.0,106.5 138.5,105.9 139.0,105.8 148.0,105.4 149.5,104.9 154.0,104.4 163.5,103.7 164.5,104.1 168.0,104.0 168.5,104.5 172.0,104.4 172.5,104.8 176.0,104.8 176.5,105.2 180.0,105.2 180.5,105.6 184.0,105.6 185.5,107.1 186.0,107.0 187.5,108.5 188.0,108.5 189.0,109.3 189.8,109.5 193.0,111.8 195.5,113.1 196.0,113.5 196.1,114.0 195.3,116.5 195.3,117.5 194.9,118.5 194.7,120.5 195.0,122.5 195.6,123.5 196.0,125.0 197.2,127.0 197.6,128.5 197.4,129.0 196.0,130.4 194.5,131.3 190.5,132.1Z" fill="#5ea8e6" fill-rule="evenodd"/>
<path d="M168.5,129.6 168.0,129.8 167.0,129.2 161.5,129.1 161.0,128.6 160.5,128.5 155.0,128.5 154.5,128.0 148.5,127.9 148.0,127.4 142.0,127.4 141.6,127.0 141.7,126.5 139.8,124.5 139.8,124.0 137.6,121.5 137.5,120.7 136.1,119.0 135.7,118.0 133.9,116.0 134.8,113.5 137.7,108.0 138.7,106.5 139.5,106.2 148.0,105.9 149.5,105.4 163.0,104.4 164.5,104.7 167.5,104.6 168.5,105.1 171.5,105.0 172.5,105.4 175.5,105.3 176.5,105.7 179.5,105.6 180.5,106.1 184.0,106.1 185.5,107.5 186.0,107.5 187.5,108.9 188.0,108.9 189.0,109.9 189.5,109.9 191.0,111.3 191.5,111.3 193.0,112.8 193.5,112.8 194.5,113.7 195.0,113.7 195.3,114.0 194.8,114.5 194.8,115.5 194.3,116.0 194.3,117.5 193.8,118.0 193.9,119.5 193.4,120.0 193.4,121.0 192.9,121.5 193.9,123.5 194.1,124.5 194.6,125.5 194.8,126.5 194.5,127.7 193.5,128.6 192.5,128.7 191.0,128.3 189.5,128.6 187.5,128.1 186.5,128.6 184.5,128.0 183.5,128.5 181.5,128.0 181.0,128.1 180.5,128.5 180.0,128.5 178.0,128.0 177.5,128.5 175.0,128.4 174.0,128.9 172.0,128.8 171.0,129.4 169.0,129.3 168.5,129.6Z" fill="#2f74dc" fill-rule="evenodd"/>
<path d="M168.0,129.2 167.5,128.6 161.5,128.6 161.0,128.1 155.0,128.0 154.5,127.5 149.0,127.5 148.5,127.4 148.0,126.9 142.5,126.9 140.7,124.5 140.3,123.5 138.5,121.3 138.0,120.2 136.6,118.5 136.2,117.5 134.9,116.0 134.7,115.5 138.4,108.0 139.0,107.5 144.0,107.2 149.0,106.3 150.0,105.9 163.0,105.0 164.5,105.4 167.0,105.3 168.5,105.7 171.0,105.6 172.5,106.0 175.0,106.0 176.5,106.4 179.5,106.3 180.5,106.8 183.5,106.7 187.0,109.4 189.0,110.5 192.5,113.2 193.5,113.6 194.2,114.5 194.3,115.0 193.8,116.0 193.8,117.0 193.3,118.0 193.4,119.0 192.9,120.0 192.9,121.0 192.5,121.5 192.7,123.0 192.3,123.5 193.0,125.5 192.5,126.3 189.5,125.5 189.4,126.0 189.0,126.2 186.5,125.8 186.0,126.4 183.5,126.2 183.0,126.8 180.5,126.7 180.0,127.2 177.5,127.2 177.0,127.7 174.5,127.7 174.0,128.2 171.5,128.1 171.0,128.7 168.5,128.6 168.0,129.2Z" fill="#1040d8" fill-rule="evenodd"/>
<path d="M168.0,128.0 162.0,127.8 161.0,127.3 156.0,127.2 154.5,126.7 149.5,126.7 148.0,126.1 143.0,126.1 141.3,124.0 141.0,123.0 139.3,121.0 138.5,119.5 137.2,118.0 136.8,117.0 135.5,115.5 137.5,111.3 138.0,111.1 144.0,110.8 149.0,110.0 154.0,108.5 156.0,107.5 158.2,106.0 162.5,105.7 164.0,106.1 167.0,106.0 168.0,106.4 171.0,106.3 172.0,106.7 175.0,106.7 176.5,107.1 179.0,107.0 180.5,107.5 183.0,107.4 193.3,114.5 192.9,117.0 192.6,117.5 192.5,119.0 191.7,121.5 191.9,122.5 191.6,123.5 192.0,125.1 189.5,124.8 188.5,125.3 186.5,125.1 185.5,125.6 183.5,125.5 182.5,126.0 180.5,126.0 179.5,126.5 177.5,126.5 176.5,127.0 174.5,126.9 173.5,127.5 171.5,127.4 170.5,127.9 168.0,128.0Z" fill="#0008d8" fill-rule="evenodd"/>
<path d="M170.5,126.7 170.0,126.9 162.5,126.8 161.5,126.3 156.0,126.2 154.5,125.7 149.5,125.6 148.0,125.1 143.5,125.0 142.2,123.5 140.3,120.0 146.5,119.7 151.5,119.2 157.0,118.3 162.5,116.8 167.5,114.9 171.5,112.8 175.0,110.3 177.3,108.0 178.7,108.0 179.5,108.4 182.9,108.5 186.0,110.8 190.5,113.6 192.2,115.0 192.1,116.5 191.6,117.5 191.6,118.5 190.8,121.0 190.5,123.6 189.0,123.5 188.0,124.0 186.0,124.0 185.0,124.5 183.0,124.5 182.0,125.0 180.0,125.0 179.0,125.4 177.0,125.5 176.0,125.9 174.0,126.0 173.0,126.4 171.5,126.4 170.5,126.7Z" fill="#0000b4" fill-rule="evenodd"/></g></g>
<polyline fill="none" stroke="#2474b5" stroke-width="1.3" points="27.5,42.6 43,42.8 60,40.6 132,34 165.4,32.4 169.7,29.85 237.6,29.4"/>
</g></g>
<g transform="translate(431,132.2)">
<g clip-path="url(#clipp12b)"><polyline fill="none" stroke="#111" stroke-width="1.05" points="27.5,49.7 39.3,51.8 51.6,54.8 63.9,58.3 76.2,62.8 88.5,69 100.8,75 118.75,85 137.5,96.25 156.25,108.4 175,121 186.3,129.6 188,131"/></g>
<rect x="174.9" y="26.1" width="3.8" height="3.8" fill="#000"/>
<rect x="222.8" y="26.1" width="3.8" height="3.8" fill="#000"/>
<g fill="#fff" stroke="#1a1a1a" stroke-width="0.85"><circle cx="102.3" cy="43" r="2.35"/><circle cx="92.6" cy="49.4" r="2.35"/><circle cx="96.7" cy="50.3" r="2.35"/><circle cx="109.3" cy="57.4" r="2.35"/><circle cx="106" cy="64.8" r="2.35"/><circle cx="113.5" cy="66.2" r="2.35"/><circle cx="137.2" cy="53.7" r="2.35"/><circle cx="148.7" cy="49.3" r="2.35"/><circle cx="145.3" cy="55.4" r="2.35"/><circle cx="148.1" cy="55.4" r="2.35"/><circle cx="133.6" cy="62.1" r="2.35"/><circle cx="137.3" cy="63" r="2.35"/><circle cx="140" cy="61.7" r="2.35"/><circle cx="136.8" cy="66.4" r="2.35"/><circle cx="127" cy="65.4" r="2.35"/><circle cx="119.4" cy="68.1" r="2.35"/><circle cx="122.4" cy="68" r="2.35"/><circle cx="108.1" cy="68.2" r="2.35"/><circle cx="165.2" cy="44.2" r="2.35"/><circle cx="163.1" cy="46.4" r="2.35"/><circle cx="157.2" cy="48.2" r="2.35"/><circle cx="148.2" cy="51.7" r="2.35"/><circle cx="156" cy="51.9" r="2.35"/><circle cx="153.9" cy="55.8" r="2.35"/><circle cx="157.9" cy="55.5" r="2.35"/><circle cx="161.4" cy="54.1" r="2.35"/><circle cx="164.1" cy="56.7" r="2.35"/><circle cx="168.2" cy="54.1" r="2.35"/><circle cx="152.2" cy="59.6" r="2.35"/><circle cx="161.4" cy="61.5" r="2.35"/><circle cx="160.9" cy="57.8" r="2.35"/><circle cx="150.9" cy="66" r="2.35"/><circle cx="154.6" cy="66.1" r="2.35"/><circle cx="150.5" cy="50.2" r="2.35"/><circle cx="150" cy="52.9" r="2.35"/><circle cx="150.8" cy="69.7" r="2.35"/><circle cx="191.9" cy="43.9" r="2.35"/><circle cx="190.4" cy="47.3" r="2.35"/><circle cx="69.5" cy="42.6" r="2.35"/><circle cx="111.2" cy="67" r="2.35"/><circle cx="111.7" cy="70.8" r="2.35"/><circle cx="115.5" cy="70.8" r="2.35"/><circle cx="126.3" cy="70.2" r="2.35"/><circle cx="118.7" cy="75.6" r="2.35"/><circle cx="121.4" cy="76.2" r="2.35"/><circle cx="124.6" cy="73.5" r="2.35"/><circle cx="126.8" cy="76.7" r="2.35"/><circle cx="130.6" cy="74" r="2.35"/><circle cx="125.2" cy="79.4" r="2.35"/><circle cx="127.9" cy="81" r="2.35"/><circle cx="131.6" cy="78.3" r="2.35"/><circle cx="133.8" cy="79.9" r="2.35"/><circle cx="137.1" cy="74.2" r="2.35"/><circle cx="140.1" cy="70.8" r="2.35"/><circle cx="140.6" cy="73.5" r="2.35"/><circle cx="141.3" cy="75.6" r="2.35"/><circle cx="139.2" cy="80.2" r="2.35"/><circle cx="133.3" cy="84.8" r="2.35"/><circle cx="136.8" cy="86.8" r="2.35"/><circle cx="138.7" cy="84" r="2.35"/><circle cx="143.3" cy="84.8" r="2.35"/><circle cx="148.5" cy="69.8" r="2.35"/><circle cx="146.3" cy="74.5" r="2.35"/><circle cx="149" cy="74.2" r="2.35"/><circle cx="154.4" cy="76.6" r="2.35"/><circle cx="157.1" cy="79.5" r="2.35"/><circle cx="152.2" cy="81.4" r="2.35"/><circle cx="170" cy="79.5" r="2.35"/><circle cx="166.3" cy="81.7" r="2.35"/><circle cx="162.5" cy="83.5" r="2.35"/><circle cx="136.1" cy="79" r="2.35"/><circle cx="149" cy="84.6" r="2.35"/><circle cx="146.3" cy="88.5" r="2.35"/><circle cx="158.2" cy="87.6" r="2.35"/><circle cx="162.8" cy="87.4" r="2.35"/><circle cx="165.7" cy="90.6" r="2.35"/><circle cx="167.9" cy="93.2" r="2.35"/><circle cx="169.5" cy="95.9" r="2.35"/><circle cx="147.9" cy="92.9" r="2.35"/><circle cx="152.8" cy="93.4" r="2.35"/><circle cx="154.4" cy="90.3" r="2.35"/><circle cx="155.5" cy="95.5" r="2.35"/><circle cx="158.2" cy="93.3" r="2.35"/><circle cx="152.2" cy="97" r="2.35"/><circle cx="157.6" cy="97.3" r="2.35"/><circle cx="161.7" cy="99.2" r="2.35"/><circle cx="177.6" cy="96.3" r="2.35"/><circle cx="154.9" cy="99" r="2.35"/><circle cx="158.2" cy="102.8" r="2.35"/><circle cx="160.9" cy="104.4" r="2.35"/><circle cx="162.5" cy="106.5" r="2.35"/><circle cx="165.2" cy="102.2" r="2.35"/><circle cx="172.2" cy="107.6" r="2.35"/><circle cx="174.7" cy="108.7" r="2.35"/><circle cx="183.7" cy="113.4" r="2.35"/><circle cx="184.7" cy="119.1" r="2.35"/><circle cx="202.1" cy="70.3" r="2.35"/><circle cx="207.5" cy="80.4" r="2.35"/><circle cx="191.8" cy="95.7" r="2.35"/><circle cx="195.1" cy="98.8" r="2.35"/><circle cx="217.1" cy="98" r="2.35"/><circle cx="219.7" cy="100.2" r="2.35"/><circle cx="214.6" cy="102.8" r="2.35"/><circle cx="211.6" cy="113" r="2.35"/><circle cx="209.7" cy="115.5" r="2.35"/><circle cx="192.7" cy="121.8" r="2.35"/><circle cx="197.7" cy="124" r="2.35"/><circle cx="189.4" cy="125.5" r="2.35"/><circle cx="193.9" cy="124.9" r="2.35"/><circle cx="196.4" cy="127.7" r="2.35"/><circle cx="209.9" cy="128" r="2.35"/><circle cx="208.3" cy="129.9" r="2.35"/><circle cx="228.1" cy="51.8" r="2.35"/></g>
</g>
<rect x="458.5" y="147.5" width="208.8" height="116.1" fill="none" stroke="#3c3c3c" stroke-width="1"/>
<line x1="511.3" y1="263.6" x2="511.3" y2="265.6" stroke="#3c3c3c" stroke-width="0.8"/>
<text x="511.3" y="273.9" font-size="9.2" text-anchor="middle" font-family="Liberation Sans, sans-serif" fill="#1a1a1a">−71</text>
<line x1="615.8" y1="263.6" x2="615.8" y2="265.6" stroke="#3c3c3c" stroke-width="0.8"/>
<text x="615.8" y="273.9" font-size="9.2" text-anchor="middle" font-family="Liberation Sans, sans-serif" fill="#1a1a1a">−70</text>
<line x1="456.7" y1="164.6" x2="458.5" y2="164.6" stroke="#3c3c3c" stroke-width="0.8"/>
<line x1="456.7" y1="197.7" x2="458.5" y2="197.7" stroke="#3c3c3c" stroke-width="0.8"/>
<line x1="456.7" y1="230.8" x2="458.5" y2="230.8" stroke="#3c3c3c" stroke-width="0.8"/>
<line x1="456.7" y1="263.9" x2="458.5" y2="263.9" stroke="#3c3c3c" stroke-width="0.8"/>
<text x="462.7" y="160.3" font-size="12.2" font-family="Liberation Sans, sans-serif" fill="#1a1a1a">f)</text>
<rect x="669.5" y="17.4" width="14.7" height="114" fill="#fff" stroke="#3c3c3c" stroke-width="1"/>
<rect x="669.5" y="148.4" width="14.7" height="115.7" fill="#fff" stroke="#3c3c3c" stroke-width="1"/>
<text transform="translate(673.4,70.7) rotate(90)" font-size="10.2" text-anchor="middle" font-family="Liberation Sans, sans-serif" fill="#1a1a1a">Poroelastic ΔCFS</text>
<text transform="translate(673.4,200.3) rotate(90)" font-size="10.2" text-anchor="middle" font-family="Liberation Sans, sans-serif" fill="#1a1a1a">Afterslip ΔCFS</text>
<text transform="translate(10.2,73.3) rotate(-90)" font-size="13" text-anchor="middle" font-family="Liberation Sans, sans-serif" fill="#1a1a1a">Depth (km)</text>
<text transform="translate(10.2,205.5) rotate(-90)" font-size="13" text-anchor="middle" font-family="Liberation Sans, sans-serif" fill="#1a1a1a">Depth (km)</text>
<text x="252.9" y="286.9" font-size="12.9" font-family="Liberation Sans, sans-serif" fill="#1a1a1a">Longitude along profile P-P′ (°)</text>
<defs><linearGradient id="cbg" x1="0" x2="1" y1="0" y2="0"><stop offset="0" stop-color="#2a2c7c"/><stop offset="0.1" stop-color="#2b3f93"/><stop offset="0.3" stop-color="#2f55a4"/><stop offset="0.38" stop-color="#5f87c4"/><stop offset="0.43" stop-color="#8ccbe8"/><stop offset="0.47" stop-color="#c9e8f5"/><stop offset="0.5" stop-color="#ffffff"/><stop offset="0.53" stop-color="#fdf6d4"/><stop offset="0.6" stop-color="#f6ea6a"/><stop offset="0.66" stop-color="#f2e100"/><stop offset="0.7" stop-color="#f5a623"/><stop offset="0.76" stop-color="#e8502a"/><stop offset="0.86" stop-color="#e0161e"/><stop offset="1" stop-color="#8e1a1a"/></linearGradient></defs>
<path d="M425.2,300.3 L528.6,300.3 L533.8000000000001,304.3 L528.6,308.3 L425.2,308.3 L420.2,304.3 Z" fill="url(#cbg)" stroke="#111" stroke-width="0.9"/>
<line x1="425.2" y1="308.3" x2="425.2" y2="310.90000000000003" stroke="#111" stroke-width="0.9"/>
<text x="425.2" y="321.5" font-size="10" text-anchor="middle" font-family="Liberation Sans, sans-serif" fill="#1a1a1a">-4</text>
<line x1="451.05" y1="308.3" x2="451.05" y2="310.90000000000003" stroke="#111" stroke-width="0.9"/>
<text x="451.05" y="321.5" font-size="10" text-anchor="middle" font-family="Liberation Sans, sans-serif" fill="#1a1a1a">-2</text>
<line x1="476.9" y1="308.3" x2="476.9" y2="310.90000000000003" stroke="#111" stroke-width="0.9"/>
<text x="476.9" y="321.5" font-size="10" text-anchor="middle" font-family="Liberation Sans, sans-serif" fill="#1a1a1a">0</text>
<line x1="502.75" y1="308.3" x2="502.75" y2="310.90000000000003" stroke="#111" stroke-width="0.9"/>
<text x="502.75" y="321.5" font-size="10" text-anchor="middle" font-family="Liberation Sans, sans-serif" fill="#1a1a1a">2</text>
<line x1="528.6" y1="308.3" x2="528.6" y2="310.90000000000003" stroke="#111" stroke-width="0.9"/>
<text x="528.6" y="321.5" font-size="10" text-anchor="middle" font-family="Liberation Sans, sans-serif" fill="#1a1a1a">4</text>
<text x="480.6" y="295.3" font-size="10.1" text-anchor="middle" font-family="Liberation Sans, sans-serif" fill="#1a1a1a">ΔCFS (bar)</text>
<text font-size="11.1" text-anchor="middle" font-family="Liberation Sans, sans-serif" fill="#1a1a1a"><tspan x="600.5" y="294.8">Upper-plate</tspan><tspan x="600.5" y="308.4">aftershocks within</tspan><tspan x="600.5" y="321.7">profile P-P′</tspan></text>
<g fill="#fff" stroke="#1a1a1a" stroke-width="0.8"><circle cx="671.8" cy="295.1" r="2.2"/><circle cx="664.5" cy="298.3" r="2.2"/><circle cx="678.3" cy="300.2" r="2.2"/><circle cx="671.1" cy="302.7" r="2.2"/><circle cx="660.6" cy="304.8" r="2.2"/><circle cx="675.4" cy="306.5" r="2.2"/><circle cx="669.1" cy="308.9" r="2.2"/></g>
</svg>
</body></html>
